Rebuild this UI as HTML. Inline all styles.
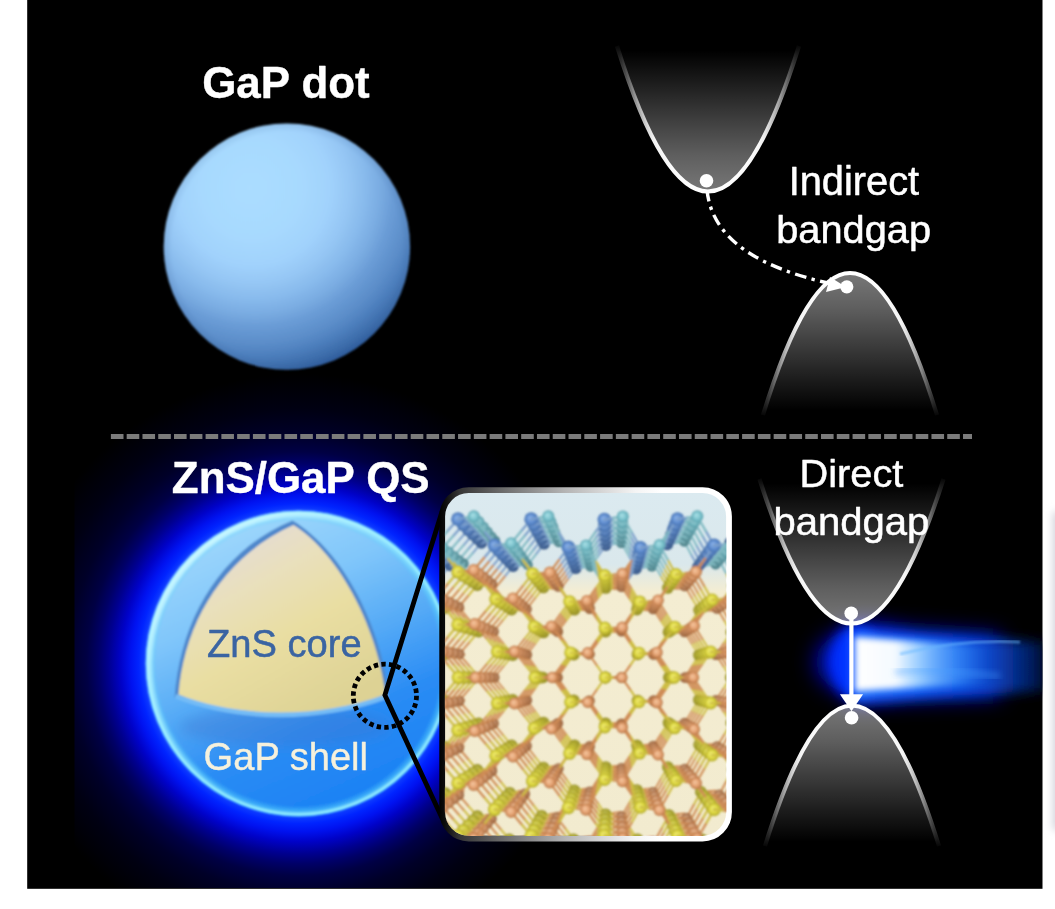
<!DOCTYPE html>
<html lang="en">
<head>
<meta charset="utf-8">
<title>GaP dot vs ZnS/GaP QS</title>
<style>
html,body{margin:0;padding:0;background:#fff;}
body{width:1055px;height:909px;overflow:hidden;font-family:"Liberation Sans",sans-serif;}
svg{display:block;}
</style>
</head>
<body>
<svg width="1055" height="909" viewBox="0 0 1055 909">
<defs>

<radialGradient id="gDot" gradientUnits="userSpaceOnUse" cx="257" cy="188" r="192" fx="250" fy="188"><stop offset="0.000" stop-color="#abddff"/><stop offset="0.263" stop-color="#a7d9fe"/><stop offset="0.400" stop-color="#a1d2fc"/><stop offset="0.500" stop-color="#95c6f4"/><stop offset="0.579" stop-color="#88baec"/><stop offset="0.658" stop-color="#79abe1"/><stop offset="0.721" stop-color="#6a9cd6"/><stop offset="0.816" stop-color="#5a8cc8"/><stop offset="0.868" stop-color="#4e80be"/><stop offset="0.947" stop-color="#3a6aa8"/><stop offset="1.000" stop-color="#28569a"/></radialGradient>
<radialGradient id="gDotRim" gradientUnits="userSpaceOnUse" cx="286.9" cy="246.6" r="123.2">
  <stop offset="0.93" stop-color="#345a90" stop-opacity="0"/>
  <stop offset="1" stop-color="#345a90" stop-opacity="0.15"/>
</radialGradient>
<linearGradient id="gFillUp" x1="0" y1="1" x2="0" y2="0">
  <stop offset="0" stop-color="#fff" stop-opacity="0.47"/>
  <stop offset="0.25" stop-color="#fff" stop-opacity="0.37"/>
  <stop offset="0.5" stop-color="#fff" stop-opacity="0.24"/>
  <stop offset="0.75" stop-color="#fff" stop-opacity="0.11"/>
  <stop offset="0.97" stop-color="#fff" stop-opacity="0"/>
</linearGradient>
<linearGradient id="gFillDn" x1="0" y1="0" x2="0" y2="1">
  <stop offset="0" stop-color="#fff" stop-opacity="0.47"/>
  <stop offset="0.25" stop-color="#fff" stop-opacity="0.37"/>
  <stop offset="0.5" stop-color="#fff" stop-opacity="0.24"/>
  <stop offset="0.75" stop-color="#fff" stop-opacity="0.11"/>
  <stop offset="0.97" stop-color="#fff" stop-opacity="0"/>
</linearGradient>
<linearGradient id="gStrUp" gradientUnits="objectBoundingBox" x1="0" y1="1" x2="0" y2="0">
  <stop offset="0" stop-color="#fff"/>
  <stop offset="0.35" stop-color="#fff" stop-opacity="0.95"/>
  <stop offset="0.6" stop-color="#fff" stop-opacity="0.6"/>
  <stop offset="0.8" stop-color="#fff" stop-opacity="0.3"/>
  <stop offset="1" stop-color="#fff" stop-opacity="0.03"/>
</linearGradient>
<linearGradient id="gStrDn" gradientUnits="objectBoundingBox" x1="0" y1="0" x2="0" y2="1">
  <stop offset="0" stop-color="#fff"/>
  <stop offset="0.35" stop-color="#fff" stop-opacity="0.95"/>
  <stop offset="0.6" stop-color="#fff" stop-opacity="0.6"/>
  <stop offset="0.8" stop-color="#fff" stop-opacity="0.3"/>
  <stop offset="1" stop-color="#fff" stop-opacity="0.03"/>
</linearGradient>
<radialGradient id="gGlow" gradientUnits="userSpaceOnUse" cx="298.6" cy="663.6" r="290">
  <stop offset="0.0000" stop-color="#1040ff"/><stop offset="0.5276" stop-color="#1040ff"/><stop offset="0.5517" stop-color="#0024ff"/><stop offset="0.5793" stop-color="#0012f0"/><stop offset="0.6138" stop-color="#0002c8"/><stop offset="0.6552" stop-color="#000090"/><stop offset="0.6897" stop-color="#000068"/><stop offset="0.7310" stop-color="#000044"/><stop offset="0.7931" stop-color="#000028"/><stop offset="0.8793" stop-color="#000012"/><stop offset="1.0000" stop-color="#000000"/>
</radialGradient>
<linearGradient id="gQS" gradientUnits="userSpaceOnUse" x1="225" y1="518" x2="355" y2="812">
  <stop offset="0" stop-color="#a2d9fc"/>
  <stop offset="0.28" stop-color="#80c6fa"/>
  <stop offset="0.52" stop-color="#52a8f6"/>
  <stop offset="0.72" stop-color="#2a8cf4"/>
  <stop offset="1" stop-color="#1a80f4"/>
</linearGradient>
<radialGradient id="gRim" gradientUnits="userSpaceOnUse" cx="298.6" cy="663.6" r="152.8">
  <stop offset="0.93" stop-color="#50d0ff" stop-opacity="0"/>
  <stop offset="0.968" stop-color="#5cd8ff" stop-opacity="0.55"/>
  <stop offset="0.986" stop-color="#a4f6ff" stop-opacity="1"/>
  <stop offset="1" stop-color="#40c8ff" stop-opacity="1"/>
</radialGradient>
<linearGradient id="gRimHi" gradientUnits="userSpaceOnUse" x1="190" y1="540" x2="400" y2="780">
  <stop offset="0" stop-color="#d8fbff" stop-opacity="0.9"/>
  <stop offset="0.45" stop-color="#b0f0ff" stop-opacity="0.35"/>
  <stop offset="0.7" stop-color="#b0f0ff" stop-opacity="0"/>
</linearGradient>
<linearGradient id="gCore" gradientUnits="userSpaceOnUse" x1="225" y1="545" x2="320" y2="715">
  <stop offset="0" stop-color="#e4dcd4"/>
  <stop offset="0.25" stop-color="#e9e0bc"/>
  <stop offset="0.55" stop-color="#e9dea2"/>
  <stop offset="1" stop-color="#ddd294"/>
</linearGradient>
<linearGradient id="gFrame" gradientUnits="userSpaceOnUse" x1="439" y1="0" x2="732" y2="0">
  <stop offset="0" stop-color="#000"/>
  <stop offset="0.02" stop-color="#0c0c0c"/>
  <stop offset="0.07" stop-color="#363636"/>
  <stop offset="0.235" stop-color="#727272"/>
  <stop offset="0.43" stop-color="#b4b4b4"/>
  <stop offset="0.67" stop-color="#f4f4f4"/>
  <stop offset="0.76" stop-color="#fff"/>
  <stop offset="1" stop-color="#fff"/>
</linearGradient>
<linearGradient id="gInBg" gradientUnits="userSpaceOnUse" x1="0" y1="492" x2="0" y2="836">
  <stop offset="0" stop-color="#dbeaf0"/>
  <stop offset="0.21" stop-color="#dae8ec"/>
  <stop offset="0.29" stop-color="#f4edd2"/>
  <stop offset="1" stop-color="#f2ebcf"/>
</linearGradient>
<clipPath id="cIn"><rect x="444.8" y="492.7" width="281.6" height="343.2" rx="24" ry="24"/></clipPath>
<clipPath id="cBlack"><rect x="27.2" y="0" width="1015.3" height="888.8"/></clipPath>
<clipPath id="cGlow"><rect x="74.5" y="0" width="500" height="888"/></clipPath>
<clipPath id="cQS"><circle cx="298.6" cy="663.6" r="152.8"/></clipPath>
<radialGradient id="ay0" cx="0.5" cy="0.5" r="0.5" fx="0.4" fy="0.38"><stop offset="0" stop-color="#f6f27a"/><stop offset="0.6" stop-color="#e4de44"/><stop offset="1" stop-color="#b6ae2c"/></radialGradient><radialGradient id="ay1" cx="0.5" cy="0.5" r="0.5" fx="0.4" fy="0.38"><stop offset="0" stop-color="#efeb76"/><stop offset="0.6" stop-color="#ded842"/><stop offset="1" stop-color="#b1a92a"/></radialGradient><radialGradient id="ay2" cx="0.5" cy="0.5" r="0.5" fx="0.4" fy="0.38"><stop offset="0" stop-color="#e9e573"/><stop offset="0.6" stop-color="#d8d240"/><stop offset="1" stop-color="#aca529"/></radialGradient><radialGradient id="ay3" cx="0.5" cy="0.5" r="0.5" fx="0.4" fy="0.38"><stop offset="0" stop-color="#e3df70"/><stop offset="0.6" stop-color="#d2cd3e"/><stop offset="1" stop-color="#a8a028"/></radialGradient><radialGradient id="ay4" cx="0.5" cy="0.5" r="0.5" fx="0.4" fy="0.38"><stop offset="0" stop-color="#ddd96d"/><stop offset="0.6" stop-color="#cdc73d"/><stop offset="1" stop-color="#a39c27"/></radialGradient><radialGradient id="ay5" cx="0.5" cy="0.5" r="0.5" fx="0.4" fy="0.38"><stop offset="0" stop-color="#d7d36a"/><stop offset="0.6" stop-color="#c7c23b"/><stop offset="1" stop-color="#9f9826"/></radialGradient><radialGradient id="ay6" cx="0.5" cy="0.5" r="0.5" fx="0.4" fy="0.38"><stop offset="0" stop-color="#d1cd67"/><stop offset="0.6" stop-color="#c1bc39"/><stop offset="1" stop-color="#9a9325"/></radialGradient><radialGradient id="ay7" cx="0.5" cy="0.5" r="0.5" fx="0.4" fy="0.38"><stop offset="0" stop-color="#cac764"/><stop offset="0.6" stop-color="#bcb738"/><stop offset="1" stop-color="#968f24"/></radialGradient><radialGradient id="ay8" cx="0.5" cy="0.5" r="0.5" fx="0.4" fy="0.38"><stop offset="0" stop-color="#c4c161"/><stop offset="0.6" stop-color="#b6b136"/><stop offset="1" stop-color="#918b23"/></radialGradient><radialGradient id="ay9" cx="0.5" cy="0.5" r="0.5" fx="0.4" fy="0.38"><stop offset="0" stop-color="#bebb5e"/><stop offset="0.6" stop-color="#b0ac34"/><stop offset="1" stop-color="#8d8622"/></radialGradient><radialGradient id="ay10" cx="0.5" cy="0.5" r="0.5" fx="0.4" fy="0.38"><stop offset="0" stop-color="#b8b55b"/><stop offset="0.6" stop-color="#aba633"/><stop offset="1" stop-color="#888221"/></radialGradient><radialGradient id="ay11" cx="0.5" cy="0.5" r="0.5" fx="0.4" fy="0.38"><stop offset="0" stop-color="#b2af58"/><stop offset="0.6" stop-color="#a5a031"/><stop offset="1" stop-color="#837e1f"/></radialGradient><radialGradient id="ay12" cx="0.5" cy="0.5" r="0.5" fx="0.4" fy="0.38"><stop offset="0" stop-color="#aca955"/><stop offset="0.6" stop-color="#9f9b2f"/><stop offset="1" stop-color="#7f791e"/></radialGradient><radialGradient id="ao0" cx="0.5" cy="0.5" r="0.5" fx="0.4" fy="0.38"><stop offset="0" stop-color="#f6c8a2"/><stop offset="0.6" stop-color="#e4a272"/><stop offset="1" stop-color="#b87444"/></radialGradient><radialGradient id="ao1" cx="0.5" cy="0.5" r="0.5" fx="0.4" fy="0.38"><stop offset="0" stop-color="#efc39d"/><stop offset="0.6" stop-color="#de9d6f"/><stop offset="1" stop-color="#b37142"/></radialGradient><radialGradient id="ao2" cx="0.5" cy="0.5" r="0.5" fx="0.4" fy="0.38"><stop offset="0" stop-color="#e9be99"/><stop offset="0.6" stop-color="#d8996c"/><stop offset="1" stop-color="#ae6e40"/></radialGradient><radialGradient id="ao3" cx="0.5" cy="0.5" r="0.5" fx="0.4" fy="0.38"><stop offset="0" stop-color="#e3b995"/><stop offset="0.6" stop-color="#d29569"/><stop offset="1" stop-color="#aa6b3e"/></radialGradient><radialGradient id="ao4" cx="0.5" cy="0.5" r="0.5" fx="0.4" fy="0.38"><stop offset="0" stop-color="#ddb491"/><stop offset="0.6" stop-color="#cd9166"/><stop offset="1" stop-color="#a5683d"/></radialGradient><radialGradient id="ao5" cx="0.5" cy="0.5" r="0.5" fx="0.4" fy="0.38"><stop offset="0" stop-color="#d7af8d"/><stop offset="0.6" stop-color="#c78d63"/><stop offset="1" stop-color="#a1653b"/></radialGradient><radialGradient id="ao6" cx="0.5" cy="0.5" r="0.5" fx="0.4" fy="0.38"><stop offset="0" stop-color="#d1aa89"/><stop offset="0.6" stop-color="#c18960"/><stop offset="1" stop-color="#9c6239"/></radialGradient><radialGradient id="ao7" cx="0.5" cy="0.5" r="0.5" fx="0.4" fy="0.38"><stop offset="0" stop-color="#caa585"/><stop offset="0.6" stop-color="#bc855e"/><stop offset="1" stop-color="#975f38"/></radialGradient><radialGradient id="ao8" cx="0.5" cy="0.5" r="0.5" fx="0.4" fy="0.38"><stop offset="0" stop-color="#c4a081"/><stop offset="0.6" stop-color="#b6815b"/><stop offset="1" stop-color="#935c36"/></radialGradient><radialGradient id="ao9" cx="0.5" cy="0.5" r="0.5" fx="0.4" fy="0.38"><stop offset="0" stop-color="#be9b7d"/><stop offset="0.6" stop-color="#b07d58"/><stop offset="1" stop-color="#8e5934"/></radialGradient><radialGradient id="ao10" cx="0.5" cy="0.5" r="0.5" fx="0.4" fy="0.38"><stop offset="0" stop-color="#b89679"/><stop offset="0.6" stop-color="#ab7955"/><stop offset="1" stop-color="#8a5733"/></radialGradient><radialGradient id="ao11" cx="0.5" cy="0.5" r="0.5" fx="0.4" fy="0.38"><stop offset="0" stop-color="#b29175"/><stop offset="0.6" stop-color="#a57552"/><stop offset="1" stop-color="#855431"/></radialGradient><radialGradient id="ao12" cx="0.5" cy="0.5" r="0.5" fx="0.4" fy="0.38"><stop offset="0" stop-color="#ac8c71"/><stop offset="0.6" stop-color="#9f714f"/><stop offset="1" stop-color="#80512f"/></radialGradient><radialGradient id="ab0" cx="0.5" cy="0.5" r="0.5" fx="0.4" fy="0.38"><stop offset="0" stop-color="#92baf0"/><stop offset="0.6" stop-color="#6492d6"/><stop offset="1" stop-color="#4a76b6"/></radialGradient><radialGradient id="ab1" cx="0.5" cy="0.5" r="0.5" fx="0.4" fy="0.38"><stop offset="0" stop-color="#8eb5ea"/><stop offset="0.6" stop-color="#618ed0"/><stop offset="1" stop-color="#4873b1"/></radialGradient><radialGradient id="ab2" cx="0.5" cy="0.5" r="0.5" fx="0.4" fy="0.38"><stop offset="0" stop-color="#8ab0e4"/><stop offset="0.6" stop-color="#5f8acb"/><stop offset="1" stop-color="#4670ac"/></radialGradient><radialGradient id="ab3" cx="0.5" cy="0.5" r="0.5" fx="0.4" fy="0.38"><stop offset="0" stop-color="#87acde"/><stop offset="0.6" stop-color="#5c87c5"/><stop offset="1" stop-color="#446da8"/></radialGradient><radialGradient id="ab4" cx="0.5" cy="0.5" r="0.5" fx="0.4" fy="0.38"><stop offset="0" stop-color="#83a7d8"/><stop offset="0.6" stop-color="#5a83c0"/><stop offset="1" stop-color="#426aa3"/></radialGradient><radialGradient id="ab5" cx="0.5" cy="0.5" r="0.5" fx="0.4" fy="0.38"><stop offset="0" stop-color="#7fa2d2"/><stop offset="0.6" stop-color="#577fbb"/><stop offset="1" stop-color="#40679f"/></radialGradient><radialGradient id="ab6" cx="0.5" cy="0.5" r="0.5" fx="0.4" fy="0.38"><stop offset="0" stop-color="#7c9ecc"/><stop offset="0.6" stop-color="#557cb5"/><stop offset="1" stop-color="#3e649a"/></radialGradient><radialGradient id="ab7" cx="0.5" cy="0.5" r="0.5" fx="0.4" fy="0.38"><stop offset="0" stop-color="#7899c6"/><stop offset="0.6" stop-color="#5278b0"/><stop offset="1" stop-color="#3d6196"/></radialGradient><radialGradient id="ab8" cx="0.5" cy="0.5" r="0.5" fx="0.4" fy="0.38"><stop offset="0" stop-color="#7494c0"/><stop offset="0.6" stop-color="#5074ab"/><stop offset="1" stop-color="#3b5e91"/></radialGradient><radialGradient id="ab9" cx="0.5" cy="0.5" r="0.5" fx="0.4" fy="0.38"><stop offset="0" stop-color="#7190ba"/><stop offset="0.6" stop-color="#4d71a5"/><stop offset="1" stop-color="#395b8d"/></radialGradient><radialGradient id="ab10" cx="0.5" cy="0.5" r="0.5" fx="0.4" fy="0.38"><stop offset="0" stop-color="#6d8bb4"/><stop offset="0.6" stop-color="#4b6da0"/><stop offset="1" stop-color="#375888"/></radialGradient><radialGradient id="ab11" cx="0.5" cy="0.5" r="0.5" fx="0.4" fy="0.38"><stop offset="0" stop-color="#6986ae"/><stop offset="0.6" stop-color="#48699b"/><stop offset="1" stop-color="#355583"/></radialGradient><radialGradient id="ab12" cx="0.5" cy="0.5" r="0.5" fx="0.4" fy="0.38"><stop offset="0" stop-color="#6682a8"/><stop offset="0.6" stop-color="#466695"/><stop offset="1" stop-color="#33527f"/></radialGradient><radialGradient id="ac0" cx="0.5" cy="0.5" r="0.5" fx="0.4" fy="0.38"><stop offset="0" stop-color="#ace2e8"/><stop offset="0.6" stop-color="#7ec4ce"/><stop offset="1" stop-color="#5aa2ae"/></radialGradient><radialGradient id="ac1" cx="0.5" cy="0.5" r="0.5" fx="0.4" fy="0.38"><stop offset="0" stop-color="#a7dce2"/><stop offset="0.6" stop-color="#7abfc8"/><stop offset="1" stop-color="#579da9"/></radialGradient><radialGradient id="ac2" cx="0.5" cy="0.5" r="0.5" fx="0.4" fy="0.38"><stop offset="0" stop-color="#a3d6dc"/><stop offset="0.6" stop-color="#77bac3"/><stop offset="1" stop-color="#5599a5"/></radialGradient><radialGradient id="ac3" cx="0.5" cy="0.5" r="0.5" fx="0.4" fy="0.38"><stop offset="0" stop-color="#9fd1d6"/><stop offset="0.6" stop-color="#74b5be"/><stop offset="1" stop-color="#5395a0"/></radialGradient><radialGradient id="ac4" cx="0.5" cy="0.5" r="0.5" fx="0.4" fy="0.38"><stop offset="0" stop-color="#9acbd0"/><stop offset="0.6" stop-color="#71b0b9"/><stop offset="1" stop-color="#51919c"/></radialGradient><radialGradient id="ac5" cx="0.5" cy="0.5" r="0.5" fx="0.4" fy="0.38"><stop offset="0" stop-color="#96c5cb"/><stop offset="0.6" stop-color="#6eabb4"/><stop offset="1" stop-color="#4e8d98"/></radialGradient><radialGradient id="ac6" cx="0.5" cy="0.5" r="0.5" fx="0.4" fy="0.38"><stop offset="0" stop-color="#92c0c5"/><stop offset="0.6" stop-color="#6ba6af"/><stop offset="1" stop-color="#4c8993"/></radialGradient><radialGradient id="ac7" cx="0.5" cy="0.5" r="0.5" fx="0.4" fy="0.38"><stop offset="0" stop-color="#8dbabf"/><stop offset="0.6" stop-color="#67a1a9"/><stop offset="1" stop-color="#4a858f"/></radialGradient><radialGradient id="ac8" cx="0.5" cy="0.5" r="0.5" fx="0.4" fy="0.38"><stop offset="0" stop-color="#89b4b9"/><stop offset="0.6" stop-color="#649ca4"/><stop offset="1" stop-color="#48818b"/></radialGradient><radialGradient id="ac9" cx="0.5" cy="0.5" r="0.5" fx="0.4" fy="0.38"><stop offset="0" stop-color="#85afb3"/><stop offset="0.6" stop-color="#61979f"/><stop offset="1" stop-color="#457d86"/></radialGradient><radialGradient id="ac10" cx="0.5" cy="0.5" r="0.5" fx="0.4" fy="0.38"><stop offset="0" stop-color="#81a9ae"/><stop offset="0.6" stop-color="#5e939a"/><stop offset="1" stop-color="#437982"/></radialGradient><radialGradient id="ac11" cx="0.5" cy="0.5" r="0.5" fx="0.4" fy="0.38"><stop offset="0" stop-color="#7ca3a8"/><stop offset="0.6" stop-color="#5b8e95"/><stop offset="1" stop-color="#41757e"/></radialGradient><radialGradient id="ac12" cx="0.5" cy="0.5" r="0.5" fx="0.4" fy="0.38"><stop offset="0" stop-color="#789ea2"/><stop offset="0.6" stop-color="#588990"/><stop offset="1" stop-color="#3e7179"/></radialGradient>
<filter id="bL" x="-5%" y="-5%" width="110%" height="110%"><feGaussianBlur stdDeviation="1.1"/></filter>
<filter id="b05" x="-5%" y="-5%" width="110%" height="110%"><feGaussianBlur stdDeviation="0.5"/></filter>
<filter id="b1" x="-5%" y="-5%" width="110%" height="110%"><feGaussianBlur stdDeviation="0.8"/></filter>
<filter id="b2" x="-10%" y="-10%" width="120%" height="120%"><feGaussianBlur stdDeviation="1.3"/></filter>
<filter id="b3" x="-20%" y="-40%" width="140%" height="180%"><feGaussianBlur stdDeviation="3"/></filter>
<filter id="b4" x="-300%" y="-20%" width="700%" height="140%"><feGaussianBlur stdDeviation="4"/></filter>
<filter id="b6" x="-30%" y="-50%" width="160%" height="200%"><feGaussianBlur stdDeviation="6"/></filter>
<filter id="b10" x="-40%" y="-80%" width="180%" height="260%"><feGaussianBlur stdDeviation="11"/></filter>
<linearGradient id="gBeam" gradientUnits="userSpaceOnUse" x1="855" y1="0" x2="1045" y2="0">
  <stop offset="0" stop-color="#2a7cff"/>
  <stop offset="0.3" stop-color="#1a6cff"/>
  <stop offset="0.55" stop-color="#1058e6"/>
  <stop offset="0.72" stop-color="#0a44c4"/>
  <stop offset="0.88" stop-color="#052678"/>
  <stop offset="1" stop-color="#010c30"/>
</linearGradient>
<linearGradient id="gBeamW" gradientUnits="userSpaceOnUse" x1="855" y1="0" x2="990" y2="0">
  <stop offset="0" stop-color="#fff" stop-opacity="1"/>
  <stop offset="0.30" stop-color="#f4faff" stop-opacity="1"/>
  <stop offset="0.46" stop-color="#b0dcff" stop-opacity="0.9"/>
  <stop offset="0.7" stop-color="#60b0ff" stop-opacity="0.6"/>
  <stop offset="1" stop-color="#3a90ff" stop-opacity="0"/>
</linearGradient>

</defs>
<rect x="0" y="0" width="1055" height="909" fill="#fff"/>
<rect x="1053" y="512" width="12" height="318" fill="#d2d2da" filter="url(#b4)"/>
<rect x="27.2" y="0" width="1015.3" height="888.8" fill="#000"/>
<g clip-path="url(#cBlack)">
<g clip-path="url(#cGlow)"><circle cx="298.6" cy="663.6" r="290" fill="url(#gGlow)"/></g>
<path d="M110.9,436.5H972" stroke="#7b7b7b" stroke-width="5" stroke-dasharray="12.6 3.18" fill="none"/>
<g filter="url(#b1)"><circle cx="286.9" cy="246.6" r="123.2" fill="url(#gDot)"/><circle cx="286.9" cy="246.6" r="123.2" fill="url(#gDotRim)"/></g>
<g>
<ellipse cx="866" cy="662" rx="50" ry="34" fill="#0010c8" filter="url(#b10)"/>
<path d="M850,626 L1000,636 L1000,696 L850,701 Z" fill="#0018d0" filter="url(#b10)"/>
<ellipse cx="856" cy="662" rx="26" ry="36" fill="#0030ff" filter="url(#b6)"/>
<path d="M853,631 L1046,642 L1046,691 L940,696 L853,701 Z" fill="url(#gBeam)" filter="url(#b6)"/>
<path d="M855,637 L990,647 L990,683 L855,691 Z" fill="url(#gBeamW)" filter="url(#b3)"/>
<path d="M900,654 C940,644 980,640 1020,642" stroke="#6ab8ff" stroke-opacity="0.55" stroke-width="3" fill="none" filter="url(#b2)"/>
<path d="M895,672 C930,668 960,672 1000,676" stroke="#4aa0ff" stroke-opacity="0.45" stroke-width="5" fill="none" filter="url(#b3)"/>
</g>
<path d="M617.0,46.0 Q708.0,337.0 799.0,46.0Z" fill="url(#gFillUp)"/>
<path d="M617.0,46.0 Q708.0,337.0 799.0,46.0" fill="none" stroke="url(#gStrUp)" stroke-width="4.2" filter="url(#b05)"/>
<path d="M763.0,415.0 Q850.0,131.0 937.0,415.0Z" fill="url(#gFillDn)"/>
<path d="M763.0,415.0 Q850.0,131.0 937.0,415.0" fill="none" stroke="url(#gStrDn)" stroke-width="4.2" filter="url(#b05)"/>
<path d="M759.5,479.0 Q851.5,768.0 943.5,479.0Z" fill="url(#gFillUp)"/>
<path d="M759.5,479.0 Q851.5,768.0 943.5,479.0" fill="none" stroke="url(#gStrUp)" stroke-width="4.2" filter="url(#b05)"/>
<path d="M765.0,846.0 Q852.0,565.0 939.0,846.0Z" fill="url(#gFillDn)"/>
<path d="M765.0,846.0 Q852.0,565.0 939.0,846.0" fill="none" stroke="url(#gStrDn)" stroke-width="4.2" filter="url(#b05)"/>
<path d="M707,190 C712,240 760,268 832,284" fill="none" stroke="#fff" stroke-width="3.4" stroke-dasharray="11.5 5.5 3.4 5.5"/>
<path d="M846,287 L826,292 L830,277 Z" fill="#fff"/>
<circle cx="706.5" cy="180.7" r="6.8" fill="#fff"/>
<circle cx="846.8" cy="286.8" r="6.6" fill="#fff"/>
<path d="M851.4,613V696" stroke="#fff" stroke-width="4.2" fill="none"/>
<path d="M839.9,694.2H863.1L851.5,711.2Z" fill="#fff"/>
<circle cx="851.2" cy="613.2" r="6.8" fill="#fff"/>
<circle cx="851.6" cy="717.7" r="6.8" fill="#fff"/>
<g filter="url(#b1)">
<circle cx="298.6" cy="663.6" r="152.8" fill="url(#gQS)"/>
<circle cx="298.6" cy="663.6" r="152.8" fill="url(#gRim)"/>
<circle cx="298.6" cy="663.6" r="149.3" fill="none" stroke="url(#gRimHi)" stroke-width="6" filter="url(#b2)"/>
<ellipse cx="285" cy="727" rx="105" ry="20" fill="#3a74cc" fill-opacity="0.35" filter="url(#b6)"/>
<path d="M292.5,520.5 C345,552 382,630 388.5,696 C320,722 240,722 174.5,697.5 C180,620 220,550 292.5,520.5Z" fill="#4f88cc"/>
<path d="M176,694 C240,716 320,716 388,694 L388,698.5 C320,723.5 240,723.5 175,698.5Z" fill="#74bcf6"/>
<path d="M293.5,525 C342,556 378,632 385.3,694.5 C320,718.5 240,718.5 178.5,694.5 C184,622 224,556 293.5,525Z" fill="url(#gCore)"/>
</g>
<circle cx="384.9" cy="695.8" r="31.6" fill="none" stroke="#000" stroke-width="4.8" stroke-dasharray="4.4 3.236"/>
<path d="M442.5,510 L384.9,695 L442.5,819" fill="none" stroke="#000" stroke-width="4.8" stroke-linejoin="miter"/>
<rect x="442.2" y="490.1" width="286.8" height="348.4" rx="26.5" ry="26.5" fill="url(#gInBg)" stroke="url(#gFrame)" stroke-width="5.8"/>
<g clip-path="url(#cIn)"><g filter="url(#bL)">
<g stroke-linecap="round" fill="none">
<path d="M450.3,565.4L441.1,553.1" stroke="#7c9fca" stroke-width="1.9"/>
<path d="M441.1,553.1L432.0,540.9" stroke="#80bac2" stroke-width="1.9"/>
<path d="M450.3,565.4L441.1,575.9" stroke="#7c9fca" stroke-width="1.9"/>
<path d="M441.1,575.9L432.0,586.4" stroke="#cf8c56" stroke-width="1.9"/>
<path d="M481.4,542.9L472.5,553.3" stroke="#7c9fca" stroke-width="1.9"/>
<path d="M472.5,553.3L463.6,563.7" stroke="#80bac2" stroke-width="1.9"/>
<path d="M513.1,566.1L504.1,553.5" stroke="#7c9fca" stroke-width="1.9"/>
<path d="M504.1,553.5L495.1,540.9" stroke="#80bac2" stroke-width="1.9"/>
<path d="M513.1,566.1L504.6,576.6" stroke="#7c9fca" stroke-width="1.9"/>
<path d="M504.6,576.6L496.0,587.1" stroke="#cf8c56" stroke-width="1.9"/>
<path d="M544.0,543.8L535.9,554.4" stroke="#7c9fca" stroke-width="1.9"/>
<path d="M535.9,554.4L527.7,565.0" stroke="#80bac2" stroke-width="1.9"/>
<path d="M575.7,568.4L567.2,555.3" stroke="#7c9fca" stroke-width="1.7"/>
<path d="M567.2,555.3L558.8,542.2" stroke="#80bac2" stroke-width="1.7"/>
<path d="M575.7,568.4L567.9,579.0" stroke="#7c9fca" stroke-width="1.7"/>
<path d="M567.9,579.0L560.2,589.6" stroke="#cf8c56" stroke-width="1.7"/>
<path d="M605.9,545.3L598.2,556.1" stroke="#7c9fca" stroke-width="1.8"/>
<path d="M598.2,556.1L590.5,566.9" stroke="#80bac2" stroke-width="1.8"/>
<path d="M636.1,568.7L628.7,555.9" stroke="#7c9fca" stroke-width="1.7"/>
<path d="M628.7,555.9L621.3,543.1" stroke="#80bac2" stroke-width="1.7"/>
<path d="M636.1,568.7L628.6,579.1" stroke="#7c9fca" stroke-width="1.7"/>
<path d="M628.6,579.1L621.1,589.4" stroke="#cf8c56" stroke-width="1.7"/>
<path d="M667.3,544.4L659.6,555.5" stroke="#7c9fca" stroke-width="1.9"/>
<path d="M659.6,555.5L651.9,566.6" stroke="#80bac2" stroke-width="1.9"/>
<path d="M697.9,566.8L691.0,554.2" stroke="#7c9fca" stroke-width="1.9"/>
<path d="M691.0,554.2L684.2,541.6" stroke="#80bac2" stroke-width="1.9"/>
<path d="M697.9,566.8L690.2,577.9" stroke="#7c9fca" stroke-width="1.9"/>
<path d="M690.2,577.9L682.5,589.0" stroke="#cf8c56" stroke-width="1.9"/>
<path d="M730.1,542.9L722.8,553.6" stroke="#7c9fca" stroke-width="1.9"/>
<path d="M722.8,553.6L715.6,564.3" stroke="#80bac2" stroke-width="1.9"/>
<circle cx="450.3" cy="565.4" r="5.8" fill="url(#ab11)"/>
<circle cx="481.4" cy="542.9" r="5.8" fill="url(#ab11)"/>
<circle cx="513.1" cy="566.1" r="5.8" fill="url(#ab11)"/>
<circle cx="544.0" cy="543.8" r="5.8" fill="url(#ab11)"/>
<circle cx="575.7" cy="568.4" r="5.7" fill="url(#ab11)"/>
<circle cx="605.9" cy="545.3" r="5.7" fill="url(#ab11)"/>
<circle cx="636.1" cy="568.7" r="5.7" fill="url(#ab11)"/>
<circle cx="667.3" cy="544.4" r="5.8" fill="url(#ab11)"/>
<circle cx="697.9" cy="566.8" r="5.8" fill="url(#ab11)"/>
<circle cx="730.1" cy="542.9" r="5.8" fill="url(#ab11)"/>
<path d="M450.3,565.4L456.9,564.5" stroke="#7c9fca" stroke-width="1.9"/>
<path d="M456.9,564.5L463.6,563.7" stroke="#80bac2" stroke-width="1.9"/>
<path d="M481.4,542.9L488.2,541.9" stroke="#7c9fca" stroke-width="1.9"/>
<path d="M488.2,541.9L495.1,540.9" stroke="#80bac2" stroke-width="1.9"/>
<path d="M513.1,566.1L520.4,565.6" stroke="#7c9fca" stroke-width="1.9"/>
<path d="M520.4,565.6L527.7,565.0" stroke="#80bac2" stroke-width="1.9"/>
<path d="M544.0,543.8L551.4,543.0" stroke="#7c9fca" stroke-width="1.9"/>
<path d="M551.4,543.0L558.8,542.2" stroke="#80bac2" stroke-width="1.9"/>
<path d="M575.7,568.4L583.1,567.7" stroke="#7c9fca" stroke-width="1.7"/>
<path d="M583.1,567.7L590.5,566.9" stroke="#80bac2" stroke-width="1.7"/>
<path d="M605.9,545.3L613.6,544.2" stroke="#7c9fca" stroke-width="1.8"/>
<path d="M613.6,544.2L621.3,543.1" stroke="#80bac2" stroke-width="1.8"/>
<path d="M636.1,568.7L644.0,567.7" stroke="#7c9fca" stroke-width="1.7"/>
<path d="M644.0,567.7L651.9,566.6" stroke="#80bac2" stroke-width="1.7"/>
<path d="M667.3,544.4L675.7,543.0" stroke="#7c9fca" stroke-width="1.9"/>
<path d="M675.7,543.0L684.2,541.6" stroke="#80bac2" stroke-width="1.9"/>
<path d="M697.9,566.8L706.7,565.5" stroke="#7c9fca" stroke-width="1.9"/>
<path d="M706.7,565.5L715.6,564.3" stroke="#80bac2" stroke-width="1.9"/>
<path d="M730.1,542.9L738.9,541.9" stroke="#7c9fca" stroke-width="1.9"/>
<path d="M738.9,541.9L747.7,540.9" stroke="#80bac2" stroke-width="1.9"/>
<circle cx="463.6" cy="563.7" r="5.1" fill="url(#ac10)"/>
<circle cx="495.1" cy="540.9" r="5.1" fill="url(#ac10)"/>
<circle cx="527.7" cy="565.0" r="5.0" fill="url(#ac10)"/>
<circle cx="558.8" cy="542.2" r="5.0" fill="url(#ac10)"/>
<circle cx="590.5" cy="566.9" r="4.9" fill="url(#ac10)"/>
<circle cx="621.3" cy="543.1" r="5.0" fill="url(#ac10)"/>
<circle cx="651.9" cy="566.6" r="5.0" fill="url(#ac10)"/>
<circle cx="684.2" cy="541.6" r="5.1" fill="url(#ac10)"/>
<circle cx="715.6" cy="564.3" r="5.1" fill="url(#ac10)"/>
<path d="M445.2,561.9L454.4,562.8" stroke="#7c9fca" stroke-width="2.0"/>
<path d="M454.4,562.8L463.6,563.7" stroke="#80bac2" stroke-width="2.0"/>
<path d="M445.2,608.1L454.4,608.7" stroke="#cdbd44" stroke-width="2.0"/>
<path d="M454.4,608.7L463.6,609.2" stroke="#cf8c56" stroke-width="2.0"/>
<path d="M445.2,654.4L454.8,654.6" stroke="#cdbd44" stroke-width="2.0"/>
<path d="M454.8,654.6L464.3,654.9" stroke="#cf8c56" stroke-width="2.0"/>
<path d="M445.2,700.6L454.8,700.4" stroke="#cdbd44" stroke-width="2.0"/>
<path d="M454.8,700.4L464.3,700.1" stroke="#cf8c56" stroke-width="2.0"/>
<path d="M445.2,746.9L454.4,746.3" stroke="#cdbd44" stroke-width="2.0"/>
<path d="M454.4,746.3L463.6,745.8" stroke="#cf8c56" stroke-width="2.0"/>
<path d="M445.2,793.1L454.4,792.2" stroke="#cdbd44" stroke-width="2.0"/>
<path d="M454.4,792.2L463.6,791.3" stroke="#cf8c56" stroke-width="2.0"/>
<path d="M445.2,839.3L454.4,838.1" stroke="#cdbd44" stroke-width="2.0"/>
<path d="M454.4,838.1L463.6,836.9" stroke="#cf8c56" stroke-width="2.0"/>
<path d="M477.3,538.8L486.2,539.8" stroke="#7c9fca" stroke-width="2.0"/>
<path d="M486.2,539.8L495.1,540.9" stroke="#80bac2" stroke-width="2.0"/>
<path d="M477.3,585.0L486.6,586.1" stroke="#cdbd44" stroke-width="2.0"/>
<path d="M486.6,586.1L496.0,587.1" stroke="#cf8c56" stroke-width="2.0"/>
<path d="M478.7,631.7L488.1,632.3" stroke="#cdbd44" stroke-width="2.0"/>
<path d="M488.1,632.3L497.6,632.9" stroke="#cf8c56" stroke-width="2.0"/>
<path d="M479.3,677.5L488.7,677.5" stroke="#cdbd44" stroke-width="1.9"/>
<path d="M488.7,677.5L498.2,677.5" stroke="#cf8c56" stroke-width="1.9"/>
<path d="M478.7,723.3L488.1,722.7" stroke="#cdbd44" stroke-width="2.0"/>
<path d="M488.1,722.7L497.6,722.1" stroke="#cf8c56" stroke-width="2.0"/>
<path d="M477.3,770.0L486.6,768.9" stroke="#cdbd44" stroke-width="2.0"/>
<path d="M486.6,768.9L496.0,767.9" stroke="#cf8c56" stroke-width="2.0"/>
<path d="M477.3,816.2L486.2,815.2" stroke="#cdbd44" stroke-width="2.0"/>
<path d="M486.2,815.2L495.1,814.1" stroke="#cf8c56" stroke-width="2.0"/>
<path d="M509.7,562.3L518.7,563.7" stroke="#7c9fca" stroke-width="2.0"/>
<path d="M518.7,563.7L527.7,565.0" stroke="#80bac2" stroke-width="2.0"/>
<path d="M511.6,609.7L520.5,610.5" stroke="#cdbd44" stroke-width="1.8"/>
<path d="M520.5,610.5L529.4,611.3" stroke="#cf8c56" stroke-width="1.8"/>
<path d="M512.8,655.2L521.2,655.3" stroke="#cdbd44" stroke-width="1.7"/>
<path d="M521.2,655.3L529.6,655.5" stroke="#cf8c56" stroke-width="1.7"/>
<path d="M512.8,699.8L521.2,699.7" stroke="#cdbd44" stroke-width="1.7"/>
<path d="M521.2,699.7L529.6,699.5" stroke="#cf8c56" stroke-width="1.7"/>
<path d="M511.6,745.3L520.5,744.5" stroke="#cdbd44" stroke-width="1.8"/>
<path d="M520.5,744.5L529.4,743.7" stroke="#cf8c56" stroke-width="1.8"/>
<path d="M509.7,792.7L518.7,791.3" stroke="#cdbd44" stroke-width="2.0"/>
<path d="M518.7,791.3L527.7,790.0" stroke="#cf8c56" stroke-width="2.0"/>
<path d="M509.3,839.3L518.0,838.1" stroke="#cdbd44" stroke-width="2.0"/>
<path d="M518.0,838.1L526.7,836.9" stroke="#cf8c56" stroke-width="2.0"/>
<path d="M541.6,539.3L550.2,540.7" stroke="#7c9fca" stroke-width="2.0"/>
<path d="M550.2,540.7L558.8,542.2" stroke="#80bac2" stroke-width="2.0"/>
<path d="M543.4,587.6L551.8,588.6" stroke="#cdbd44" stroke-width="1.8"/>
<path d="M551.8,588.6L560.2,589.6" stroke="#cf8c56" stroke-width="1.8"/>
<path d="M543.5,632.6L551.4,632.7" stroke="#cdbd44" stroke-width="1.6"/>
<path d="M551.4,632.7L559.3,632.8" stroke="#cf8c56" stroke-width="1.6"/>
<path d="M543.0,677.5L550.9,677.5" stroke="#cdbd44" stroke-width="1.6"/>
<path d="M550.9,677.5L558.7,677.5" stroke="#cf8c56" stroke-width="1.6"/>
<path d="M543.5,722.4L551.4,722.3" stroke="#cdbd44" stroke-width="1.6"/>
<path d="M551.4,722.3L559.3,722.2" stroke="#cf8c56" stroke-width="1.6"/>
<path d="M543.4,767.4L551.8,766.4" stroke="#cdbd44" stroke-width="1.8"/>
<path d="M551.8,766.4L560.2,765.4" stroke="#cf8c56" stroke-width="1.8"/>
<path d="M541.6,815.7L550.2,814.3" stroke="#cdbd44" stroke-width="2.0"/>
<path d="M550.2,814.3L558.8,812.8" stroke="#cf8c56" stroke-width="2.0"/>
<path d="M574.4,564.8L582.5,565.8" stroke="#7c9fca" stroke-width="1.8"/>
<path d="M582.5,565.8L590.5,566.9" stroke="#80bac2" stroke-width="1.8"/>
<path d="M574.5,609.9L582.4,610.2" stroke="#cdbd44" stroke-width="1.6"/>
<path d="M582.4,610.2L590.3,610.5" stroke="#cf8c56" stroke-width="1.6"/>
<path d="M573.8,654.6L581.7,654.6" stroke="#cdbd44" stroke-width="1.5"/>
<path d="M581.7,654.6L589.7,654.6" stroke="#cf8c56" stroke-width="1.5"/>
<path d="M573.8,700.4L581.7,700.4" stroke="#cdbd44" stroke-width="1.5"/>
<path d="M581.7,700.4L589.7,700.4" stroke="#cf8c56" stroke-width="1.5"/>
<path d="M574.5,745.1L582.4,744.8" stroke="#cdbd44" stroke-width="1.6"/>
<path d="M582.4,744.8L590.3,744.5" stroke="#cf8c56" stroke-width="1.6"/>
<path d="M574.4,790.2L582.5,789.2" stroke="#cdbd44" stroke-width="1.8"/>
<path d="M582.5,789.2L590.5,788.1" stroke="#cf8c56" stroke-width="1.8"/>
<path d="M573.4,839.3L581.6,838.0" stroke="#cdbd44" stroke-width="2.0"/>
<path d="M581.6,838.0L589.9,836.7" stroke="#cf8c56" stroke-width="2.0"/>
<path d="M605.6,540.8L613.4,542.0" stroke="#7c9fca" stroke-width="1.9"/>
<path d="M613.4,542.0L621.3,543.1" stroke="#80bac2" stroke-width="1.9"/>
<path d="M605.8,588.1L613.4,588.8" stroke="#cdbd44" stroke-width="1.7"/>
<path d="M613.4,588.8L621.1,589.4" stroke="#cf8c56" stroke-width="1.7"/>
<path d="M605.6,631.7L613.5,631.9" stroke="#cdbd44" stroke-width="1.5"/>
<path d="M613.5,631.9L621.4,632.1" stroke="#cf8c56" stroke-width="1.5"/>
<path d="M605.4,677.5L613.5,677.5" stroke="#cdbd44" stroke-width="1.3"/>
<path d="M613.5,677.5L621.5,677.5" stroke="#cf8c56" stroke-width="1.3"/>
<path d="M605.6,723.3L613.5,723.1" stroke="#cdbd44" stroke-width="1.5"/>
<path d="M613.5,723.1L621.4,722.9" stroke="#cf8c56" stroke-width="1.5"/>
<path d="M605.8,766.9L613.4,766.2" stroke="#cdbd44" stroke-width="1.7"/>
<path d="M613.4,766.2L621.1,765.6" stroke="#cf8c56" stroke-width="1.7"/>
<path d="M605.6,814.2L613.4,813.0" stroke="#cdbd44" stroke-width="1.9"/>
<path d="M613.4,813.0L621.3,811.9" stroke="#cf8c56" stroke-width="1.9"/>
<path d="M636.9,565.1L644.4,565.9" stroke="#7c9fca" stroke-width="1.8"/>
<path d="M644.4,565.9L651.9,566.6" stroke="#80bac2" stroke-width="1.8"/>
<path d="M637.0,609.7L644.5,610.3" stroke="#cdbd44" stroke-width="1.6"/>
<path d="M644.5,610.3L652.0,610.8" stroke="#cf8c56" stroke-width="1.6"/>
<path d="M637.5,654.4L645.2,654.6" stroke="#cdbd44" stroke-width="1.4"/>
<path d="M645.2,654.6L652.9,654.8" stroke="#cf8c56" stroke-width="1.4"/>
<path d="M637.5,700.6L645.2,700.4" stroke="#cdbd44" stroke-width="1.4"/>
<path d="M645.2,700.4L652.9,700.2" stroke="#cf8c56" stroke-width="1.4"/>
<path d="M637.0,745.3L644.5,744.7" stroke="#cdbd44" stroke-width="1.6"/>
<path d="M644.5,744.7L652.0,744.2" stroke="#cf8c56" stroke-width="1.6"/>
<path d="M636.9,789.9L644.4,789.1" stroke="#cdbd44" stroke-width="1.8"/>
<path d="M644.4,789.1L651.9,788.4" stroke="#cf8c56" stroke-width="1.8"/>
<path d="M637.5,839.3L645.3,838.1" stroke="#cdbd44" stroke-width="2.0"/>
<path d="M645.3,838.1L653.0,836.9" stroke="#cf8c56" stroke-width="2.0"/>
<path d="M669.1,539.9L676.7,540.7" stroke="#7c9fca" stroke-width="2.0"/>
<path d="M676.7,540.7L684.2,541.6" stroke="#80bac2" stroke-width="2.0"/>
<path d="M667.7,588.1L675.1,588.6" stroke="#cdbd44" stroke-width="1.7"/>
<path d="M675.1,588.6L682.5,589.0" stroke="#cf8c56" stroke-width="1.7"/>
<path d="M668.4,632.3L675.4,632.8" stroke="#cdbd44" stroke-width="1.6"/>
<path d="M675.4,632.8L682.5,633.3" stroke="#cf8c56" stroke-width="1.6"/>
<path d="M668.8,677.5L676.0,677.5" stroke="#cdbd44" stroke-width="1.5"/>
<path d="M676.0,677.5L683.2,677.5" stroke="#cf8c56" stroke-width="1.5"/>
<path d="M668.4,722.7L675.4,722.2" stroke="#cdbd44" stroke-width="1.6"/>
<path d="M675.4,722.2L682.5,721.7" stroke="#cf8c56" stroke-width="1.6"/>
<path d="M667.7,766.9L675.1,766.4" stroke="#cdbd44" stroke-width="1.7"/>
<path d="M675.1,766.4L682.5,766.0" stroke="#cf8c56" stroke-width="1.7"/>
<path d="M669.1,815.1L676.7,814.3" stroke="#cdbd44" stroke-width="2.0"/>
<path d="M676.7,814.3L684.2,813.4" stroke="#cf8c56" stroke-width="2.0"/>
<path d="M700.8,563.1L708.2,563.7" stroke="#7c9fca" stroke-width="2.0"/>
<path d="M708.2,563.7L715.6,564.3" stroke="#80bac2" stroke-width="2.0"/>
<path d="M699.0,610.2L706.3,610.5" stroke="#cdbd44" stroke-width="1.8"/>
<path d="M706.3,610.5L713.7,610.8" stroke="#cf8c56" stroke-width="1.8"/>
<path d="M698.7,655.1L705.6,655.3" stroke="#cdbd44" stroke-width="1.6"/>
<path d="M705.6,655.3L712.6,655.5" stroke="#cf8c56" stroke-width="1.6"/>
<path d="M698.7,699.9L705.6,699.7" stroke="#cdbd44" stroke-width="1.6"/>
<path d="M705.6,699.7L712.6,699.5" stroke="#cf8c56" stroke-width="1.6"/>
<path d="M699.0,744.8L706.3,744.5" stroke="#cdbd44" stroke-width="1.8"/>
<path d="M706.3,744.5L713.7,744.2" stroke="#cf8c56" stroke-width="1.8"/>
<path d="M700.8,791.9L708.2,791.3" stroke="#cdbd44" stroke-width="2.0"/>
<path d="M708.2,791.3L715.6,790.7" stroke="#cf8c56" stroke-width="2.0"/>
<path d="M701.7,839.3L708.9,838.1" stroke="#cdbd44" stroke-width="2.0"/>
<path d="M708.9,838.1L716.1,836.9" stroke="#cf8c56" stroke-width="2.0"/>
<path d="M733.7,538.8L740.7,539.8" stroke="#7c9fca" stroke-width="2.0"/>
<path d="M740.7,539.8L747.7,540.9" stroke="#80bac2" stroke-width="2.0"/>
<path d="M733.0,585.6L740.3,586.0" stroke="#cdbd44" stroke-width="2.0"/>
<path d="M740.3,586.0L747.7,586.4" stroke="#cf8c56" stroke-width="2.0"/>
<path d="M731.3,632.2L738.7,632.3" stroke="#cdbd44" stroke-width="1.9"/>
<path d="M738.7,632.3L746.1,632.5" stroke="#cf8c56" stroke-width="1.9"/>
<path d="M730.7,677.5L738.1,677.5" stroke="#cdbd44" stroke-width="1.8"/>
<path d="M738.1,677.5L745.5,677.5" stroke="#cf8c56" stroke-width="1.8"/>
<path d="M731.3,722.8L738.7,722.7" stroke="#cdbd44" stroke-width="1.9"/>
<path d="M738.7,722.7L746.1,722.5" stroke="#cf8c56" stroke-width="1.9"/>
<path d="M733.0,769.4L740.3,769.0" stroke="#cdbd44" stroke-width="2.0"/>
<path d="M740.3,769.0L747.7,768.6" stroke="#cf8c56" stroke-width="2.0"/>
<path d="M733.7,816.2L740.7,815.2" stroke="#cdbd44" stroke-width="2.0"/>
<path d="M740.7,815.2L747.7,814.1" stroke="#cf8c56" stroke-width="2.0"/>
<path d="M445.2,561.9L435.7,549.2" stroke="#7c9fca" stroke-width="2.0"/>
<path d="M435.7,549.2L426.3,536.6" stroke="#80bac2" stroke-width="2.0"/>
<path d="M445.2,561.9L435.7,572.7" stroke="#7c9fca" stroke-width="2.0"/>
<path d="M435.7,572.7L426.3,583.6" stroke="#cf8c56" stroke-width="2.0"/>
<path d="M445.2,608.1L435.7,595.8" stroke="#cdbd44" stroke-width="2.0"/>
<path d="M435.7,595.8L426.3,583.6" stroke="#cf8c56" stroke-width="2.0"/>
<path d="M445.2,608.1L435.7,619.3" stroke="#cdbd44" stroke-width="2.0"/>
<path d="M435.7,619.3L426.3,630.5" stroke="#cf8c56" stroke-width="2.0"/>
<path d="M445.2,654.4L435.7,642.5" stroke="#cdbd44" stroke-width="2.0"/>
<path d="M435.7,642.5L426.3,630.5" stroke="#cf8c56" stroke-width="2.0"/>
<path d="M445.2,654.4L435.7,665.9" stroke="#cdbd44" stroke-width="2.0"/>
<path d="M435.7,665.9L426.3,677.5" stroke="#cf8c56" stroke-width="2.0"/>
<path d="M445.2,700.6L435.7,689.1" stroke="#cdbd44" stroke-width="2.0"/>
<path d="M435.7,689.1L426.3,677.5" stroke="#cf8c56" stroke-width="2.0"/>
<path d="M445.2,700.6L435.7,712.5" stroke="#cdbd44" stroke-width="2.0"/>
<path d="M435.7,712.5L426.3,724.5" stroke="#cf8c56" stroke-width="2.0"/>
<path d="M445.2,746.9L435.7,735.7" stroke="#cdbd44" stroke-width="2.0"/>
<path d="M435.7,735.7L426.3,724.5" stroke="#cf8c56" stroke-width="2.0"/>
<path d="M445.2,746.9L435.7,759.2" stroke="#cdbd44" stroke-width="2.0"/>
<path d="M435.7,759.2L426.3,771.4" stroke="#cf8c56" stroke-width="2.0"/>
<path d="M445.2,793.1L435.7,782.3" stroke="#cdbd44" stroke-width="2.0"/>
<path d="M435.7,782.3L426.3,771.4" stroke="#cf8c56" stroke-width="2.0"/>
<path d="M445.2,793.1L435.7,805.8" stroke="#cdbd44" stroke-width="2.0"/>
<path d="M435.7,805.8L426.3,818.4" stroke="#cf8c56" stroke-width="2.0"/>
<path d="M445.2,839.3L435.7,828.9" stroke="#cdbd44" stroke-width="2.0"/>
<path d="M435.7,828.9L426.3,818.4" stroke="#cf8c56" stroke-width="2.0"/>
<path d="M445.2,839.3L435.7,852.4" stroke="#cdbd44" stroke-width="2.0"/>
<path d="M435.7,852.4L426.3,865.4" stroke="#cf8c56" stroke-width="2.0"/>
<path d="M477.3,538.8L468.0,549.4" stroke="#7c9fca" stroke-width="2.0"/>
<path d="M468.0,549.4L458.8,560.1" stroke="#80bac2" stroke-width="2.0"/>
<path d="M477.3,585.0L468.0,572.5" stroke="#cdbd44" stroke-width="2.0"/>
<path d="M468.0,572.5L458.8,560.1" stroke="#80bac2" stroke-width="2.0"/>
<path d="M477.3,585.0L468.0,596.0" stroke="#cdbd44" stroke-width="2.0"/>
<path d="M468.0,596.0L458.8,607.0" stroke="#cf8c56" stroke-width="2.0"/>
<path d="M478.7,631.7L468.7,619.4" stroke="#cdbd44" stroke-width="2.0"/>
<path d="M468.7,619.4L458.8,607.0" stroke="#cf8c56" stroke-width="2.0"/>
<path d="M478.7,631.7L468.9,642.9" stroke="#cdbd44" stroke-width="2.0"/>
<path d="M468.9,642.9L459.2,654.1" stroke="#cf8c56" stroke-width="2.0"/>
<path d="M479.3,677.5L469.2,665.8" stroke="#cdbd44" stroke-width="1.9"/>
<path d="M469.2,665.8L459.2,654.1" stroke="#cf8c56" stroke-width="1.9"/>
<path d="M479.3,677.5L469.2,689.2" stroke="#cdbd44" stroke-width="1.9"/>
<path d="M469.2,689.2L459.2,700.9" stroke="#cf8c56" stroke-width="1.9"/>
<path d="M478.7,723.3L468.9,712.1" stroke="#cdbd44" stroke-width="2.0"/>
<path d="M468.9,712.1L459.2,700.9" stroke="#cf8c56" stroke-width="2.0"/>
<path d="M478.7,723.3L468.7,735.6" stroke="#cdbd44" stroke-width="2.0"/>
<path d="M468.7,735.6L458.8,748.0" stroke="#cf8c56" stroke-width="2.0"/>
<path d="M477.3,770.0L468.0,759.0" stroke="#cdbd44" stroke-width="2.0"/>
<path d="M468.0,759.0L458.8,748.0" stroke="#cf8c56" stroke-width="2.0"/>
<path d="M477.3,770.0L468.0,782.5" stroke="#cdbd44" stroke-width="2.0"/>
<path d="M468.0,782.5L458.8,794.9" stroke="#cf8c56" stroke-width="2.0"/>
<path d="M477.3,816.2L468.0,805.6" stroke="#cdbd44" stroke-width="2.0"/>
<path d="M468.0,805.6L458.8,794.9" stroke="#cf8c56" stroke-width="2.0"/>
<path d="M477.3,816.2L468.0,829.1" stroke="#cdbd44" stroke-width="2.0"/>
<path d="M468.0,829.1L458.8,841.9" stroke="#cf8c56" stroke-width="2.0"/>
<path d="M477.3,862.5L468.0,852.2" stroke="#cdbd44" stroke-width="2.0"/>
<path d="M468.0,852.2L458.8,841.9" stroke="#cf8c56" stroke-width="2.0"/>
<path d="M509.7,562.3L500.6,549.5" stroke="#7c9fca" stroke-width="2.0"/>
<path d="M500.6,549.5L491.4,536.6" stroke="#80bac2" stroke-width="2.0"/>
<path d="M509.7,562.3L500.8,573.2" stroke="#7c9fca" stroke-width="2.0"/>
<path d="M500.8,573.2L491.9,584.0" stroke="#cf8c56" stroke-width="2.0"/>
<path d="M511.6,609.7L501.8,596.8" stroke="#cdbd44" stroke-width="1.8"/>
<path d="M501.8,596.8L491.9,584.0" stroke="#cf8c56" stroke-width="1.8"/>
<path d="M511.6,609.7L502.6,620.5" stroke="#cdbd44" stroke-width="1.8"/>
<path d="M502.6,620.5L493.6,631.4" stroke="#cf8c56" stroke-width="1.8"/>
<path d="M512.8,655.2L503.2,643.3" stroke="#cdbd44" stroke-width="1.7"/>
<path d="M503.2,643.3L493.6,631.4" stroke="#cf8c56" stroke-width="1.7"/>
<path d="M512.8,655.2L503.5,666.3" stroke="#cdbd44" stroke-width="1.7"/>
<path d="M503.5,666.3L494.3,677.5" stroke="#cf8c56" stroke-width="1.7"/>
<path d="M512.8,699.8L503.5,688.7" stroke="#cdbd44" stroke-width="1.7"/>
<path d="M503.5,688.7L494.3,677.5" stroke="#cf8c56" stroke-width="1.7"/>
<path d="M512.8,699.8L503.2,711.7" stroke="#cdbd44" stroke-width="1.7"/>
<path d="M503.2,711.7L493.6,723.6" stroke="#cf8c56" stroke-width="1.7"/>
<path d="M511.6,745.3L502.6,734.5" stroke="#cdbd44" stroke-width="1.8"/>
<path d="M502.6,734.5L493.6,723.6" stroke="#cf8c56" stroke-width="1.8"/>
<path d="M511.6,745.3L501.8,758.2" stroke="#cdbd44" stroke-width="1.8"/>
<path d="M501.8,758.2L491.9,771.0" stroke="#cf8c56" stroke-width="1.8"/>
<path d="M509.7,792.7L500.8,781.8" stroke="#cdbd44" stroke-width="2.0"/>
<path d="M500.8,781.8L491.9,771.0" stroke="#cf8c56" stroke-width="2.0"/>
<path d="M509.7,792.7L500.6,805.5" stroke="#cdbd44" stroke-width="2.0"/>
<path d="M500.6,805.5L491.4,818.4" stroke="#cf8c56" stroke-width="2.0"/>
<path d="M509.3,839.3L500.4,828.9" stroke="#cdbd44" stroke-width="2.0"/>
<path d="M500.4,828.9L491.4,818.4" stroke="#cf8c56" stroke-width="2.0"/>
<path d="M509.3,839.3L500.4,852.4" stroke="#cdbd44" stroke-width="2.0"/>
<path d="M500.4,852.4L491.4,865.4" stroke="#cf8c56" stroke-width="2.0"/>
<path d="M541.6,539.3L533.2,550.2" stroke="#7c9fca" stroke-width="2.0"/>
<path d="M533.2,550.2L524.7,561.1" stroke="#80bac2" stroke-width="2.0"/>
<path d="M543.4,587.6L534.1,574.3" stroke="#cdbd44" stroke-width="1.8"/>
<path d="M534.1,574.3L524.7,561.1" stroke="#80bac2" stroke-width="1.8"/>
<path d="M543.4,587.6L535.0,598.3" stroke="#cdbd44" stroke-width="1.8"/>
<path d="M535.0,598.3L526.6,609.1" stroke="#cf8c56" stroke-width="1.8"/>
<path d="M543.5,632.6L535.0,620.9" stroke="#cdbd44" stroke-width="1.6"/>
<path d="M535.0,620.9L526.6,609.1" stroke="#cf8c56" stroke-width="1.6"/>
<path d="M543.5,632.6L535.2,643.7" stroke="#cdbd44" stroke-width="1.6"/>
<path d="M535.2,643.7L526.9,654.8" stroke="#cf8c56" stroke-width="1.6"/>
<path d="M543.0,677.5L535.0,666.1" stroke="#cdbd44" stroke-width="1.6"/>
<path d="M535.0,666.1L526.9,654.8" stroke="#cf8c56" stroke-width="1.6"/>
<path d="M543.0,677.5L535.0,688.9" stroke="#cdbd44" stroke-width="1.6"/>
<path d="M535.0,688.9L526.9,700.2" stroke="#cf8c56" stroke-width="1.6"/>
<path d="M543.5,722.4L535.2,711.3" stroke="#cdbd44" stroke-width="1.6"/>
<path d="M535.2,711.3L526.9,700.2" stroke="#cf8c56" stroke-width="1.6"/>
<path d="M543.5,722.4L535.0,734.1" stroke="#cdbd44" stroke-width="1.6"/>
<path d="M535.0,734.1L526.6,745.9" stroke="#cf8c56" stroke-width="1.6"/>
<path d="M543.4,767.4L535.0,756.7" stroke="#cdbd44" stroke-width="1.8"/>
<path d="M535.0,756.7L526.6,745.9" stroke="#cf8c56" stroke-width="1.8"/>
<path d="M543.4,767.4L534.1,780.7" stroke="#cdbd44" stroke-width="1.8"/>
<path d="M534.1,780.7L524.7,793.9" stroke="#cf8c56" stroke-width="1.8"/>
<path d="M541.6,815.7L533.2,804.8" stroke="#cdbd44" stroke-width="2.0"/>
<path d="M533.2,804.8L524.7,793.9" stroke="#cf8c56" stroke-width="2.0"/>
<path d="M541.6,815.7L532.8,828.8" stroke="#cdbd44" stroke-width="2.0"/>
<path d="M532.8,828.8L524.0,841.9" stroke="#cf8c56" stroke-width="2.0"/>
<path d="M541.4,862.5L532.7,852.2" stroke="#cdbd44" stroke-width="2.0"/>
<path d="M532.7,852.2L524.0,841.9" stroke="#cf8c56" stroke-width="2.0"/>
<path d="M574.4,564.8L565.7,551.1" stroke="#7c9fca" stroke-width="1.8"/>
<path d="M565.7,551.1L556.9,537.5" stroke="#80bac2" stroke-width="1.8"/>
<path d="M574.4,564.8L566.4,575.7" stroke="#7c9fca" stroke-width="1.8"/>
<path d="M566.4,575.7L558.4,586.6" stroke="#cf8c56" stroke-width="1.8"/>
<path d="M574.5,609.9L566.4,598.3" stroke="#cdbd44" stroke-width="1.6"/>
<path d="M566.4,598.3L558.4,586.6" stroke="#cf8c56" stroke-width="1.6"/>
<path d="M574.5,609.9L566.2,620.8" stroke="#cdbd44" stroke-width="1.6"/>
<path d="M566.2,620.8L557.9,631.7" stroke="#cf8c56" stroke-width="1.6"/>
<path d="M573.8,654.6L565.9,643.1" stroke="#cdbd44" stroke-width="1.5"/>
<path d="M565.9,643.1L557.9,631.7" stroke="#cf8c56" stroke-width="1.5"/>
<path d="M573.8,654.6L565.7,666.0" stroke="#cdbd44" stroke-width="1.5"/>
<path d="M565.7,666.0L557.6,677.5" stroke="#cf8c56" stroke-width="1.5"/>
<path d="M573.8,700.4L565.7,689.0" stroke="#cdbd44" stroke-width="1.5"/>
<path d="M565.7,689.0L557.6,677.5" stroke="#cf8c56" stroke-width="1.5"/>
<path d="M573.8,700.4L565.9,711.9" stroke="#cdbd44" stroke-width="1.5"/>
<path d="M565.9,711.9L557.9,723.3" stroke="#cf8c56" stroke-width="1.5"/>
<path d="M574.5,745.1L566.2,734.2" stroke="#cdbd44" stroke-width="1.6"/>
<path d="M566.2,734.2L557.9,723.3" stroke="#cf8c56" stroke-width="1.6"/>
<path d="M574.5,745.1L566.4,756.7" stroke="#cdbd44" stroke-width="1.6"/>
<path d="M566.4,756.7L558.4,768.4" stroke="#cf8c56" stroke-width="1.6"/>
<path d="M574.4,790.2L566.4,779.3" stroke="#cdbd44" stroke-width="1.8"/>
<path d="M566.4,779.3L558.4,768.4" stroke="#cf8c56" stroke-width="1.8"/>
<path d="M574.4,790.2L565.7,803.9" stroke="#cdbd44" stroke-width="1.8"/>
<path d="M565.7,803.9L556.9,817.5" stroke="#cf8c56" stroke-width="1.8"/>
<path d="M573.4,839.3L565.2,828.4" stroke="#cdbd44" stroke-width="2.0"/>
<path d="M565.2,828.4L556.9,817.5" stroke="#cf8c56" stroke-width="2.0"/>
<path d="M573.4,839.3L565.0,852.4" stroke="#cdbd44" stroke-width="2.0"/>
<path d="M565.0,852.4L556.5,865.4" stroke="#cf8c56" stroke-width="2.0"/>
<path d="M605.6,540.8L597.7,552.0" stroke="#7c9fca" stroke-width="1.9"/>
<path d="M597.7,552.0L589.7,563.2" stroke="#80bac2" stroke-width="1.9"/>
<path d="M605.8,588.1L597.7,575.6" stroke="#cdbd44" stroke-width="1.7"/>
<path d="M597.7,575.6L589.7,563.2" stroke="#80bac2" stroke-width="1.7"/>
<path d="M605.8,588.1L597.7,598.5" stroke="#cdbd44" stroke-width="1.7"/>
<path d="M597.7,598.5L589.7,608.8" stroke="#cf8c56" stroke-width="1.7"/>
<path d="M605.6,631.7L597.6,620.2" stroke="#cdbd44" stroke-width="1.5"/>
<path d="M597.6,620.2L589.7,608.8" stroke="#cf8c56" stroke-width="1.5"/>
<path d="M605.6,631.7L597.5,643.0" stroke="#cdbd44" stroke-width="1.5"/>
<path d="M597.5,643.0L589.4,654.3" stroke="#cf8c56" stroke-width="1.5"/>
<path d="M605.4,677.5L597.4,665.9" stroke="#cdbd44" stroke-width="1.3"/>
<path d="M597.4,665.9L589.4,654.3" stroke="#cf8c56" stroke-width="1.3"/>
<path d="M605.4,677.5L597.4,689.1" stroke="#cdbd44" stroke-width="1.3"/>
<path d="M597.4,689.1L589.4,700.7" stroke="#cf8c56" stroke-width="1.3"/>
<path d="M605.6,723.3L597.5,712.0" stroke="#cdbd44" stroke-width="1.5"/>
<path d="M597.5,712.0L589.4,700.7" stroke="#cf8c56" stroke-width="1.5"/>
<path d="M605.6,723.3L597.6,734.8" stroke="#cdbd44" stroke-width="1.5"/>
<path d="M597.6,734.8L589.7,746.2" stroke="#cf8c56" stroke-width="1.5"/>
<path d="M605.8,766.9L597.7,756.5" stroke="#cdbd44" stroke-width="1.7"/>
<path d="M597.7,756.5L589.7,746.2" stroke="#cf8c56" stroke-width="1.7"/>
<path d="M605.8,766.9L597.7,779.4" stroke="#cdbd44" stroke-width="1.7"/>
<path d="M597.7,779.4L589.7,791.8" stroke="#cf8c56" stroke-width="1.7"/>
<path d="M605.6,814.2L597.7,803.0" stroke="#cdbd44" stroke-width="1.9"/>
<path d="M597.7,803.0L589.7,791.8" stroke="#cf8c56" stroke-width="1.9"/>
<path d="M605.6,814.2L597.3,828.0" stroke="#cdbd44" stroke-width="1.9"/>
<path d="M597.3,828.0L589.1,841.9" stroke="#cf8c56" stroke-width="1.9"/>
<path d="M605.5,862.5L597.3,852.2" stroke="#cdbd44" stroke-width="2.0"/>
<path d="M597.3,852.2L589.1,841.9" stroke="#cf8c56" stroke-width="2.0"/>
<path d="M636.9,565.1L629.2,551.8" stroke="#7c9fca" stroke-width="1.8"/>
<path d="M629.2,551.8L621.5,538.5" stroke="#80bac2" stroke-width="1.8"/>
<path d="M636.9,565.1L629.1,575.9" stroke="#7c9fca" stroke-width="1.8"/>
<path d="M629.1,575.9L621.4,586.7" stroke="#cf8c56" stroke-width="1.8"/>
<path d="M637.0,609.7L629.2,598.2" stroke="#cdbd44" stroke-width="1.6"/>
<path d="M629.2,598.2L621.4,586.7" stroke="#cf8c56" stroke-width="1.6"/>
<path d="M637.0,609.7L629.3,620.5" stroke="#cdbd44" stroke-width="1.6"/>
<path d="M629.3,620.5L621.5,631.2" stroke="#cf8c56" stroke-width="1.6"/>
<path d="M637.5,654.4L629.5,642.8" stroke="#cdbd44" stroke-width="1.4"/>
<path d="M629.5,642.8L621.5,631.2" stroke="#cf8c56" stroke-width="1.4"/>
<path d="M637.5,654.4L629.5,666.0" stroke="#cdbd44" stroke-width="1.4"/>
<path d="M629.5,666.0L621.6,677.5" stroke="#cf8c56" stroke-width="1.4"/>
<path d="M637.5,700.6L629.5,689.0" stroke="#cdbd44" stroke-width="1.4"/>
<path d="M629.5,689.0L621.6,677.5" stroke="#cf8c56" stroke-width="1.4"/>
<path d="M637.5,700.6L629.5,712.2" stroke="#cdbd44" stroke-width="1.4"/>
<path d="M629.5,712.2L621.5,723.8" stroke="#cf8c56" stroke-width="1.4"/>
<path d="M637.0,745.3L629.3,734.5" stroke="#cdbd44" stroke-width="1.6"/>
<path d="M629.3,734.5L621.5,723.8" stroke="#cf8c56" stroke-width="1.6"/>
<path d="M637.0,745.3L629.2,756.8" stroke="#cdbd44" stroke-width="1.6"/>
<path d="M629.2,756.8L621.4,768.3" stroke="#cf8c56" stroke-width="1.6"/>
<path d="M636.9,789.9L629.1,779.1" stroke="#cdbd44" stroke-width="1.8"/>
<path d="M629.1,779.1L621.4,768.3" stroke="#cf8c56" stroke-width="1.8"/>
<path d="M636.9,789.9L629.2,803.2" stroke="#cdbd44" stroke-width="1.8"/>
<path d="M629.2,803.2L621.5,816.5" stroke="#cf8c56" stroke-width="1.8"/>
<path d="M637.5,839.3L629.5,827.9" stroke="#cdbd44" stroke-width="2.0"/>
<path d="M629.5,827.9L621.5,816.5" stroke="#cf8c56" stroke-width="2.0"/>
<path d="M637.5,839.3L629.6,852.4" stroke="#cdbd44" stroke-width="2.0"/>
<path d="M629.6,852.4L621.6,865.4" stroke="#cf8c56" stroke-width="2.0"/>
<path d="M669.1,539.9L661.2,551.4" stroke="#7c9fca" stroke-width="2.0"/>
<path d="M661.2,551.4L653.2,562.9" stroke="#80bac2" stroke-width="2.0"/>
<path d="M667.7,588.1L660.5,575.5" stroke="#cdbd44" stroke-width="1.7"/>
<path d="M660.5,575.5L653.2,562.9" stroke="#80bac2" stroke-width="1.7"/>
<path d="M667.7,588.1L660.4,598.6" stroke="#cdbd44" stroke-width="1.7"/>
<path d="M660.4,598.6L653.1,609.0" stroke="#cf8c56" stroke-width="1.7"/>
<path d="M668.4,632.3L660.7,620.7" stroke="#cdbd44" stroke-width="1.6"/>
<path d="M660.7,620.7L653.1,609.0" stroke="#cf8c56" stroke-width="1.6"/>
<path d="M668.4,632.3L661.0,643.3" stroke="#cdbd44" stroke-width="1.6"/>
<path d="M661.0,643.3L653.6,654.4" stroke="#cf8c56" stroke-width="1.6"/>
<path d="M668.8,677.5L661.2,665.9" stroke="#cdbd44" stroke-width="1.5"/>
<path d="M661.2,665.9L653.6,654.4" stroke="#cf8c56" stroke-width="1.5"/>
<path d="M668.8,677.5L661.2,689.1" stroke="#cdbd44" stroke-width="1.5"/>
<path d="M661.2,689.1L653.6,700.6" stroke="#cf8c56" stroke-width="1.5"/>
<path d="M668.4,722.7L661.0,711.7" stroke="#cdbd44" stroke-width="1.6"/>
<path d="M661.0,711.7L653.6,700.6" stroke="#cf8c56" stroke-width="1.6"/>
<path d="M668.4,722.7L660.7,734.3" stroke="#cdbd44" stroke-width="1.6"/>
<path d="M660.7,734.3L653.1,746.0" stroke="#cf8c56" stroke-width="1.6"/>
<path d="M667.7,766.9L660.4,756.4" stroke="#cdbd44" stroke-width="1.7"/>
<path d="M660.4,756.4L653.1,746.0" stroke="#cf8c56" stroke-width="1.7"/>
<path d="M667.7,766.9L660.5,779.5" stroke="#cdbd44" stroke-width="1.7"/>
<path d="M660.5,779.5L653.2,792.1" stroke="#cf8c56" stroke-width="1.7"/>
<path d="M669.1,815.1L661.2,803.6" stroke="#cdbd44" stroke-width="2.0"/>
<path d="M661.2,803.6L653.2,792.1" stroke="#cf8c56" stroke-width="2.0"/>
<path d="M669.1,815.1L661.7,828.5" stroke="#cdbd44" stroke-width="2.0"/>
<path d="M661.7,828.5L654.2,841.9" stroke="#cf8c56" stroke-width="2.0"/>
<path d="M669.6,862.5L661.9,852.2" stroke="#cdbd44" stroke-width="2.0"/>
<path d="M661.9,852.2L654.2,841.9" stroke="#cf8c56" stroke-width="2.0"/>
<path d="M700.8,563.1L693.7,550.0" stroke="#7c9fca" stroke-width="2.0"/>
<path d="M693.7,550.0L686.6,536.9" stroke="#80bac2" stroke-width="2.0"/>
<path d="M700.8,563.1L692.8,574.6" stroke="#7c9fca" stroke-width="2.0"/>
<path d="M692.8,574.6L684.8,586.0" stroke="#cf8c56" stroke-width="2.0"/>
<path d="M699.0,610.2L691.9,598.1" stroke="#cdbd44" stroke-width="1.8"/>
<path d="M691.9,598.1L684.8,586.0" stroke="#cf8c56" stroke-width="1.8"/>
<path d="M699.0,610.2L691.7,621.1" stroke="#cdbd44" stroke-width="1.8"/>
<path d="M691.7,621.1L684.5,632.0" stroke="#cf8c56" stroke-width="1.8"/>
<path d="M698.7,655.1L691.6,643.6" stroke="#cdbd44" stroke-width="1.6"/>
<path d="M691.6,643.6L684.5,632.0" stroke="#cf8c56" stroke-width="1.6"/>
<path d="M698.7,655.1L691.8,666.3" stroke="#cdbd44" stroke-width="1.6"/>
<path d="M691.8,666.3L684.9,677.5" stroke="#cf8c56" stroke-width="1.6"/>
<path d="M698.7,699.9L691.8,688.7" stroke="#cdbd44" stroke-width="1.6"/>
<path d="M691.8,688.7L684.9,677.5" stroke="#cf8c56" stroke-width="1.6"/>
<path d="M698.7,699.9L691.6,711.4" stroke="#cdbd44" stroke-width="1.6"/>
<path d="M691.6,711.4L684.5,723.0" stroke="#cf8c56" stroke-width="1.6"/>
<path d="M699.0,744.8L691.7,733.9" stroke="#cdbd44" stroke-width="1.8"/>
<path d="M691.7,733.9L684.5,723.0" stroke="#cf8c56" stroke-width="1.8"/>
<path d="M699.0,744.8L691.9,756.9" stroke="#cdbd44" stroke-width="1.8"/>
<path d="M691.9,756.9L684.8,769.0" stroke="#cf8c56" stroke-width="1.8"/>
<path d="M700.8,791.9L692.8,780.4" stroke="#cdbd44" stroke-width="2.0"/>
<path d="M692.8,780.4L684.8,769.0" stroke="#cf8c56" stroke-width="2.0"/>
<path d="M700.8,791.9L693.7,805.0" stroke="#cdbd44" stroke-width="2.0"/>
<path d="M693.7,805.0L686.6,818.1" stroke="#cf8c56" stroke-width="2.0"/>
<path d="M701.7,839.3L694.1,828.7" stroke="#cdbd44" stroke-width="2.0"/>
<path d="M694.1,828.7L686.6,818.1" stroke="#cf8c56" stroke-width="2.0"/>
<path d="M701.7,839.3L694.2,852.4" stroke="#cdbd44" stroke-width="2.0"/>
<path d="M694.2,852.4L686.8,865.4" stroke="#cf8c56" stroke-width="2.0"/>
<path d="M733.7,538.8L726.4,549.6" stroke="#7c9fca" stroke-width="2.0"/>
<path d="M726.4,549.6L719.1,560.3" stroke="#80bac2" stroke-width="2.0"/>
<path d="M733.0,585.6L726.0,573.0" stroke="#cdbd44" stroke-width="2.0"/>
<path d="M726.0,573.0L719.1,560.3" stroke="#80bac2" stroke-width="2.0"/>
<path d="M733.0,585.6L725.1,597.0" stroke="#cdbd44" stroke-width="2.0"/>
<path d="M725.1,597.0L717.1,608.5" stroke="#cf8c56" stroke-width="2.0"/>
<path d="M731.3,632.2L724.2,620.3" stroke="#cdbd44" stroke-width="1.9"/>
<path d="M724.2,620.3L717.1,608.5" stroke="#cf8c56" stroke-width="1.9"/>
<path d="M731.3,632.2L723.6,643.5" stroke="#cdbd44" stroke-width="1.9"/>
<path d="M723.6,643.5L715.9,654.8" stroke="#cf8c56" stroke-width="1.9"/>
<path d="M730.7,677.5L723.3,666.1" stroke="#cdbd44" stroke-width="1.8"/>
<path d="M723.3,666.1L715.9,654.8" stroke="#cf8c56" stroke-width="1.8"/>
<path d="M730.7,677.5L723.3,688.9" stroke="#cdbd44" stroke-width="1.8"/>
<path d="M723.3,688.9L715.9,700.2" stroke="#cf8c56" stroke-width="1.8"/>
<path d="M731.3,722.8L723.6,711.5" stroke="#cdbd44" stroke-width="1.9"/>
<path d="M723.6,711.5L715.9,700.2" stroke="#cf8c56" stroke-width="1.9"/>
<path d="M731.3,722.8L724.2,734.7" stroke="#cdbd44" stroke-width="1.9"/>
<path d="M724.2,734.7L717.1,746.5" stroke="#cf8c56" stroke-width="1.9"/>
<path d="M733.0,769.4L725.1,758.0" stroke="#cdbd44" stroke-width="2.0"/>
<path d="M725.1,758.0L717.1,746.5" stroke="#cf8c56" stroke-width="2.0"/>
<path d="M733.0,769.4L726.0,782.0" stroke="#cdbd44" stroke-width="2.0"/>
<path d="M726.0,782.0L719.1,794.7" stroke="#cf8c56" stroke-width="2.0"/>
<path d="M733.7,816.2L726.4,805.4" stroke="#cdbd44" stroke-width="2.0"/>
<path d="M726.4,805.4L719.1,794.7" stroke="#cf8c56" stroke-width="2.0"/>
<path d="M733.7,816.2L726.5,829.1" stroke="#cdbd44" stroke-width="2.0"/>
<path d="M726.5,829.1L719.3,841.9" stroke="#cf8c56" stroke-width="2.0"/>
<path d="M733.7,862.5L726.5,852.2" stroke="#cdbd44" stroke-width="2.0"/>
<path d="M726.5,852.2L719.3,841.9" stroke="#cf8c56" stroke-width="2.0"/>
<circle cx="445.2" cy="561.9" r="6.0" fill="url(#ab9)"/>
<circle cx="445.2" cy="608.1" r="5.9" fill="url(#ay9)"/>
<circle cx="445.2" cy="654.4" r="5.9" fill="url(#ay9)"/>
<circle cx="445.2" cy="700.6" r="5.9" fill="url(#ay9)"/>
<circle cx="445.2" cy="746.9" r="5.9" fill="url(#ay9)"/>
<circle cx="445.2" cy="793.1" r="5.9" fill="url(#ay9)"/>
<circle cx="445.2" cy="839.3" r="5.9" fill="url(#ay9)"/>
<circle cx="477.3" cy="538.8" r="6.0" fill="url(#ab9)"/>
<circle cx="477.3" cy="585.0" r="5.9" fill="url(#ay9)"/>
<circle cx="478.7" cy="631.7" r="5.8" fill="url(#ay9)"/>
<circle cx="479.3" cy="677.5" r="5.8" fill="url(#ay9)"/>
<circle cx="478.7" cy="723.3" r="5.8" fill="url(#ay9)"/>
<circle cx="477.3" cy="770.0" r="5.9" fill="url(#ay9)"/>
<circle cx="477.3" cy="816.2" r="5.9" fill="url(#ay9)"/>
<circle cx="509.7" cy="562.3" r="6.0" fill="url(#ab9)"/>
<circle cx="511.6" cy="609.7" r="5.7" fill="url(#ay9)"/>
<circle cx="512.8" cy="655.2" r="5.7" fill="url(#ay9)"/>
<circle cx="512.8" cy="699.8" r="5.7" fill="url(#ay9)"/>
<circle cx="511.6" cy="745.3" r="5.7" fill="url(#ay9)"/>
<circle cx="509.7" cy="792.7" r="5.8" fill="url(#ay9)"/>
<circle cx="509.3" cy="839.3" r="5.9" fill="url(#ay9)"/>
<circle cx="541.6" cy="539.3" r="6.0" fill="url(#ab9)"/>
<circle cx="543.4" cy="587.6" r="5.7" fill="url(#ay9)"/>
<circle cx="543.5" cy="632.6" r="5.7" fill="url(#ay9)"/>
<circle cx="543.0" cy="677.5" r="5.7" fill="url(#ay9)"/>
<circle cx="543.5" cy="722.4" r="5.7" fill="url(#ay9)"/>
<circle cx="543.4" cy="767.4" r="5.7" fill="url(#ay9)"/>
<circle cx="541.6" cy="815.7" r="5.8" fill="url(#ay9)"/>
<circle cx="574.4" cy="564.8" r="5.9" fill="url(#ab9)"/>
<circle cx="574.5" cy="609.9" r="5.7" fill="url(#ay9)"/>
<circle cx="573.8" cy="654.6" r="5.8" fill="url(#ay9)"/>
<circle cx="573.8" cy="700.4" r="5.8" fill="url(#ay9)"/>
<circle cx="574.5" cy="745.1" r="5.7" fill="url(#ay9)"/>
<circle cx="574.4" cy="790.2" r="5.7" fill="url(#ay9)"/>
<circle cx="573.4" cy="839.3" r="5.9" fill="url(#ay9)"/>
<circle cx="605.6" cy="540.8" r="5.9" fill="url(#ab9)"/>
<circle cx="605.8" cy="588.1" r="5.7" fill="url(#ay9)"/>
<circle cx="605.6" cy="631.7" r="5.8" fill="url(#ay9)"/>
<circle cx="605.4" cy="677.5" r="5.9" fill="url(#ay9)"/>
<circle cx="605.6" cy="723.3" r="5.8" fill="url(#ay9)"/>
<circle cx="605.8" cy="766.9" r="5.7" fill="url(#ay9)"/>
<circle cx="605.6" cy="814.2" r="5.8" fill="url(#ay9)"/>
<circle cx="636.9" cy="565.1" r="5.9" fill="url(#ab9)"/>
<circle cx="637.0" cy="609.7" r="5.7" fill="url(#ay9)"/>
<circle cx="637.5" cy="654.4" r="5.8" fill="url(#ay9)"/>
<circle cx="637.5" cy="700.6" r="5.8" fill="url(#ay9)"/>
<circle cx="637.0" cy="745.3" r="5.7" fill="url(#ay9)"/>
<circle cx="636.9" cy="789.9" r="5.7" fill="url(#ay9)"/>
<circle cx="637.5" cy="839.3" r="5.9" fill="url(#ay9)"/>
<circle cx="669.1" cy="539.9" r="6.0" fill="url(#ab9)"/>
<circle cx="667.7" cy="588.1" r="5.7" fill="url(#ay9)"/>
<circle cx="668.4" cy="632.3" r="5.7" fill="url(#ay9)"/>
<circle cx="668.8" cy="677.5" r="5.8" fill="url(#ay9)"/>
<circle cx="668.4" cy="722.7" r="5.7" fill="url(#ay9)"/>
<circle cx="667.7" cy="766.9" r="5.7" fill="url(#ay9)"/>
<circle cx="669.1" cy="815.1" r="5.8" fill="url(#ay9)"/>
<circle cx="700.8" cy="563.1" r="6.0" fill="url(#ab9)"/>
<circle cx="699.0" cy="610.2" r="5.7" fill="url(#ay9)"/>
<circle cx="698.7" cy="655.1" r="5.7" fill="url(#ay9)"/>
<circle cx="698.7" cy="699.9" r="5.7" fill="url(#ay9)"/>
<circle cx="699.0" cy="744.8" r="5.7" fill="url(#ay9)"/>
<circle cx="700.8" cy="791.9" r="5.8" fill="url(#ay9)"/>
<circle cx="701.7" cy="839.3" r="5.9" fill="url(#ay9)"/>
<circle cx="733.7" cy="538.8" r="6.0" fill="url(#ab9)"/>
<circle cx="733.0" cy="585.6" r="5.8" fill="url(#ay9)"/>
<circle cx="731.3" cy="632.2" r="5.7" fill="url(#ay9)"/>
<circle cx="730.7" cy="677.5" r="5.7" fill="url(#ay9)"/>
<circle cx="731.3" cy="722.8" r="5.7" fill="url(#ay9)"/>
<circle cx="733.0" cy="769.4" r="5.8" fill="url(#ay9)"/>
<circle cx="733.7" cy="816.2" r="5.9" fill="url(#ay9)"/>
<path d="M445.2,561.9L452.0,561.0" stroke="#7c9fca" stroke-width="2.0"/>
<path d="M452.0,561.0L458.8,560.1" stroke="#80bac2" stroke-width="2.0"/>
<path d="M445.2,608.1L452.0,607.6" stroke="#cdbd44" stroke-width="2.0"/>
<path d="M452.0,607.6L458.8,607.0" stroke="#cf8c56" stroke-width="2.0"/>
<path d="M445.2,654.4L452.2,654.2" stroke="#cdbd44" stroke-width="2.0"/>
<path d="M452.2,654.2L459.2,654.1" stroke="#cf8c56" stroke-width="2.0"/>
<path d="M445.2,700.6L452.2,700.8" stroke="#cdbd44" stroke-width="2.0"/>
<path d="M452.2,700.8L459.2,700.9" stroke="#cf8c56" stroke-width="2.0"/>
<path d="M445.2,746.9L452.0,747.4" stroke="#cdbd44" stroke-width="2.0"/>
<path d="M452.0,747.4L458.8,748.0" stroke="#cf8c56" stroke-width="2.0"/>
<path d="M445.2,793.1L452.0,794.0" stroke="#cdbd44" stroke-width="2.0"/>
<path d="M452.0,794.0L458.8,794.9" stroke="#cf8c56" stroke-width="2.0"/>
<path d="M445.2,839.3L452.0,840.6" stroke="#cdbd44" stroke-width="2.0"/>
<path d="M452.0,840.6L458.8,841.9" stroke="#cf8c56" stroke-width="2.0"/>
<path d="M477.3,538.8L484.3,537.7" stroke="#7c9fca" stroke-width="2.0"/>
<path d="M484.3,537.7L491.4,536.6" stroke="#80bac2" stroke-width="2.0"/>
<path d="M477.3,585.0L484.6,584.5" stroke="#cdbd44" stroke-width="2.0"/>
<path d="M484.6,584.5L491.9,584.0" stroke="#cf8c56" stroke-width="2.0"/>
<path d="M478.7,631.7L486.2,631.6" stroke="#cdbd44" stroke-width="2.0"/>
<path d="M486.2,631.6L493.6,631.4" stroke="#cf8c56" stroke-width="2.0"/>
<path d="M479.3,677.5L486.8,677.5" stroke="#cdbd44" stroke-width="1.9"/>
<path d="M486.8,677.5L494.3,677.5" stroke="#cf8c56" stroke-width="1.9"/>
<path d="M478.7,723.3L486.2,723.4" stroke="#cdbd44" stroke-width="2.0"/>
<path d="M486.2,723.4L493.6,723.6" stroke="#cf8c56" stroke-width="2.0"/>
<path d="M477.3,770.0L484.6,770.5" stroke="#cdbd44" stroke-width="2.0"/>
<path d="M484.6,770.5L491.9,771.0" stroke="#cf8c56" stroke-width="2.0"/>
<path d="M477.3,816.2L484.3,817.3" stroke="#cdbd44" stroke-width="2.0"/>
<path d="M484.3,817.3L491.4,818.4" stroke="#cf8c56" stroke-width="2.0"/>
<path d="M509.7,562.3L517.2,561.7" stroke="#7c9fca" stroke-width="2.0"/>
<path d="M517.2,561.7L524.7,561.1" stroke="#80bac2" stroke-width="2.0"/>
<path d="M511.6,609.7L519.1,609.4" stroke="#cdbd44" stroke-width="1.8"/>
<path d="M519.1,609.4L526.6,609.1" stroke="#cf8c56" stroke-width="1.8"/>
<path d="M512.8,655.2L519.9,655.0" stroke="#cdbd44" stroke-width="1.7"/>
<path d="M519.9,655.0L526.9,654.8" stroke="#cf8c56" stroke-width="1.7"/>
<path d="M512.8,699.8L519.9,700.0" stroke="#cdbd44" stroke-width="1.7"/>
<path d="M519.9,700.0L526.9,700.2" stroke="#cf8c56" stroke-width="1.7"/>
<path d="M511.6,745.3L519.1,745.6" stroke="#cdbd44" stroke-width="1.8"/>
<path d="M519.1,745.6L526.6,745.9" stroke="#cf8c56" stroke-width="1.8"/>
<path d="M509.7,792.7L517.2,793.3" stroke="#cdbd44" stroke-width="2.0"/>
<path d="M517.2,793.3L524.7,793.9" stroke="#cf8c56" stroke-width="2.0"/>
<path d="M509.3,839.3L516.6,840.6" stroke="#cdbd44" stroke-width="2.0"/>
<path d="M516.6,840.6L524.0,841.9" stroke="#cf8c56" stroke-width="2.0"/>
<path d="M541.6,539.3L549.3,538.4" stroke="#7c9fca" stroke-width="2.0"/>
<path d="M549.3,538.4L556.9,537.5" stroke="#80bac2" stroke-width="2.0"/>
<path d="M543.4,587.6L550.9,587.1" stroke="#cdbd44" stroke-width="1.8"/>
<path d="M550.9,587.1L558.4,586.6" stroke="#cf8c56" stroke-width="1.8"/>
<path d="M543.5,632.6L550.7,632.2" stroke="#cdbd44" stroke-width="1.6"/>
<path d="M550.7,632.2L557.9,631.7" stroke="#cf8c56" stroke-width="1.6"/>
<path d="M543.0,677.5L550.3,677.5" stroke="#cdbd44" stroke-width="1.6"/>
<path d="M550.3,677.5L557.6,677.5" stroke="#cf8c56" stroke-width="1.6"/>
<path d="M543.5,722.4L550.7,722.8" stroke="#cdbd44" stroke-width="1.6"/>
<path d="M550.7,722.8L557.9,723.3" stroke="#cf8c56" stroke-width="1.6"/>
<path d="M543.4,767.4L550.9,767.9" stroke="#cdbd44" stroke-width="1.8"/>
<path d="M550.9,767.9L558.4,768.4" stroke="#cf8c56" stroke-width="1.8"/>
<path d="M541.6,815.7L549.3,816.6" stroke="#cdbd44" stroke-width="2.0"/>
<path d="M549.3,816.6L556.9,817.5" stroke="#cf8c56" stroke-width="2.0"/>
<path d="M574.4,564.8L582.1,564.0" stroke="#7c9fca" stroke-width="1.8"/>
<path d="M582.1,564.0L589.7,563.2" stroke="#80bac2" stroke-width="1.8"/>
<path d="M574.5,609.9L582.1,609.4" stroke="#cdbd44" stroke-width="1.6"/>
<path d="M582.1,609.4L589.7,608.8" stroke="#cf8c56" stroke-width="1.6"/>
<path d="M573.8,654.6L581.6,654.4" stroke="#cdbd44" stroke-width="1.5"/>
<path d="M581.6,654.4L589.4,654.3" stroke="#cf8c56" stroke-width="1.5"/>
<path d="M573.8,700.4L581.6,700.6" stroke="#cdbd44" stroke-width="1.5"/>
<path d="M581.6,700.6L589.4,700.7" stroke="#cf8c56" stroke-width="1.5"/>
<path d="M574.5,745.1L582.1,745.6" stroke="#cdbd44" stroke-width="1.6"/>
<path d="M582.1,745.6L589.7,746.2" stroke="#cf8c56" stroke-width="1.6"/>
<path d="M574.4,790.2L582.1,791.0" stroke="#cdbd44" stroke-width="1.8"/>
<path d="M582.1,791.0L589.7,791.8" stroke="#cf8c56" stroke-width="1.8"/>
<path d="M573.4,839.3L581.3,840.6" stroke="#cdbd44" stroke-width="2.0"/>
<path d="M581.3,840.6L589.1,841.9" stroke="#cf8c56" stroke-width="2.0"/>
<path d="M605.6,540.8L613.6,539.7" stroke="#7c9fca" stroke-width="1.9"/>
<path d="M613.6,539.7L621.5,538.5" stroke="#80bac2" stroke-width="1.9"/>
<path d="M605.8,588.1L613.6,587.4" stroke="#cdbd44" stroke-width="1.7"/>
<path d="M613.6,587.4L621.4,586.7" stroke="#cf8c56" stroke-width="1.7"/>
<path d="M605.6,631.7L613.5,631.5" stroke="#cdbd44" stroke-width="1.5"/>
<path d="M613.5,631.5L621.5,631.2" stroke="#cf8c56" stroke-width="1.5"/>
<path d="M605.4,677.5L613.5,677.5" stroke="#cdbd44" stroke-width="1.3"/>
<path d="M613.5,677.5L621.6,677.5" stroke="#cf8c56" stroke-width="1.3"/>
<path d="M605.6,723.3L613.5,723.5" stroke="#cdbd44" stroke-width="1.5"/>
<path d="M613.5,723.5L621.5,723.8" stroke="#cf8c56" stroke-width="1.5"/>
<path d="M605.8,766.9L613.6,767.6" stroke="#cdbd44" stroke-width="1.7"/>
<path d="M613.6,767.6L621.4,768.3" stroke="#cf8c56" stroke-width="1.7"/>
<path d="M605.6,814.2L613.6,815.3" stroke="#cdbd44" stroke-width="1.9"/>
<path d="M613.6,815.3L621.5,816.5" stroke="#cf8c56" stroke-width="1.9"/>
<path d="M636.9,565.1L645.1,564.0" stroke="#7c9fca" stroke-width="1.8"/>
<path d="M645.1,564.0L653.2,562.9" stroke="#80bac2" stroke-width="1.8"/>
<path d="M637.0,609.7L645.0,609.3" stroke="#cdbd44" stroke-width="1.6"/>
<path d="M645.0,609.3L653.1,609.0" stroke="#cf8c56" stroke-width="1.6"/>
<path d="M637.5,654.4L645.5,654.4" stroke="#cdbd44" stroke-width="1.4"/>
<path d="M645.5,654.4L653.6,654.4" stroke="#cf8c56" stroke-width="1.4"/>
<path d="M637.5,700.6L645.5,700.6" stroke="#cdbd44" stroke-width="1.4"/>
<path d="M645.5,700.6L653.6,700.6" stroke="#cf8c56" stroke-width="1.4"/>
<path d="M637.0,745.3L645.0,745.7" stroke="#cdbd44" stroke-width="1.6"/>
<path d="M645.0,745.7L653.1,746.0" stroke="#cf8c56" stroke-width="1.6"/>
<path d="M636.9,789.9L645.1,791.0" stroke="#cdbd44" stroke-width="1.8"/>
<path d="M645.1,791.0L653.2,792.1" stroke="#cf8c56" stroke-width="1.8"/>
<path d="M637.5,839.3L645.9,840.6" stroke="#cdbd44" stroke-width="2.0"/>
<path d="M645.9,840.6L654.2,841.9" stroke="#cf8c56" stroke-width="2.0"/>
<path d="M669.1,539.9L677.9,538.4" stroke="#7c9fca" stroke-width="2.0"/>
<path d="M677.9,538.4L686.6,536.9" stroke="#80bac2" stroke-width="2.0"/>
<path d="M667.7,588.1L676.3,587.1" stroke="#cdbd44" stroke-width="1.7"/>
<path d="M676.3,587.1L684.8,586.0" stroke="#cf8c56" stroke-width="1.7"/>
<path d="M668.4,632.3L676.4,632.1" stroke="#cdbd44" stroke-width="1.6"/>
<path d="M676.4,632.1L684.5,632.0" stroke="#cf8c56" stroke-width="1.6"/>
<path d="M668.8,677.5L676.9,677.5" stroke="#cdbd44" stroke-width="1.5"/>
<path d="M676.9,677.5L684.9,677.5" stroke="#cf8c56" stroke-width="1.5"/>
<path d="M668.4,722.7L676.4,722.9" stroke="#cdbd44" stroke-width="1.6"/>
<path d="M676.4,722.9L684.5,723.0" stroke="#cf8c56" stroke-width="1.6"/>
<path d="M667.7,766.9L676.3,767.9" stroke="#cdbd44" stroke-width="1.7"/>
<path d="M676.3,767.9L684.8,769.0" stroke="#cf8c56" stroke-width="1.7"/>
<path d="M669.1,815.1L677.9,816.6" stroke="#cdbd44" stroke-width="2.0"/>
<path d="M677.9,816.6L686.6,818.1" stroke="#cf8c56" stroke-width="2.0"/>
<path d="M700.8,563.1L709.9,561.7" stroke="#7c9fca" stroke-width="2.0"/>
<path d="M709.9,561.7L719.1,560.3" stroke="#80bac2" stroke-width="2.0"/>
<path d="M699.0,610.2L708.0,609.4" stroke="#cdbd44" stroke-width="1.8"/>
<path d="M708.0,609.4L717.1,608.5" stroke="#cf8c56" stroke-width="1.8"/>
<path d="M698.7,655.1L707.3,655.0" stroke="#cdbd44" stroke-width="1.6"/>
<path d="M707.3,655.0L715.9,654.8" stroke="#cf8c56" stroke-width="1.6"/>
<path d="M698.7,699.9L707.3,700.0" stroke="#cdbd44" stroke-width="1.6"/>
<path d="M707.3,700.0L715.9,700.2" stroke="#cf8c56" stroke-width="1.6"/>
<path d="M699.0,744.8L708.0,745.6" stroke="#cdbd44" stroke-width="1.8"/>
<path d="M708.0,745.6L717.1,746.5" stroke="#cf8c56" stroke-width="1.8"/>
<path d="M700.8,791.9L709.9,793.3" stroke="#cdbd44" stroke-width="2.0"/>
<path d="M709.9,793.3L719.1,794.7" stroke="#cf8c56" stroke-width="2.0"/>
<path d="M701.7,839.3L710.5,840.6" stroke="#cdbd44" stroke-width="2.0"/>
<path d="M710.5,840.6L719.3,841.9" stroke="#cf8c56" stroke-width="2.0"/>
<path d="M733.7,538.8L742.8,537.7" stroke="#7c9fca" stroke-width="2.0"/>
<path d="M742.8,537.7L751.9,536.6" stroke="#80bac2" stroke-width="2.0"/>
<path d="M733.0,585.6L742.4,584.6" stroke="#cdbd44" stroke-width="2.0"/>
<path d="M742.4,584.6L751.9,583.6" stroke="#cf8c56" stroke-width="2.0"/>
<path d="M731.3,632.2L741.0,631.6" stroke="#cdbd44" stroke-width="1.9"/>
<path d="M741.0,631.6L750.7,630.9" stroke="#cf8c56" stroke-width="1.9"/>
<path d="M730.7,677.5L740.4,677.5" stroke="#cdbd44" stroke-width="1.8"/>
<path d="M740.4,677.5L750.0,677.5" stroke="#cf8c56" stroke-width="1.8"/>
<path d="M731.3,722.8L741.0,723.4" stroke="#cdbd44" stroke-width="1.9"/>
<path d="M741.0,723.4L750.7,724.1" stroke="#cf8c56" stroke-width="1.9"/>
<path d="M733.0,769.4L742.4,770.4" stroke="#cdbd44" stroke-width="2.0"/>
<path d="M742.4,770.4L751.9,771.4" stroke="#cf8c56" stroke-width="2.0"/>
<path d="M733.7,816.2L742.8,817.3" stroke="#cdbd44" stroke-width="2.0"/>
<path d="M742.8,817.3L751.9,818.4" stroke="#cf8c56" stroke-width="2.0"/>
<circle cx="458.8" cy="560.1" r="5.2" fill="url(#ac8)"/>
<circle cx="458.8" cy="607.0" r="5.3" fill="url(#ao8)"/>
<circle cx="459.2" cy="654.1" r="5.3" fill="url(#ao8)"/>
<circle cx="459.2" cy="700.9" r="5.3" fill="url(#ao8)"/>
<circle cx="458.8" cy="748.0" r="5.3" fill="url(#ao8)"/>
<circle cx="458.8" cy="794.9" r="5.3" fill="url(#ao8)"/>
<circle cx="458.8" cy="841.9" r="5.3" fill="url(#ao8)"/>
<circle cx="491.4" cy="536.6" r="5.2" fill="url(#ac8)"/>
<circle cx="491.9" cy="584.0" r="5.3" fill="url(#ao8)"/>
<circle cx="493.6" cy="631.4" r="5.2" fill="url(#ao8)"/>
<circle cx="494.3" cy="677.5" r="5.2" fill="url(#ao8)"/>
<circle cx="493.6" cy="723.6" r="5.2" fill="url(#ao8)"/>
<circle cx="491.9" cy="771.0" r="5.3" fill="url(#ao8)"/>
<circle cx="491.4" cy="818.4" r="5.3" fill="url(#ao8)"/>
<circle cx="524.7" cy="561.1" r="5.2" fill="url(#ac8)"/>
<circle cx="526.6" cy="609.1" r="5.2" fill="url(#ao8)"/>
<circle cx="526.9" cy="654.8" r="5.2" fill="url(#ao8)"/>
<circle cx="526.9" cy="700.2" r="5.2" fill="url(#ao8)"/>
<circle cx="526.6" cy="745.9" r="5.2" fill="url(#ao8)"/>
<circle cx="524.7" cy="793.9" r="5.3" fill="url(#ao8)"/>
<circle cx="524.0" cy="841.9" r="5.3" fill="url(#ao8)"/>
<circle cx="556.9" cy="537.5" r="5.2" fill="url(#ac8)"/>
<circle cx="558.4" cy="586.6" r="5.2" fill="url(#ao8)"/>
<circle cx="557.9" cy="631.7" r="5.2" fill="url(#ao8)"/>
<circle cx="557.6" cy="677.5" r="5.2" fill="url(#ao8)"/>
<circle cx="557.9" cy="723.3" r="5.2" fill="url(#ao8)"/>
<circle cx="558.4" cy="768.4" r="5.2" fill="url(#ao8)"/>
<circle cx="556.9" cy="817.5" r="5.3" fill="url(#ao8)"/>
<circle cx="589.7" cy="563.2" r="5.1" fill="url(#ac8)"/>
<circle cx="589.7" cy="608.8" r="5.2" fill="url(#ao8)"/>
<circle cx="589.4" cy="654.3" r="5.3" fill="url(#ao8)"/>
<circle cx="589.4" cy="700.7" r="5.3" fill="url(#ao8)"/>
<circle cx="589.7" cy="746.2" r="5.2" fill="url(#ao8)"/>
<circle cx="589.7" cy="791.8" r="5.2" fill="url(#ao8)"/>
<circle cx="589.1" cy="841.9" r="5.3" fill="url(#ao8)"/>
<circle cx="621.5" cy="538.5" r="5.2" fill="url(#ac8)"/>
<circle cx="621.4" cy="586.7" r="5.2" fill="url(#ao8)"/>
<circle cx="621.5" cy="631.2" r="5.3" fill="url(#ao8)"/>
<circle cx="621.6" cy="677.5" r="5.3" fill="url(#ao8)"/>
<circle cx="621.5" cy="723.8" r="5.3" fill="url(#ao8)"/>
<circle cx="621.4" cy="768.3" r="5.2" fill="url(#ao8)"/>
<circle cx="621.5" cy="816.5" r="5.3" fill="url(#ao8)"/>
<circle cx="653.2" cy="562.9" r="5.1" fill="url(#ac8)"/>
<circle cx="653.1" cy="609.0" r="5.2" fill="url(#ao8)"/>
<circle cx="653.6" cy="654.4" r="5.3" fill="url(#ao8)"/>
<circle cx="653.6" cy="700.6" r="5.3" fill="url(#ao8)"/>
<circle cx="653.1" cy="746.0" r="5.2" fill="url(#ao8)"/>
<circle cx="653.2" cy="792.1" r="5.2" fill="url(#ao8)"/>
<circle cx="654.2" cy="841.9" r="5.3" fill="url(#ao8)"/>
<circle cx="686.6" cy="536.9" r="5.2" fill="url(#ac8)"/>
<circle cx="684.8" cy="586.0" r="5.2" fill="url(#ao8)"/>
<circle cx="684.5" cy="632.0" r="5.2" fill="url(#ao8)"/>
<circle cx="684.9" cy="677.5" r="5.2" fill="url(#ao8)"/>
<circle cx="684.5" cy="723.0" r="5.2" fill="url(#ao8)"/>
<circle cx="684.8" cy="769.0" r="5.2" fill="url(#ao8)"/>
<circle cx="686.6" cy="818.1" r="5.3" fill="url(#ao8)"/>
<circle cx="719.1" cy="560.3" r="5.2" fill="url(#ac8)"/>
<circle cx="717.1" cy="608.5" r="5.2" fill="url(#ao8)"/>
<circle cx="715.9" cy="654.8" r="5.2" fill="url(#ao8)"/>
<circle cx="715.9" cy="700.2" r="5.2" fill="url(#ao8)"/>
<circle cx="717.1" cy="746.5" r="5.2" fill="url(#ao8)"/>
<circle cx="719.1" cy="794.7" r="5.3" fill="url(#ao8)"/>
<circle cx="719.3" cy="841.9" r="5.3" fill="url(#ao8)"/>
<path d="M439.8,558.2L449.3,559.1" stroke="#7c9fca" stroke-width="2.0"/>
<path d="M449.3,559.1L458.8,560.1" stroke="#80bac2" stroke-width="2.0"/>
<path d="M439.8,605.9L449.3,606.5" stroke="#cdbd44" stroke-width="2.0"/>
<path d="M449.3,606.5L458.8,607.0" stroke="#cf8c56" stroke-width="2.0"/>
<path d="M439.8,653.6L449.5,653.9" stroke="#cdbd44" stroke-width="2.0"/>
<path d="M449.5,653.9L459.2,654.1" stroke="#cf8c56" stroke-width="2.0"/>
<path d="M439.8,701.4L449.5,701.1" stroke="#cdbd44" stroke-width="2.0"/>
<path d="M449.5,701.1L459.2,700.9" stroke="#cf8c56" stroke-width="2.0"/>
<path d="M439.8,749.1L449.3,748.5" stroke="#cdbd44" stroke-width="2.0"/>
<path d="M449.3,748.5L458.8,748.0" stroke="#cf8c56" stroke-width="2.0"/>
<path d="M439.8,796.8L449.3,795.9" stroke="#cdbd44" stroke-width="2.0"/>
<path d="M449.3,795.9L458.8,794.9" stroke="#cf8c56" stroke-width="2.0"/>
<path d="M439.8,844.5L449.3,843.2" stroke="#cdbd44" stroke-width="2.0"/>
<path d="M449.3,843.2L458.8,841.9" stroke="#cf8c56" stroke-width="2.0"/>
<path d="M472.9,534.3L482.1,535.5" stroke="#7c9fca" stroke-width="2.0"/>
<path d="M482.1,535.5L491.4,536.6" stroke="#80bac2" stroke-width="2.0"/>
<path d="M472.9,582.1L482.4,583.0" stroke="#cdbd44" stroke-width="2.0"/>
<path d="M482.4,583.0L491.9,584.0" stroke="#cf8c56" stroke-width="2.0"/>
<path d="M473.9,630.1L483.8,630.8" stroke="#cdbd44" stroke-width="2.0"/>
<path d="M483.8,630.8L493.6,631.4" stroke="#cf8c56" stroke-width="2.0"/>
<path d="M474.6,677.5L484.4,677.5" stroke="#cdbd44" stroke-width="2.0"/>
<path d="M484.4,677.5L494.3,677.5" stroke="#cf8c56" stroke-width="2.0"/>
<path d="M473.9,724.9L483.8,724.2" stroke="#cdbd44" stroke-width="2.0"/>
<path d="M483.8,724.2L493.6,723.6" stroke="#cf8c56" stroke-width="2.0"/>
<path d="M472.9,772.9L482.4,772.0" stroke="#cdbd44" stroke-width="2.0"/>
<path d="M482.4,772.0L491.9,771.0" stroke="#cf8c56" stroke-width="2.0"/>
<path d="M472.9,820.7L482.1,819.5" stroke="#cdbd44" stroke-width="2.0"/>
<path d="M482.1,819.5L491.4,818.4" stroke="#cf8c56" stroke-width="2.0"/>
<path d="M506.1,558.3L515.4,559.7" stroke="#7c9fca" stroke-width="2.0"/>
<path d="M515.4,559.7L524.7,561.1" stroke="#80bac2" stroke-width="2.0"/>
<path d="M508.1,607.3L517.3,608.2" stroke="#cdbd44" stroke-width="1.9"/>
<path d="M517.3,608.2L526.6,609.1" stroke="#cf8c56" stroke-width="1.9"/>
<path d="M509.3,654.4L518.1,654.6" stroke="#cdbd44" stroke-width="1.8"/>
<path d="M518.1,654.6L526.9,654.8" stroke="#cf8c56" stroke-width="1.8"/>
<path d="M509.3,700.6L518.1,700.4" stroke="#cdbd44" stroke-width="1.8"/>
<path d="M518.1,700.4L526.9,700.2" stroke="#cf8c56" stroke-width="1.8"/>
<path d="M508.1,747.7L517.3,746.8" stroke="#cdbd44" stroke-width="1.9"/>
<path d="M517.3,746.8L526.6,745.9" stroke="#cf8c56" stroke-width="1.9"/>
<path d="M506.1,796.7L515.4,795.3" stroke="#cdbd44" stroke-width="2.0"/>
<path d="M515.4,795.3L524.7,793.9" stroke="#cf8c56" stroke-width="2.0"/>
<path d="M506.0,844.5L515.0,843.2" stroke="#cdbd44" stroke-width="2.0"/>
<path d="M515.0,843.2L524.0,841.9" stroke="#cf8c56" stroke-width="2.0"/>
<path d="M539.1,534.4L548.0,536.0" stroke="#7c9fca" stroke-width="2.0"/>
<path d="M548.0,536.0L556.9,537.5" stroke="#80bac2" stroke-width="2.0"/>
<path d="M540.9,584.5L549.7,585.5" stroke="#cdbd44" stroke-width="1.9"/>
<path d="M549.7,585.5L558.4,586.6" stroke="#cf8c56" stroke-width="1.9"/>
<path d="M541.4,631.3L549.7,631.5" stroke="#cdbd44" stroke-width="1.7"/>
<path d="M549.7,631.5L557.9,631.7" stroke="#cf8c56" stroke-width="1.7"/>
<path d="M541.2,677.5L549.4,677.5" stroke="#cdbd44" stroke-width="1.6"/>
<path d="M549.4,677.5L557.6,677.5" stroke="#cf8c56" stroke-width="1.6"/>
<path d="M541.4,723.7L549.7,723.5" stroke="#cdbd44" stroke-width="1.7"/>
<path d="M549.7,723.5L557.9,723.3" stroke="#cf8c56" stroke-width="1.7"/>
<path d="M540.9,770.5L549.7,769.5" stroke="#cdbd44" stroke-width="1.9"/>
<path d="M549.7,769.5L558.4,768.4" stroke="#cf8c56" stroke-width="1.9"/>
<path d="M539.1,820.6L548.0,819.0" stroke="#cdbd44" stroke-width="2.0"/>
<path d="M548.0,819.0L556.9,817.5" stroke="#cf8c56" stroke-width="2.0"/>
<path d="M573.1,560.9L581.4,562.0" stroke="#7c9fca" stroke-width="1.9"/>
<path d="M581.4,562.0L589.7,563.2" stroke="#80bac2" stroke-width="1.9"/>
<path d="M573.4,608.1L581.5,608.4" stroke="#cdbd44" stroke-width="1.7"/>
<path d="M581.5,608.4L589.7,608.8" stroke="#cf8c56" stroke-width="1.7"/>
<path d="M573.0,654.2L581.2,654.2" stroke="#cdbd44" stroke-width="1.5"/>
<path d="M581.2,654.2L589.4,654.3" stroke="#cf8c56" stroke-width="1.5"/>
<path d="M573.0,700.8L581.2,700.8" stroke="#cdbd44" stroke-width="1.5"/>
<path d="M581.2,700.8L589.4,700.7" stroke="#cf8c56" stroke-width="1.5"/>
<path d="M573.4,746.9L581.5,746.6" stroke="#cdbd44" stroke-width="1.7"/>
<path d="M581.5,746.6L589.7,746.2" stroke="#cf8c56" stroke-width="1.7"/>
<path d="M573.1,794.1L581.4,793.0" stroke="#cdbd44" stroke-width="1.9"/>
<path d="M581.4,793.0L589.7,791.8" stroke="#cf8c56" stroke-width="1.9"/>
<path d="M572.1,844.5L580.6,843.2" stroke="#cdbd44" stroke-width="2.0"/>
<path d="M580.6,843.2L589.1,841.9" stroke="#cf8c56" stroke-width="2.0"/>
<path d="M605.3,536.1L613.4,537.3" stroke="#7c9fca" stroke-width="2.0"/>
<path d="M613.4,537.3L621.5,538.5" stroke="#80bac2" stroke-width="2.0"/>
<path d="M605.5,585.3L613.4,586.0" stroke="#cdbd44" stroke-width="1.7"/>
<path d="M613.4,586.0L621.4,586.7" stroke="#cf8c56" stroke-width="1.7"/>
<path d="M605.4,630.8L613.5,631.0" stroke="#cdbd44" stroke-width="1.5"/>
<path d="M613.5,631.0L621.5,631.2" stroke="#cf8c56" stroke-width="1.5"/>
<path d="M605.4,677.5L613.5,677.5" stroke="#cdbd44" stroke-width="1.3"/>
<path d="M613.5,677.5L621.6,677.5" stroke="#cf8c56" stroke-width="1.3"/>
<path d="M605.4,724.2L613.5,724.0" stroke="#cdbd44" stroke-width="1.5"/>
<path d="M613.5,724.0L621.5,723.8" stroke="#cf8c56" stroke-width="1.5"/>
<path d="M605.5,769.7L613.4,769.0" stroke="#cdbd44" stroke-width="1.7"/>
<path d="M613.4,769.0L621.4,768.3" stroke="#cf8c56" stroke-width="1.7"/>
<path d="M605.3,818.9L613.4,817.7" stroke="#cdbd44" stroke-width="2.0"/>
<path d="M613.4,817.7L621.5,816.5" stroke="#cf8c56" stroke-width="2.0"/>
<path d="M637.7,561.2L645.5,562.0" stroke="#7c9fca" stroke-width="1.9"/>
<path d="M645.5,562.0L653.2,562.9" stroke="#80bac2" stroke-width="1.9"/>
<path d="M637.6,607.9L645.3,608.5" stroke="#cdbd44" stroke-width="1.6"/>
<path d="M645.3,608.5L653.1,609.0" stroke="#cf8c56" stroke-width="1.6"/>
<path d="M637.8,654.1L645.7,654.2" stroke="#cdbd44" stroke-width="1.4"/>
<path d="M645.7,654.2L653.6,654.4" stroke="#cf8c56" stroke-width="1.4"/>
<path d="M637.8,700.9L645.7,700.8" stroke="#cdbd44" stroke-width="1.4"/>
<path d="M645.7,700.8L653.6,700.6" stroke="#cf8c56" stroke-width="1.4"/>
<path d="M637.6,747.1L645.3,746.5" stroke="#cdbd44" stroke-width="1.6"/>
<path d="M645.3,746.5L653.1,746.0" stroke="#cf8c56" stroke-width="1.6"/>
<path d="M637.7,793.8L645.5,793.0" stroke="#cdbd44" stroke-width="1.9"/>
<path d="M645.5,793.0L653.2,792.1" stroke="#cf8c56" stroke-width="1.9"/>
<path d="M638.3,844.5L646.3,843.2" stroke="#cdbd44" stroke-width="2.0"/>
<path d="M646.3,843.2L654.2,841.9" stroke="#cf8c56" stroke-width="2.0"/>
<path d="M671.1,535.1L678.8,536.0" stroke="#7c9fca" stroke-width="2.0"/>
<path d="M678.8,536.0L686.6,536.9" stroke="#80bac2" stroke-width="2.0"/>
<path d="M669.6,585.0L677.2,585.5" stroke="#cdbd44" stroke-width="1.8"/>
<path d="M677.2,585.5L684.8,586.0" stroke="#cf8c56" stroke-width="1.8"/>
<path d="M669.8,631.1L677.1,631.5" stroke="#cdbd44" stroke-width="1.6"/>
<path d="M677.1,631.5L684.5,632.0" stroke="#cf8c56" stroke-width="1.6"/>
<path d="M670.0,677.5L677.5,677.5" stroke="#cdbd44" stroke-width="1.5"/>
<path d="M677.5,677.5L684.9,677.5" stroke="#cf8c56" stroke-width="1.5"/>
<path d="M669.8,723.9L677.1,723.5" stroke="#cdbd44" stroke-width="1.6"/>
<path d="M677.1,723.5L684.5,723.0" stroke="#cf8c56" stroke-width="1.6"/>
<path d="M669.6,770.0L677.2,769.5" stroke="#cdbd44" stroke-width="1.8"/>
<path d="M677.2,769.5L684.8,769.0" stroke="#cf8c56" stroke-width="1.8"/>
<path d="M671.1,819.9L678.8,819.0" stroke="#cdbd44" stroke-width="2.0"/>
<path d="M678.8,819.0L686.6,818.1" stroke="#cf8c56" stroke-width="2.0"/>
<path d="M703.8,559.1L711.4,559.7" stroke="#7c9fca" stroke-width="2.0"/>
<path d="M711.4,559.7L719.1,560.3" stroke="#80bac2" stroke-width="2.0"/>
<path d="M701.9,607.9L709.5,608.2" stroke="#cdbd44" stroke-width="1.8"/>
<path d="M709.5,608.2L717.1,608.5" stroke="#cf8c56" stroke-width="1.8"/>
<path d="M701.4,654.4L708.7,654.6" stroke="#cdbd44" stroke-width="1.7"/>
<path d="M708.7,654.6L715.9,654.8" stroke="#cf8c56" stroke-width="1.7"/>
<path d="M701.4,700.6L708.7,700.4" stroke="#cdbd44" stroke-width="1.7"/>
<path d="M708.7,700.4L715.9,700.2" stroke="#cf8c56" stroke-width="1.7"/>
<path d="M701.9,747.1L709.5,746.8" stroke="#cdbd44" stroke-width="1.8"/>
<path d="M709.5,746.8L717.1,746.5" stroke="#cf8c56" stroke-width="1.8"/>
<path d="M703.8,795.9L711.4,795.3" stroke="#cdbd44" stroke-width="2.0"/>
<path d="M711.4,795.3L719.1,794.7" stroke="#cf8c56" stroke-width="2.0"/>
<path d="M704.5,844.5L711.9,843.2" stroke="#cdbd44" stroke-width="2.0"/>
<path d="M711.9,843.2L719.3,841.9" stroke="#cf8c56" stroke-width="2.0"/>
<path d="M439.8,558.2L430.0,545.1" stroke="#7c9fca" stroke-width="2.0"/>
<path d="M430.0,545.1L420.2,532.0" stroke="#80bac2" stroke-width="2.0"/>
<path d="M439.8,558.2L430.0,569.4" stroke="#7c9fca" stroke-width="2.0"/>
<path d="M430.0,569.4L420.2,580.5" stroke="#cf8c56" stroke-width="2.0"/>
<path d="M439.8,605.9L430.0,593.2" stroke="#cdbd44" stroke-width="2.0"/>
<path d="M430.0,593.2L420.2,580.5" stroke="#cf8c56" stroke-width="2.0"/>
<path d="M439.8,605.9L430.0,617.5" stroke="#cdbd44" stroke-width="2.0"/>
<path d="M430.0,617.5L420.2,629.0" stroke="#cf8c56" stroke-width="2.0"/>
<path d="M439.8,653.6L430.0,641.3" stroke="#cdbd44" stroke-width="2.0"/>
<path d="M430.0,641.3L420.2,629.0" stroke="#cf8c56" stroke-width="2.0"/>
<path d="M439.8,653.6L430.0,665.6" stroke="#cdbd44" stroke-width="2.0"/>
<path d="M430.0,665.6L420.2,677.5" stroke="#cf8c56" stroke-width="2.0"/>
<path d="M439.8,701.4L430.0,689.4" stroke="#cdbd44" stroke-width="2.0"/>
<path d="M430.0,689.4L420.2,677.5" stroke="#cf8c56" stroke-width="2.0"/>
<path d="M439.8,701.4L430.0,713.7" stroke="#cdbd44" stroke-width="2.0"/>
<path d="M430.0,713.7L420.2,726.0" stroke="#cf8c56" stroke-width="2.0"/>
<path d="M439.8,749.1L430.0,737.5" stroke="#cdbd44" stroke-width="2.0"/>
<path d="M430.0,737.5L420.2,726.0" stroke="#cf8c56" stroke-width="2.0"/>
<path d="M439.8,749.1L430.0,761.8" stroke="#cdbd44" stroke-width="2.0"/>
<path d="M430.0,761.8L420.2,774.5" stroke="#cf8c56" stroke-width="2.0"/>
<path d="M439.8,796.8L430.0,785.6" stroke="#cdbd44" stroke-width="2.0"/>
<path d="M430.0,785.6L420.2,774.5" stroke="#cf8c56" stroke-width="2.0"/>
<path d="M439.8,796.8L430.0,809.9" stroke="#cdbd44" stroke-width="2.0"/>
<path d="M430.0,809.9L420.2,823.0" stroke="#cf8c56" stroke-width="2.0"/>
<path d="M439.8,844.5L430.0,833.8" stroke="#cdbd44" stroke-width="2.0"/>
<path d="M430.0,833.8L420.2,823.0" stroke="#cf8c56" stroke-width="2.0"/>
<path d="M472.9,534.3L463.4,545.3" stroke="#7c9fca" stroke-width="2.0"/>
<path d="M463.4,545.3L453.8,556.3" stroke="#80bac2" stroke-width="2.0"/>
<path d="M472.9,582.1L463.4,569.2" stroke="#cdbd44" stroke-width="2.0"/>
<path d="M463.4,569.2L453.8,556.3" stroke="#80bac2" stroke-width="2.0"/>
<path d="M472.9,582.1L463.4,593.4" stroke="#cdbd44" stroke-width="2.0"/>
<path d="M463.4,593.4L453.8,604.8" stroke="#cf8c56" stroke-width="2.0"/>
<path d="M473.9,630.1L463.9,617.4" stroke="#cdbd44" stroke-width="2.0"/>
<path d="M463.9,617.4L453.8,604.8" stroke="#cf8c56" stroke-width="2.0"/>
<path d="M473.9,630.1L463.9,641.7" stroke="#cdbd44" stroke-width="2.0"/>
<path d="M463.9,641.7L453.8,653.3" stroke="#cf8c56" stroke-width="2.0"/>
<path d="M474.6,677.5L464.2,665.4" stroke="#cdbd44" stroke-width="2.0"/>
<path d="M464.2,665.4L453.8,653.3" stroke="#cf8c56" stroke-width="2.0"/>
<path d="M474.6,677.5L464.2,689.6" stroke="#cdbd44" stroke-width="2.0"/>
<path d="M464.2,689.6L453.8,701.7" stroke="#cf8c56" stroke-width="2.0"/>
<path d="M473.9,724.9L463.9,713.3" stroke="#cdbd44" stroke-width="2.0"/>
<path d="M463.9,713.3L453.8,701.7" stroke="#cf8c56" stroke-width="2.0"/>
<path d="M473.9,724.9L463.9,737.6" stroke="#cdbd44" stroke-width="2.0"/>
<path d="M463.9,737.6L453.8,750.2" stroke="#cf8c56" stroke-width="2.0"/>
<path d="M472.9,772.9L463.4,761.6" stroke="#cdbd44" stroke-width="2.0"/>
<path d="M463.4,761.6L453.8,750.2" stroke="#cf8c56" stroke-width="2.0"/>
<path d="M472.9,772.9L463.4,785.8" stroke="#cdbd44" stroke-width="2.0"/>
<path d="M463.4,785.8L453.8,798.7" stroke="#cf8c56" stroke-width="2.0"/>
<path d="M472.9,820.7L463.4,809.7" stroke="#cdbd44" stroke-width="2.0"/>
<path d="M463.4,809.7L453.8,798.7" stroke="#cf8c56" stroke-width="2.0"/>
<path d="M472.9,820.7L463.4,833.9" stroke="#cdbd44" stroke-width="2.0"/>
<path d="M463.4,833.9L453.8,847.2" stroke="#cf8c56" stroke-width="2.0"/>
<path d="M506.1,558.3L496.7,545.1" stroke="#7c9fca" stroke-width="2.0"/>
<path d="M496.7,545.1L487.4,532.0" stroke="#80bac2" stroke-width="2.0"/>
<path d="M506.1,558.3L496.8,569.5" stroke="#7c9fca" stroke-width="2.0"/>
<path d="M496.8,569.5L487.6,580.6" stroke="#cf8c56" stroke-width="2.0"/>
<path d="M508.1,607.3L497.9,594.0" stroke="#cdbd44" stroke-width="1.9"/>
<path d="M497.9,594.0L487.6,580.6" stroke="#cf8c56" stroke-width="1.9"/>
<path d="M508.1,607.3L498.8,618.6" stroke="#cdbd44" stroke-width="1.9"/>
<path d="M498.8,618.6L489.4,629.8" stroke="#cf8c56" stroke-width="1.9"/>
<path d="M509.3,654.4L499.4,642.1" stroke="#cdbd44" stroke-width="1.8"/>
<path d="M499.4,642.1L489.4,629.8" stroke="#cf8c56" stroke-width="1.8"/>
<path d="M509.3,654.4L499.7,665.9" stroke="#cdbd44" stroke-width="1.8"/>
<path d="M499.7,665.9L490.1,677.5" stroke="#cf8c56" stroke-width="1.8"/>
<path d="M509.3,700.6L499.7,689.1" stroke="#cdbd44" stroke-width="1.8"/>
<path d="M499.7,689.1L490.1,677.5" stroke="#cf8c56" stroke-width="1.8"/>
<path d="M509.3,700.6L499.4,712.9" stroke="#cdbd44" stroke-width="1.8"/>
<path d="M499.4,712.9L489.4,725.2" stroke="#cf8c56" stroke-width="1.8"/>
<path d="M508.1,747.7L498.8,736.4" stroke="#cdbd44" stroke-width="1.9"/>
<path d="M498.8,736.4L489.4,725.2" stroke="#cf8c56" stroke-width="1.9"/>
<path d="M508.1,747.7L497.9,761.0" stroke="#cdbd44" stroke-width="1.9"/>
<path d="M497.9,761.0L487.6,774.4" stroke="#cf8c56" stroke-width="1.9"/>
<path d="M506.1,796.7L496.8,785.5" stroke="#cdbd44" stroke-width="2.0"/>
<path d="M496.8,785.5L487.6,774.4" stroke="#cf8c56" stroke-width="2.0"/>
<path d="M506.1,796.7L496.7,809.9" stroke="#cdbd44" stroke-width="2.0"/>
<path d="M496.7,809.9L487.4,823.0" stroke="#cf8c56" stroke-width="2.0"/>
<path d="M506.0,844.5L496.7,833.8" stroke="#cdbd44" stroke-width="2.0"/>
<path d="M496.7,833.8L487.4,823.0" stroke="#cf8c56" stroke-width="2.0"/>
<path d="M539.1,534.4L530.4,545.7" stroke="#7c9fca" stroke-width="2.0"/>
<path d="M530.4,545.7L521.6,557.0" stroke="#80bac2" stroke-width="2.0"/>
<path d="M540.9,584.5L531.3,570.7" stroke="#cdbd44" stroke-width="1.9"/>
<path d="M531.3,570.7L521.6,557.0" stroke="#80bac2" stroke-width="1.9"/>
<path d="M540.9,584.5L532.2,595.6" stroke="#cdbd44" stroke-width="1.9"/>
<path d="M532.2,595.6L523.5,606.7" stroke="#cf8c56" stroke-width="1.9"/>
<path d="M541.4,631.3L532.5,619.0" stroke="#cdbd44" stroke-width="1.7"/>
<path d="M532.5,619.0L523.5,606.7" stroke="#cf8c56" stroke-width="1.7"/>
<path d="M541.4,631.3L532.8,642.7" stroke="#cdbd44" stroke-width="1.7"/>
<path d="M532.8,642.7L524.2,654.1" stroke="#cf8c56" stroke-width="1.7"/>
<path d="M541.2,677.5L532.7,665.8" stroke="#cdbd44" stroke-width="1.6"/>
<path d="M532.7,665.8L524.2,654.1" stroke="#cf8c56" stroke-width="1.6"/>
<path d="M541.2,677.5L532.7,689.2" stroke="#cdbd44" stroke-width="1.6"/>
<path d="M532.7,689.2L524.2,700.9" stroke="#cf8c56" stroke-width="1.6"/>
<path d="M541.4,723.7L532.8,712.3" stroke="#cdbd44" stroke-width="1.7"/>
<path d="M532.8,712.3L524.2,700.9" stroke="#cf8c56" stroke-width="1.7"/>
<path d="M541.4,723.7L532.5,736.0" stroke="#cdbd44" stroke-width="1.7"/>
<path d="M532.5,736.0L523.5,748.3" stroke="#cf8c56" stroke-width="1.7"/>
<path d="M540.9,770.5L532.2,759.4" stroke="#cdbd44" stroke-width="1.9"/>
<path d="M532.2,759.4L523.5,748.3" stroke="#cf8c56" stroke-width="1.9"/>
<path d="M540.9,770.5L531.3,784.3" stroke="#cdbd44" stroke-width="1.9"/>
<path d="M531.3,784.3L521.6,798.0" stroke="#cf8c56" stroke-width="1.9"/>
<path d="M539.1,820.6L530.4,809.3" stroke="#cdbd44" stroke-width="2.0"/>
<path d="M530.4,809.3L521.6,798.0" stroke="#cf8c56" stroke-width="2.0"/>
<path d="M539.1,820.6L530.1,833.9" stroke="#cdbd44" stroke-width="2.0"/>
<path d="M530.1,833.9L521.0,847.2" stroke="#cf8c56" stroke-width="2.0"/>
<path d="M573.1,560.9L564.0,546.7" stroke="#7c9fca" stroke-width="1.9"/>
<path d="M564.0,546.7L554.9,532.5" stroke="#80bac2" stroke-width="1.9"/>
<path d="M573.1,560.9L564.8,572.2" stroke="#7c9fca" stroke-width="1.9"/>
<path d="M564.8,572.2L556.4,583.4" stroke="#cf8c56" stroke-width="1.9"/>
<path d="M573.4,608.1L564.9,595.7" stroke="#cdbd44" stroke-width="1.7"/>
<path d="M564.9,595.7L556.4,583.4" stroke="#cf8c56" stroke-width="1.7"/>
<path d="M573.4,608.1L564.9,619.3" stroke="#cdbd44" stroke-width="1.7"/>
<path d="M564.9,619.3L556.5,630.5" stroke="#cf8c56" stroke-width="1.7"/>
<path d="M573.0,654.2L564.8,642.3" stroke="#cdbd44" stroke-width="1.5"/>
<path d="M564.8,642.3L556.5,630.5" stroke="#cf8c56" stroke-width="1.5"/>
<path d="M573.0,654.2L564.7,665.8" stroke="#cdbd44" stroke-width="1.5"/>
<path d="M564.7,665.8L556.4,677.5" stroke="#cf8c56" stroke-width="1.5"/>
<path d="M573.0,700.8L564.7,689.2" stroke="#cdbd44" stroke-width="1.5"/>
<path d="M564.7,689.2L556.4,677.5" stroke="#cf8c56" stroke-width="1.5"/>
<path d="M573.0,700.8L564.8,712.7" stroke="#cdbd44" stroke-width="1.5"/>
<path d="M564.8,712.7L556.5,724.5" stroke="#cf8c56" stroke-width="1.5"/>
<path d="M573.4,746.9L564.9,735.7" stroke="#cdbd44" stroke-width="1.7"/>
<path d="M564.9,735.7L556.5,724.5" stroke="#cf8c56" stroke-width="1.7"/>
<path d="M573.4,746.9L564.9,759.3" stroke="#cdbd44" stroke-width="1.7"/>
<path d="M564.9,759.3L556.4,771.6" stroke="#cf8c56" stroke-width="1.7"/>
<path d="M573.1,794.1L564.8,782.8" stroke="#cdbd44" stroke-width="1.9"/>
<path d="M564.8,782.8L556.4,771.6" stroke="#cf8c56" stroke-width="1.9"/>
<path d="M573.1,794.1L564.0,808.3" stroke="#cdbd44" stroke-width="1.9"/>
<path d="M564.0,808.3L554.9,822.5" stroke="#cf8c56" stroke-width="1.9"/>
<path d="M572.1,844.5L563.5,833.5" stroke="#cdbd44" stroke-width="2.0"/>
<path d="M563.5,833.5L554.9,822.5" stroke="#cf8c56" stroke-width="2.0"/>
<path d="M605.3,536.1L597.1,547.6" stroke="#7c9fca" stroke-width="2.0"/>
<path d="M597.1,547.6L588.9,559.2" stroke="#80bac2" stroke-width="2.0"/>
<path d="M605.5,585.3L597.2,572.2" stroke="#cdbd44" stroke-width="1.7"/>
<path d="M597.2,572.2L588.9,559.2" stroke="#80bac2" stroke-width="1.7"/>
<path d="M605.5,585.3L597.3,596.1" stroke="#cdbd44" stroke-width="1.7"/>
<path d="M597.3,596.1L589.1,607.0" stroke="#cf8c56" stroke-width="1.7"/>
<path d="M605.4,630.8L597.2,618.9" stroke="#cdbd44" stroke-width="1.5"/>
<path d="M597.2,618.9L589.1,607.0" stroke="#cf8c56" stroke-width="1.5"/>
<path d="M605.4,630.8L597.2,642.4" stroke="#cdbd44" stroke-width="1.5"/>
<path d="M597.2,642.4L589.0,653.9" stroke="#cf8c56" stroke-width="1.5"/>
<path d="M605.4,677.5L597.2,665.7" stroke="#cdbd44" stroke-width="1.3"/>
<path d="M597.2,665.7L589.0,653.9" stroke="#cf8c56" stroke-width="1.3"/>
<path d="M605.4,677.5L597.2,689.3" stroke="#cdbd44" stroke-width="1.3"/>
<path d="M597.2,689.3L589.0,701.1" stroke="#cf8c56" stroke-width="1.3"/>
<path d="M605.4,724.2L597.2,712.6" stroke="#cdbd44" stroke-width="1.5"/>
<path d="M597.2,712.6L589.0,701.1" stroke="#cf8c56" stroke-width="1.5"/>
<path d="M605.4,724.2L597.2,736.1" stroke="#cdbd44" stroke-width="1.5"/>
<path d="M597.2,736.1L589.1,748.0" stroke="#cf8c56" stroke-width="1.5"/>
<path d="M605.5,769.7L597.3,758.9" stroke="#cdbd44" stroke-width="1.7"/>
<path d="M597.3,758.9L589.1,748.0" stroke="#cf8c56" stroke-width="1.7"/>
<path d="M605.5,769.7L597.2,782.8" stroke="#cdbd44" stroke-width="1.7"/>
<path d="M597.2,782.8L588.9,795.8" stroke="#cf8c56" stroke-width="1.7"/>
<path d="M605.3,818.9L597.1,807.4" stroke="#cdbd44" stroke-width="2.0"/>
<path d="M597.1,807.4L588.9,795.8" stroke="#cf8c56" stroke-width="2.0"/>
<path d="M605.3,818.9L596.8,833.1" stroke="#cdbd44" stroke-width="2.0"/>
<path d="M596.8,833.1L588.3,847.2" stroke="#cf8c56" stroke-width="2.0"/>
<path d="M637.7,561.2L629.7,547.4" stroke="#7c9fca" stroke-width="1.9"/>
<path d="M629.7,547.4L621.8,533.6" stroke="#80bac2" stroke-width="1.9"/>
<path d="M637.7,561.2L629.7,572.5" stroke="#7c9fca" stroke-width="1.9"/>
<path d="M629.7,572.5L621.6,583.8" stroke="#cf8c56" stroke-width="1.9"/>
<path d="M637.6,607.9L629.6,595.9" stroke="#cdbd44" stroke-width="1.6"/>
<path d="M629.6,595.9L621.6,583.8" stroke="#cf8c56" stroke-width="1.6"/>
<path d="M637.6,607.9L629.6,619.1" stroke="#cdbd44" stroke-width="1.6"/>
<path d="M629.6,619.1L621.7,630.4" stroke="#cf8c56" stroke-width="1.6"/>
<path d="M637.8,654.1L629.8,642.2" stroke="#cdbd44" stroke-width="1.4"/>
<path d="M629.8,642.2L621.7,630.4" stroke="#cf8c56" stroke-width="1.4"/>
<path d="M637.8,654.1L629.8,665.8" stroke="#cdbd44" stroke-width="1.4"/>
<path d="M629.8,665.8L621.7,677.5" stroke="#cf8c56" stroke-width="1.4"/>
<path d="M637.8,700.9L629.8,689.2" stroke="#cdbd44" stroke-width="1.4"/>
<path d="M629.8,689.2L621.7,677.5" stroke="#cf8c56" stroke-width="1.4"/>
<path d="M637.8,700.9L629.8,712.8" stroke="#cdbd44" stroke-width="1.4"/>
<path d="M629.8,712.8L621.7,724.6" stroke="#cf8c56" stroke-width="1.4"/>
<path d="M637.6,747.1L629.6,735.9" stroke="#cdbd44" stroke-width="1.6"/>
<path d="M629.6,735.9L621.7,724.6" stroke="#cf8c56" stroke-width="1.6"/>
<path d="M637.6,747.1L629.6,759.1" stroke="#cdbd44" stroke-width="1.6"/>
<path d="M629.6,759.1L621.6,771.2" stroke="#cf8c56" stroke-width="1.6"/>
<path d="M637.7,793.8L629.7,782.5" stroke="#cdbd44" stroke-width="1.9"/>
<path d="M629.7,782.5L621.6,771.2" stroke="#cf8c56" stroke-width="1.9"/>
<path d="M637.7,793.8L629.7,807.6" stroke="#cdbd44" stroke-width="1.9"/>
<path d="M629.7,807.6L621.8,821.4" stroke="#cf8c56" stroke-width="1.9"/>
<path d="M638.3,844.5L630.1,833.0" stroke="#cdbd44" stroke-width="2.0"/>
<path d="M630.1,833.0L621.8,821.4" stroke="#cf8c56" stroke-width="2.0"/>
<path d="M671.1,535.1L662.9,547.0" stroke="#7c9fca" stroke-width="2.0"/>
<path d="M662.9,547.0L654.6,558.8" stroke="#80bac2" stroke-width="2.0"/>
<path d="M669.6,585.0L662.1,571.9" stroke="#cdbd44" stroke-width="1.8"/>
<path d="M662.1,571.9L654.6,558.8" stroke="#80bac2" stroke-width="1.8"/>
<path d="M669.6,585.0L661.9,596.1" stroke="#cdbd44" stroke-width="1.8"/>
<path d="M661.9,596.1L654.2,607.1" stroke="#cf8c56" stroke-width="1.8"/>
<path d="M669.8,631.1L662.0,619.1" stroke="#cdbd44" stroke-width="1.6"/>
<path d="M662.0,619.1L654.2,607.1" stroke="#cf8c56" stroke-width="1.6"/>
<path d="M669.8,631.1L662.1,642.5" stroke="#cdbd44" stroke-width="1.6"/>
<path d="M662.1,642.5L654.3,653.9" stroke="#cf8c56" stroke-width="1.6"/>
<path d="M670.0,677.5L662.2,665.7" stroke="#cdbd44" stroke-width="1.5"/>
<path d="M662.2,665.7L654.3,653.9" stroke="#cf8c56" stroke-width="1.5"/>
<path d="M670.0,677.5L662.2,689.3" stroke="#cdbd44" stroke-width="1.5"/>
<path d="M662.2,689.3L654.3,701.1" stroke="#cf8c56" stroke-width="1.5"/>
<path d="M669.8,723.9L662.1,712.5" stroke="#cdbd44" stroke-width="1.6"/>
<path d="M662.1,712.5L654.3,701.1" stroke="#cf8c56" stroke-width="1.6"/>
<path d="M669.8,723.9L662.0,735.9" stroke="#cdbd44" stroke-width="1.6"/>
<path d="M662.0,735.9L654.2,747.9" stroke="#cf8c56" stroke-width="1.6"/>
<path d="M669.6,770.0L661.9,758.9" stroke="#cdbd44" stroke-width="1.8"/>
<path d="M661.9,758.9L654.2,747.9" stroke="#cf8c56" stroke-width="1.8"/>
<path d="M669.6,770.0L662.1,783.1" stroke="#cdbd44" stroke-width="1.8"/>
<path d="M662.1,783.1L654.6,796.2" stroke="#cf8c56" stroke-width="1.8"/>
<path d="M671.1,819.9L662.9,808.0" stroke="#cdbd44" stroke-width="2.0"/>
<path d="M662.9,808.0L654.6,796.2" stroke="#cf8c56" stroke-width="2.0"/>
<path d="M671.1,819.9L663.3,833.6" stroke="#cdbd44" stroke-width="2.0"/>
<path d="M663.3,833.6L655.5,847.2" stroke="#cf8c56" stroke-width="2.0"/>
<path d="M703.8,559.1L696.5,545.5" stroke="#7c9fca" stroke-width="2.0"/>
<path d="M696.5,545.5L689.1,532.0" stroke="#80bac2" stroke-width="2.0"/>
<path d="M703.8,559.1L695.6,571.0" stroke="#7c9fca" stroke-width="2.0"/>
<path d="M695.6,571.0L687.3,582.8" stroke="#cf8c56" stroke-width="2.0"/>
<path d="M701.9,607.9L694.6,595.4" stroke="#cdbd44" stroke-width="1.8"/>
<path d="M694.6,595.4L687.3,582.8" stroke="#cf8c56" stroke-width="1.8"/>
<path d="M701.9,607.9L694.3,619.3" stroke="#cdbd44" stroke-width="1.8"/>
<path d="M694.3,619.3L686.7,630.6" stroke="#cf8c56" stroke-width="1.8"/>
<path d="M701.4,654.4L694.0,642.5" stroke="#cdbd44" stroke-width="1.7"/>
<path d="M694.0,642.5L686.7,630.6" stroke="#cf8c56" stroke-width="1.7"/>
<path d="M701.4,654.4L694.1,666.0" stroke="#cdbd44" stroke-width="1.7"/>
<path d="M694.1,666.0L686.8,677.5" stroke="#cf8c56" stroke-width="1.7"/>
<path d="M701.4,700.6L694.1,689.0" stroke="#cdbd44" stroke-width="1.7"/>
<path d="M694.1,689.0L686.8,677.5" stroke="#cf8c56" stroke-width="1.7"/>
<path d="M701.4,700.6L694.0,712.5" stroke="#cdbd44" stroke-width="1.7"/>
<path d="M694.0,712.5L686.7,724.4" stroke="#cf8c56" stroke-width="1.7"/>
<path d="M701.9,747.1L694.3,735.7" stroke="#cdbd44" stroke-width="1.8"/>
<path d="M694.3,735.7L686.7,724.4" stroke="#cf8c56" stroke-width="1.8"/>
<path d="M701.9,747.1L694.6,759.6" stroke="#cdbd44" stroke-width="1.8"/>
<path d="M694.6,759.6L687.3,772.2" stroke="#cf8c56" stroke-width="1.8"/>
<path d="M703.8,795.9L695.6,784.0" stroke="#cdbd44" stroke-width="2.0"/>
<path d="M695.6,784.0L687.3,772.2" stroke="#cf8c56" stroke-width="2.0"/>
<path d="M703.8,795.9L696.5,809.5" stroke="#cdbd44" stroke-width="2.0"/>
<path d="M696.5,809.5L689.1,823.0" stroke="#cf8c56" stroke-width="2.0"/>
<path d="M704.5,844.5L696.8,833.8" stroke="#cdbd44" stroke-width="2.0"/>
<path d="M696.8,833.8L689.1,823.0" stroke="#cf8c56" stroke-width="2.0"/>
<path d="M737.6,534.3L730.2,545.3" stroke="#7c9fca" stroke-width="2.0"/>
<path d="M730.2,545.3L722.8,556.3" stroke="#80bac2" stroke-width="2.0"/>
<path d="M737.2,582.3L730.0,569.3" stroke="#cdbd44" stroke-width="2.0"/>
<path d="M730.0,569.3L722.8,556.3" stroke="#80bac2" stroke-width="2.0"/>
<path d="M737.2,582.3L729.0,594.2" stroke="#cdbd44" stroke-width="2.0"/>
<path d="M729.0,594.2L720.7,606.1" stroke="#cf8c56" stroke-width="2.0"/>
<path d="M735.4,630.6L728.1,618.3" stroke="#cdbd44" stroke-width="2.0"/>
<path d="M728.1,618.3L720.7,606.1" stroke="#cf8c56" stroke-width="2.0"/>
<path d="M735.4,630.6L727.5,642.3" stroke="#cdbd44" stroke-width="2.0"/>
<path d="M727.5,642.3L719.5,654.0" stroke="#cf8c56" stroke-width="2.0"/>
<path d="M734.8,677.5L727.1,665.7" stroke="#cdbd44" stroke-width="1.9"/>
<path d="M727.1,665.7L719.5,654.0" stroke="#cf8c56" stroke-width="1.9"/>
<path d="M734.8,677.5L727.1,689.3" stroke="#cdbd44" stroke-width="1.9"/>
<path d="M727.1,689.3L719.5,701.0" stroke="#cf8c56" stroke-width="1.9"/>
<path d="M735.4,724.4L727.5,712.7" stroke="#cdbd44" stroke-width="2.0"/>
<path d="M727.5,712.7L719.5,701.0" stroke="#cf8c56" stroke-width="2.0"/>
<path d="M735.4,724.4L728.1,736.7" stroke="#cdbd44" stroke-width="2.0"/>
<path d="M728.1,736.7L720.7,748.9" stroke="#cf8c56" stroke-width="2.0"/>
<path d="M737.2,772.7L729.0,760.8" stroke="#cdbd44" stroke-width="2.0"/>
<path d="M729.0,760.8L720.7,748.9" stroke="#cf8c56" stroke-width="2.0"/>
<path d="M737.2,772.7L730.0,785.7" stroke="#cdbd44" stroke-width="2.0"/>
<path d="M730.0,785.7L722.8,798.7" stroke="#cf8c56" stroke-width="2.0"/>
<path d="M737.6,820.7L730.2,809.7" stroke="#cdbd44" stroke-width="2.0"/>
<path d="M730.2,809.7L722.8,798.7" stroke="#cf8c56" stroke-width="2.0"/>
<path d="M737.6,820.7L730.2,833.9" stroke="#cdbd44" stroke-width="2.0"/>
<path d="M730.2,833.9L722.8,847.2" stroke="#cf8c56" stroke-width="2.0"/>
<circle cx="439.8" cy="558.2" r="6.2" fill="url(#ab7)"/>
<circle cx="439.8" cy="605.9" r="6.0" fill="url(#ay7)"/>
<circle cx="439.8" cy="653.6" r="6.0" fill="url(#ay7)"/>
<circle cx="439.8" cy="701.4" r="6.0" fill="url(#ay7)"/>
<circle cx="439.8" cy="749.1" r="6.0" fill="url(#ay7)"/>
<circle cx="439.8" cy="796.8" r="6.0" fill="url(#ay7)"/>
<circle cx="472.9" cy="534.3" r="6.2" fill="url(#ab7)"/>
<circle cx="472.9" cy="582.1" r="6.0" fill="url(#ay7)"/>
<circle cx="473.9" cy="630.1" r="6.0" fill="url(#ay7)"/>
<circle cx="474.6" cy="677.5" r="6.0" fill="url(#ay7)"/>
<circle cx="473.9" cy="724.9" r="6.0" fill="url(#ay7)"/>
<circle cx="472.9" cy="772.9" r="6.0" fill="url(#ay7)"/>
<circle cx="472.9" cy="820.7" r="6.0" fill="url(#ay7)"/>
<circle cx="506.1" cy="558.3" r="6.2" fill="url(#ab7)"/>
<circle cx="508.1" cy="607.3" r="5.9" fill="url(#ay7)"/>
<circle cx="509.3" cy="654.4" r="5.9" fill="url(#ay7)"/>
<circle cx="509.3" cy="700.6" r="5.9" fill="url(#ay7)"/>
<circle cx="508.1" cy="747.7" r="5.9" fill="url(#ay7)"/>
<circle cx="506.1" cy="796.7" r="6.0" fill="url(#ay7)"/>
<circle cx="539.1" cy="534.4" r="6.2" fill="url(#ab7)"/>
<circle cx="540.9" cy="584.5" r="5.9" fill="url(#ay7)"/>
<circle cx="541.4" cy="631.3" r="5.8" fill="url(#ay7)"/>
<circle cx="541.2" cy="677.5" r="5.9" fill="url(#ay7)"/>
<circle cx="541.4" cy="723.7" r="5.8" fill="url(#ay7)"/>
<circle cx="540.9" cy="770.5" r="5.9" fill="url(#ay7)"/>
<circle cx="539.1" cy="820.6" r="6.0" fill="url(#ay7)"/>
<circle cx="573.1" cy="560.9" r="6.1" fill="url(#ab7)"/>
<circle cx="573.4" cy="608.1" r="5.9" fill="url(#ay7)"/>
<circle cx="573.0" cy="654.2" r="5.9" fill="url(#ay7)"/>
<circle cx="573.0" cy="700.8" r="5.9" fill="url(#ay7)"/>
<circle cx="573.4" cy="746.9" r="5.9" fill="url(#ay7)"/>
<circle cx="573.1" cy="794.1" r="5.9" fill="url(#ay7)"/>
<circle cx="605.3" cy="536.1" r="6.1" fill="url(#ab7)"/>
<circle cx="605.5" cy="585.3" r="5.8" fill="url(#ay7)"/>
<circle cx="605.4" cy="630.8" r="5.9" fill="url(#ay7)"/>
<circle cx="605.4" cy="677.5" r="5.9" fill="url(#ay7)"/>
<circle cx="605.4" cy="724.2" r="5.9" fill="url(#ay7)"/>
<circle cx="605.5" cy="769.7" r="5.8" fill="url(#ay7)"/>
<circle cx="605.3" cy="818.9" r="6.0" fill="url(#ay7)"/>
<circle cx="637.7" cy="561.2" r="6.1" fill="url(#ab7)"/>
<circle cx="637.6" cy="607.9" r="5.9" fill="url(#ay7)"/>
<circle cx="637.8" cy="654.1" r="5.9" fill="url(#ay7)"/>
<circle cx="637.8" cy="700.9" r="5.9" fill="url(#ay7)"/>
<circle cx="637.6" cy="747.1" r="5.9" fill="url(#ay7)"/>
<circle cx="637.7" cy="793.8" r="5.9" fill="url(#ay7)"/>
<circle cx="671.1" cy="535.1" r="6.2" fill="url(#ab7)"/>
<circle cx="669.6" cy="585.0" r="5.9" fill="url(#ay7)"/>
<circle cx="669.8" cy="631.1" r="5.9" fill="url(#ay7)"/>
<circle cx="670.0" cy="677.5" r="5.9" fill="url(#ay7)"/>
<circle cx="669.8" cy="723.9" r="5.9" fill="url(#ay7)"/>
<circle cx="669.6" cy="770.0" r="5.9" fill="url(#ay7)"/>
<circle cx="671.1" cy="819.9" r="6.0" fill="url(#ay7)"/>
<circle cx="703.8" cy="559.1" r="6.2" fill="url(#ab7)"/>
<circle cx="701.9" cy="607.9" r="5.9" fill="url(#ay7)"/>
<circle cx="701.4" cy="654.4" r="5.8" fill="url(#ay7)"/>
<circle cx="701.4" cy="700.6" r="5.8" fill="url(#ay7)"/>
<circle cx="701.9" cy="747.1" r="5.9" fill="url(#ay7)"/>
<circle cx="703.8" cy="795.9" r="6.0" fill="url(#ay7)"/>
<path d="M439.8,558.2L446.8,557.2" stroke="#7c9fca" stroke-width="2.0"/>
<path d="M446.8,557.2L453.8,556.3" stroke="#80bac2" stroke-width="2.0"/>
<path d="M439.8,605.9L446.8,605.3" stroke="#cdbd44" stroke-width="2.0"/>
<path d="M446.8,605.3L453.8,604.8" stroke="#cf8c56" stroke-width="2.0"/>
<path d="M439.8,653.6L446.8,653.4" stroke="#cdbd44" stroke-width="2.0"/>
<path d="M446.8,653.4L453.8,653.3" stroke="#cf8c56" stroke-width="2.0"/>
<path d="M439.8,701.4L446.8,701.6" stroke="#cdbd44" stroke-width="2.0"/>
<path d="M446.8,701.6L453.8,701.7" stroke="#cf8c56" stroke-width="2.0"/>
<path d="M439.8,749.1L446.8,749.7" stroke="#cdbd44" stroke-width="2.0"/>
<path d="M446.8,749.7L453.8,750.2" stroke="#cf8c56" stroke-width="2.0"/>
<path d="M439.8,796.8L446.8,797.8" stroke="#cdbd44" stroke-width="2.0"/>
<path d="M446.8,797.8L453.8,798.7" stroke="#cf8c56" stroke-width="2.0"/>
<path d="M472.9,534.3L480.2,533.2" stroke="#7c9fca" stroke-width="2.0"/>
<path d="M480.2,533.2L487.4,532.0" stroke="#80bac2" stroke-width="2.0"/>
<path d="M472.9,582.1L480.2,581.3" stroke="#cdbd44" stroke-width="2.0"/>
<path d="M480.2,581.3L487.6,580.6" stroke="#cf8c56" stroke-width="2.0"/>
<path d="M473.9,630.1L481.7,630.0" stroke="#cdbd44" stroke-width="2.0"/>
<path d="M481.7,630.0L489.4,629.8" stroke="#cf8c56" stroke-width="2.0"/>
<path d="M474.6,677.5L482.4,677.5" stroke="#cdbd44" stroke-width="2.0"/>
<path d="M482.4,677.5L490.1,677.5" stroke="#cf8c56" stroke-width="2.0"/>
<path d="M473.9,724.9L481.7,725.0" stroke="#cdbd44" stroke-width="2.0"/>
<path d="M481.7,725.0L489.4,725.2" stroke="#cf8c56" stroke-width="2.0"/>
<path d="M472.9,772.9L480.2,773.7" stroke="#cdbd44" stroke-width="2.0"/>
<path d="M480.2,773.7L487.6,774.4" stroke="#cf8c56" stroke-width="2.0"/>
<path d="M472.9,820.7L480.2,821.8" stroke="#cdbd44" stroke-width="2.0"/>
<path d="M480.2,821.8L487.4,823.0" stroke="#cf8c56" stroke-width="2.0"/>
<path d="M506.1,558.3L513.8,557.6" stroke="#7c9fca" stroke-width="2.0"/>
<path d="M513.8,557.6L521.6,557.0" stroke="#80bac2" stroke-width="2.0"/>
<path d="M508.1,607.3L515.8,607.0" stroke="#cdbd44" stroke-width="1.9"/>
<path d="M515.8,607.0L523.5,606.7" stroke="#cf8c56" stroke-width="1.9"/>
<path d="M509.3,654.4L516.8,654.2" stroke="#cdbd44" stroke-width="1.8"/>
<path d="M516.8,654.2L524.2,654.1" stroke="#cf8c56" stroke-width="1.8"/>
<path d="M509.3,700.6L516.8,700.8" stroke="#cdbd44" stroke-width="1.8"/>
<path d="M516.8,700.8L524.2,700.9" stroke="#cf8c56" stroke-width="1.8"/>
<path d="M508.1,747.7L515.8,748.0" stroke="#cdbd44" stroke-width="1.9"/>
<path d="M515.8,748.0L523.5,748.3" stroke="#cf8c56" stroke-width="1.9"/>
<path d="M506.1,796.7L513.8,797.4" stroke="#cdbd44" stroke-width="2.0"/>
<path d="M513.8,797.4L521.6,798.0" stroke="#cf8c56" stroke-width="2.0"/>
<path d="M539.1,534.4L547.0,533.5" stroke="#7c9fca" stroke-width="2.0"/>
<path d="M547.0,533.5L554.9,532.5" stroke="#80bac2" stroke-width="2.0"/>
<path d="M540.9,584.5L548.7,584.0" stroke="#cdbd44" stroke-width="1.9"/>
<path d="M548.7,584.0L556.4,583.4" stroke="#cf8c56" stroke-width="1.9"/>
<path d="M541.4,631.3L549.0,630.9" stroke="#cdbd44" stroke-width="1.7"/>
<path d="M549.0,630.9L556.5,630.5" stroke="#cf8c56" stroke-width="1.7"/>
<path d="M541.2,677.5L548.8,677.5" stroke="#cdbd44" stroke-width="1.6"/>
<path d="M548.8,677.5L556.4,677.5" stroke="#cf8c56" stroke-width="1.6"/>
<path d="M541.4,723.7L549.0,724.1" stroke="#cdbd44" stroke-width="1.7"/>
<path d="M549.0,724.1L556.5,724.5" stroke="#cf8c56" stroke-width="1.7"/>
<path d="M540.9,770.5L548.7,771.0" stroke="#cdbd44" stroke-width="1.9"/>
<path d="M548.7,771.0L556.4,771.6" stroke="#cf8c56" stroke-width="1.9"/>
<path d="M539.1,820.6L547.0,821.5" stroke="#cdbd44" stroke-width="2.0"/>
<path d="M547.0,821.5L554.9,822.5" stroke="#cf8c56" stroke-width="2.0"/>
<path d="M573.1,560.9L581.0,560.0" stroke="#7c9fca" stroke-width="1.9"/>
<path d="M581.0,560.0L588.9,559.2" stroke="#80bac2" stroke-width="1.9"/>
<path d="M573.4,608.1L581.2,607.5" stroke="#cdbd44" stroke-width="1.7"/>
<path d="M581.2,607.5L589.1,607.0" stroke="#cf8c56" stroke-width="1.7"/>
<path d="M573.0,654.2L581.0,654.0" stroke="#cdbd44" stroke-width="1.5"/>
<path d="M581.0,654.0L589.0,653.9" stroke="#cf8c56" stroke-width="1.5"/>
<path d="M573.0,700.8L581.0,701.0" stroke="#cdbd44" stroke-width="1.5"/>
<path d="M581.0,701.0L589.0,701.1" stroke="#cf8c56" stroke-width="1.5"/>
<path d="M573.4,746.9L581.2,747.5" stroke="#cdbd44" stroke-width="1.7"/>
<path d="M581.2,747.5L589.1,748.0" stroke="#cf8c56" stroke-width="1.7"/>
<path d="M573.1,794.1L581.0,795.0" stroke="#cdbd44" stroke-width="1.9"/>
<path d="M581.0,795.0L588.9,795.8" stroke="#cf8c56" stroke-width="1.9"/>
<path d="M605.3,536.1L613.6,534.8" stroke="#7c9fca" stroke-width="2.0"/>
<path d="M613.6,534.8L621.8,533.6" stroke="#80bac2" stroke-width="2.0"/>
<path d="M605.5,585.3L613.6,584.5" stroke="#cdbd44" stroke-width="1.7"/>
<path d="M613.6,584.5L621.6,583.8" stroke="#cf8c56" stroke-width="1.7"/>
<path d="M605.4,630.8L613.5,630.6" stroke="#cdbd44" stroke-width="1.5"/>
<path d="M613.5,630.6L621.7,630.4" stroke="#cf8c56" stroke-width="1.5"/>
<path d="M605.4,677.5L613.5,677.5" stroke="#cdbd44" stroke-width="1.3"/>
<path d="M613.5,677.5L621.7,677.5" stroke="#cf8c56" stroke-width="1.3"/>
<path d="M605.4,724.2L613.5,724.4" stroke="#cdbd44" stroke-width="1.5"/>
<path d="M613.5,724.4L621.7,724.6" stroke="#cf8c56" stroke-width="1.5"/>
<path d="M605.5,769.7L613.6,770.5" stroke="#cdbd44" stroke-width="1.7"/>
<path d="M613.6,770.5L621.6,771.2" stroke="#cf8c56" stroke-width="1.7"/>
<path d="M605.3,818.9L613.6,820.2" stroke="#cdbd44" stroke-width="2.0"/>
<path d="M613.6,820.2L621.8,821.4" stroke="#cf8c56" stroke-width="2.0"/>
<path d="M637.7,561.2L646.2,560.0" stroke="#7c9fca" stroke-width="1.9"/>
<path d="M646.2,560.0L654.6,558.8" stroke="#80bac2" stroke-width="1.9"/>
<path d="M637.6,607.9L645.9,607.5" stroke="#cdbd44" stroke-width="1.6"/>
<path d="M645.9,607.5L654.2,607.1" stroke="#cf8c56" stroke-width="1.6"/>
<path d="M637.8,654.1L646.1,654.0" stroke="#cdbd44" stroke-width="1.4"/>
<path d="M646.1,654.0L654.3,653.9" stroke="#cf8c56" stroke-width="1.4"/>
<path d="M637.8,700.9L646.1,701.0" stroke="#cdbd44" stroke-width="1.4"/>
<path d="M646.1,701.0L654.3,701.1" stroke="#cf8c56" stroke-width="1.4"/>
<path d="M637.6,747.1L645.9,747.5" stroke="#cdbd44" stroke-width="1.6"/>
<path d="M645.9,747.5L654.2,747.9" stroke="#cf8c56" stroke-width="1.6"/>
<path d="M637.7,793.8L646.2,795.0" stroke="#cdbd44" stroke-width="1.9"/>
<path d="M646.2,795.0L654.6,796.2" stroke="#cf8c56" stroke-width="1.9"/>
<path d="M671.1,535.1L680.1,533.5" stroke="#7c9fca" stroke-width="2.0"/>
<path d="M680.1,533.5L689.1,532.0" stroke="#80bac2" stroke-width="2.0"/>
<path d="M669.6,585.0L678.5,583.9" stroke="#cdbd44" stroke-width="1.8"/>
<path d="M678.5,583.9L687.3,582.8" stroke="#cf8c56" stroke-width="1.8"/>
<path d="M669.8,631.1L678.2,630.9" stroke="#cdbd44" stroke-width="1.6"/>
<path d="M678.2,630.9L686.7,630.6" stroke="#cf8c56" stroke-width="1.6"/>
<path d="M670.0,677.5L678.4,677.5" stroke="#cdbd44" stroke-width="1.5"/>
<path d="M678.4,677.5L686.8,677.5" stroke="#cf8c56" stroke-width="1.5"/>
<path d="M669.8,723.9L678.2,724.1" stroke="#cdbd44" stroke-width="1.6"/>
<path d="M678.2,724.1L686.7,724.4" stroke="#cf8c56" stroke-width="1.6"/>
<path d="M669.6,770.0L678.5,771.1" stroke="#cdbd44" stroke-width="1.8"/>
<path d="M678.5,771.1L687.3,772.2" stroke="#cf8c56" stroke-width="1.8"/>
<path d="M671.1,819.9L680.1,821.5" stroke="#cdbd44" stroke-width="2.0"/>
<path d="M680.1,821.5L689.1,823.0" stroke="#cf8c56" stroke-width="2.0"/>
<path d="M703.8,559.1L713.3,557.7" stroke="#7c9fca" stroke-width="2.0"/>
<path d="M713.3,557.7L722.8,556.3" stroke="#80bac2" stroke-width="2.0"/>
<path d="M701.9,607.9L711.3,607.0" stroke="#cdbd44" stroke-width="1.8"/>
<path d="M711.3,607.0L720.7,606.1" stroke="#cf8c56" stroke-width="1.8"/>
<path d="M701.4,654.4L710.4,654.2" stroke="#cdbd44" stroke-width="1.7"/>
<path d="M710.4,654.2L719.5,654.0" stroke="#cf8c56" stroke-width="1.7"/>
<path d="M701.4,700.6L710.4,700.8" stroke="#cdbd44" stroke-width="1.7"/>
<path d="M710.4,700.8L719.5,701.0" stroke="#cf8c56" stroke-width="1.7"/>
<path d="M701.9,747.1L711.3,748.0" stroke="#cdbd44" stroke-width="1.8"/>
<path d="M711.3,748.0L720.7,748.9" stroke="#cf8c56" stroke-width="1.8"/>
<path d="M703.8,795.9L713.3,797.3" stroke="#cdbd44" stroke-width="2.0"/>
<path d="M713.3,797.3L722.8,798.7" stroke="#cf8c56" stroke-width="2.0"/>
<circle cx="453.8" cy="556.3" r="5.4" fill="url(#ac6)"/>
<circle cx="453.8" cy="604.8" r="5.5" fill="url(#ao6)"/>
<circle cx="453.8" cy="653.3" r="5.5" fill="url(#ao6)"/>
<circle cx="453.8" cy="701.7" r="5.5" fill="url(#ao6)"/>
<circle cx="453.8" cy="750.2" r="5.5" fill="url(#ao6)"/>
<circle cx="453.8" cy="798.7" r="5.5" fill="url(#ao6)"/>
<circle cx="487.4" cy="532.0" r="5.4" fill="url(#ac6)"/>
<circle cx="487.6" cy="580.6" r="5.5" fill="url(#ao6)"/>
<circle cx="489.4" cy="629.8" r="5.4" fill="url(#ao6)"/>
<circle cx="490.1" cy="677.5" r="5.4" fill="url(#ao6)"/>
<circle cx="489.4" cy="725.2" r="5.4" fill="url(#ao6)"/>
<circle cx="487.6" cy="774.4" r="5.5" fill="url(#ao6)"/>
<circle cx="487.4" cy="823.0" r="5.5" fill="url(#ao6)"/>
<circle cx="521.6" cy="557.0" r="5.4" fill="url(#ac6)"/>
<circle cx="523.5" cy="606.7" r="5.4" fill="url(#ao6)"/>
<circle cx="524.2" cy="654.1" r="5.3" fill="url(#ao6)"/>
<circle cx="524.2" cy="700.9" r="5.3" fill="url(#ao6)"/>
<circle cx="523.5" cy="748.3" r="5.4" fill="url(#ao6)"/>
<circle cx="521.6" cy="798.0" r="5.5" fill="url(#ao6)"/>
<circle cx="554.9" cy="532.5" r="5.4" fill="url(#ac6)"/>
<circle cx="556.4" cy="583.4" r="5.3" fill="url(#ao6)"/>
<circle cx="556.5" cy="630.5" r="5.3" fill="url(#ao6)"/>
<circle cx="556.4" cy="677.5" r="5.3" fill="url(#ao6)"/>
<circle cx="556.5" cy="724.5" r="5.3" fill="url(#ao6)"/>
<circle cx="556.4" cy="771.6" r="5.3" fill="url(#ao6)"/>
<circle cx="554.9" cy="822.5" r="5.5" fill="url(#ao6)"/>
<circle cx="588.9" cy="559.2" r="5.3" fill="url(#ac6)"/>
<circle cx="589.1" cy="607.0" r="5.3" fill="url(#ao6)"/>
<circle cx="589.0" cy="653.9" r="5.4" fill="url(#ao6)"/>
<circle cx="589.0" cy="701.1" r="5.4" fill="url(#ao6)"/>
<circle cx="589.1" cy="748.0" r="5.3" fill="url(#ao6)"/>
<circle cx="588.9" cy="795.8" r="5.4" fill="url(#ao6)"/>
<circle cx="621.8" cy="533.6" r="5.4" fill="url(#ac6)"/>
<circle cx="621.6" cy="583.8" r="5.3" fill="url(#ao6)"/>
<circle cx="621.7" cy="630.4" r="5.4" fill="url(#ao6)"/>
<circle cx="621.7" cy="677.5" r="5.4" fill="url(#ao6)"/>
<circle cx="621.7" cy="724.6" r="5.4" fill="url(#ao6)"/>
<circle cx="621.6" cy="771.2" r="5.3" fill="url(#ao6)"/>
<circle cx="621.8" cy="821.4" r="5.4" fill="url(#ao6)"/>
<circle cx="654.6" cy="558.8" r="5.3" fill="url(#ac6)"/>
<circle cx="654.2" cy="607.1" r="5.3" fill="url(#ao6)"/>
<circle cx="654.3" cy="653.9" r="5.4" fill="url(#ao6)"/>
<circle cx="654.3" cy="701.1" r="5.4" fill="url(#ao6)"/>
<circle cx="654.2" cy="747.9" r="5.3" fill="url(#ao6)"/>
<circle cx="654.6" cy="796.2" r="5.4" fill="url(#ao6)"/>
<circle cx="689.1" cy="532.0" r="5.4" fill="url(#ac6)"/>
<circle cx="687.3" cy="582.8" r="5.4" fill="url(#ao6)"/>
<circle cx="686.7" cy="630.6" r="5.3" fill="url(#ao6)"/>
<circle cx="686.8" cy="677.5" r="5.3" fill="url(#ao6)"/>
<circle cx="686.7" cy="724.4" r="5.3" fill="url(#ao6)"/>
<circle cx="687.3" cy="772.2" r="5.4" fill="url(#ao6)"/>
<circle cx="689.1" cy="823.0" r="5.5" fill="url(#ao6)"/>
<circle cx="722.8" cy="556.3" r="5.4" fill="url(#ac6)"/>
<circle cx="720.7" cy="606.1" r="5.4" fill="url(#ao6)"/>
<circle cx="719.5" cy="654.0" r="5.3" fill="url(#ao6)"/>
<circle cx="719.5" cy="701.0" r="5.3" fill="url(#ao6)"/>
<circle cx="720.7" cy="748.9" r="5.4" fill="url(#ao6)"/>
<circle cx="722.8" cy="798.7" r="5.5" fill="url(#ao6)"/>
<path d="M434.1,554.3L443.9,555.3" stroke="#7c9fca" stroke-width="2.1"/>
<path d="M443.9,555.3L453.8,556.3" stroke="#80bac2" stroke-width="2.1"/>
<path d="M434.1,603.6L443.9,604.2" stroke="#cdbd44" stroke-width="2.1"/>
<path d="M443.9,604.2L453.8,604.8" stroke="#cf8c56" stroke-width="2.1"/>
<path d="M434.1,652.9L443.9,653.1" stroke="#cdbd44" stroke-width="2.1"/>
<path d="M443.9,653.1L453.8,653.3" stroke="#cf8c56" stroke-width="2.1"/>
<path d="M434.1,702.1L443.9,701.9" stroke="#cdbd44" stroke-width="2.1"/>
<path d="M443.9,701.9L453.8,701.7" stroke="#cf8c56" stroke-width="2.1"/>
<path d="M434.1,751.4L443.9,750.8" stroke="#cdbd44" stroke-width="2.1"/>
<path d="M443.9,750.8L453.8,750.2" stroke="#cf8c56" stroke-width="2.1"/>
<path d="M434.1,800.7L443.9,799.7" stroke="#cdbd44" stroke-width="2.1"/>
<path d="M443.9,799.7L453.8,798.7" stroke="#cf8c56" stroke-width="2.1"/>
<path d="M468.3,529.6L477.8,530.8" stroke="#7c9fca" stroke-width="2.1"/>
<path d="M477.8,530.8L487.4,532.0" stroke="#80bac2" stroke-width="2.1"/>
<path d="M468.3,578.9L477.9,579.8" stroke="#cdbd44" stroke-width="2.1"/>
<path d="M477.9,579.8L487.6,580.6" stroke="#cf8c56" stroke-width="2.1"/>
<path d="M468.9,628.4L479.2,629.1" stroke="#cdbd44" stroke-width="2.1"/>
<path d="M479.2,629.1L489.4,629.8" stroke="#cf8c56" stroke-width="2.1"/>
<path d="M469.6,677.5L479.9,677.5" stroke="#cdbd44" stroke-width="2.1"/>
<path d="M479.9,677.5L490.1,677.5" stroke="#cf8c56" stroke-width="2.1"/>
<path d="M468.9,726.6L479.2,725.9" stroke="#cdbd44" stroke-width="2.1"/>
<path d="M479.2,725.9L489.4,725.2" stroke="#cf8c56" stroke-width="2.1"/>
<path d="M468.3,776.1L477.9,775.2" stroke="#cdbd44" stroke-width="2.1"/>
<path d="M477.9,775.2L487.6,774.4" stroke="#cf8c56" stroke-width="2.1"/>
<path d="M468.3,825.4L477.8,824.2" stroke="#cdbd44" stroke-width="2.1"/>
<path d="M477.8,824.2L487.4,823.0" stroke="#cf8c56" stroke-width="2.1"/>
<path d="M502.4,554.3L512.0,555.6" stroke="#7c9fca" stroke-width="2.1"/>
<path d="M512.0,555.6L521.6,557.0" stroke="#80bac2" stroke-width="2.1"/>
<path d="M504.3,604.8L513.9,605.8" stroke="#cdbd44" stroke-width="2.0"/>
<path d="M513.9,605.8L523.5,606.7" stroke="#cf8c56" stroke-width="2.0"/>
<path d="M505.6,653.6L514.9,653.8" stroke="#cdbd44" stroke-width="1.9"/>
<path d="M514.9,653.8L524.2,654.1" stroke="#cf8c56" stroke-width="1.9"/>
<path d="M505.6,701.4L514.9,701.2" stroke="#cdbd44" stroke-width="1.9"/>
<path d="M514.9,701.2L524.2,700.9" stroke="#cf8c56" stroke-width="1.9"/>
<path d="M504.3,750.2L513.9,749.2" stroke="#cdbd44" stroke-width="2.0"/>
<path d="M513.9,749.2L523.5,748.3" stroke="#cf8c56" stroke-width="2.0"/>
<path d="M502.4,800.7L512.0,799.4" stroke="#cdbd44" stroke-width="2.1"/>
<path d="M512.0,799.4L521.6,798.0" stroke="#cf8c56" stroke-width="2.1"/>
<path d="M536.6,529.6L545.7,531.1" stroke="#7c9fca" stroke-width="2.1"/>
<path d="M545.7,531.1L554.9,532.5" stroke="#80bac2" stroke-width="2.1"/>
<path d="M538.4,581.2L547.4,582.3" stroke="#cdbd44" stroke-width="2.0"/>
<path d="M547.4,582.3L556.4,583.4" stroke="#cf8c56" stroke-width="2.0"/>
<path d="M539.2,629.9L547.8,630.2" stroke="#cdbd44" stroke-width="1.8"/>
<path d="M547.8,630.2L556.5,630.5" stroke="#cf8c56" stroke-width="1.8"/>
<path d="M539.2,677.5L547.8,677.5" stroke="#cdbd44" stroke-width="1.7"/>
<path d="M547.8,677.5L556.4,677.5" stroke="#cf8c56" stroke-width="1.7"/>
<path d="M539.2,725.1L547.8,724.8" stroke="#cdbd44" stroke-width="1.8"/>
<path d="M547.8,724.8L556.5,724.5" stroke="#cf8c56" stroke-width="1.8"/>
<path d="M538.4,773.8L547.4,772.7" stroke="#cdbd44" stroke-width="2.0"/>
<path d="M547.4,772.7L556.4,771.6" stroke="#cf8c56" stroke-width="2.0"/>
<path d="M536.6,825.4L545.7,823.9" stroke="#cdbd44" stroke-width="2.1"/>
<path d="M545.7,823.9L554.9,822.5" stroke="#cf8c56" stroke-width="2.1"/>
<path d="M571.6,556.7L580.3,557.9" stroke="#7c9fca" stroke-width="2.0"/>
<path d="M580.3,557.9L588.9,559.2" stroke="#80bac2" stroke-width="2.0"/>
<path d="M572.2,606.0L580.6,606.5" stroke="#cdbd44" stroke-width="1.7"/>
<path d="M580.6,606.5L589.1,607.0" stroke="#cf8c56" stroke-width="1.7"/>
<path d="M572.3,653.7L580.6,653.8" stroke="#cdbd44" stroke-width="1.5"/>
<path d="M580.6,653.8L589.0,653.9" stroke="#cf8c56" stroke-width="1.5"/>
<path d="M572.3,701.3L580.6,701.2" stroke="#cdbd44" stroke-width="1.5"/>
<path d="M580.6,701.2L589.0,701.1" stroke="#cf8c56" stroke-width="1.5"/>
<path d="M572.2,749.0L580.6,748.5" stroke="#cdbd44" stroke-width="1.7"/>
<path d="M580.6,748.5L589.1,748.0" stroke="#cf8c56" stroke-width="1.7"/>
<path d="M571.6,798.3L580.3,797.1" stroke="#cdbd44" stroke-width="2.0"/>
<path d="M580.3,797.1L588.9,795.8" stroke="#cf8c56" stroke-width="2.0"/>
<path d="M605.0,531.0L613.4,532.3" stroke="#7c9fca" stroke-width="2.1"/>
<path d="M613.4,532.3L621.8,533.6" stroke="#80bac2" stroke-width="2.1"/>
<path d="M605.2,582.2L613.4,583.0" stroke="#cdbd44" stroke-width="1.8"/>
<path d="M613.4,583.0L621.6,583.8" stroke="#cf8c56" stroke-width="1.8"/>
<path d="M605.3,629.9L613.5,630.1" stroke="#cdbd44" stroke-width="1.5"/>
<path d="M613.5,630.1L621.7,630.4" stroke="#cf8c56" stroke-width="1.5"/>
<path d="M605.3,677.5L613.5,677.5" stroke="#cdbd44" stroke-width="1.3"/>
<path d="M613.5,677.5L621.7,677.5" stroke="#cf8c56" stroke-width="1.3"/>
<path d="M605.3,725.1L613.5,724.9" stroke="#cdbd44" stroke-width="1.5"/>
<path d="M613.5,724.9L621.7,724.6" stroke="#cf8c56" stroke-width="1.5"/>
<path d="M605.2,772.8L613.4,772.0" stroke="#cdbd44" stroke-width="1.8"/>
<path d="M613.4,772.0L621.6,771.2" stroke="#cf8c56" stroke-width="1.8"/>
<path d="M605.0,824.0L613.4,822.7" stroke="#cdbd44" stroke-width="2.1"/>
<path d="M613.4,822.7L621.8,821.4" stroke="#cf8c56" stroke-width="2.1"/>
<path d="M638.5,557.1L646.6,558.0" stroke="#7c9fca" stroke-width="2.0"/>
<path d="M646.6,558.0L654.6,558.8" stroke="#80bac2" stroke-width="2.0"/>
<path d="M638.3,606.0L646.2,606.6" stroke="#cdbd44" stroke-width="1.7"/>
<path d="M646.2,606.6L654.2,607.1" stroke="#cf8c56" stroke-width="1.7"/>
<path d="M638.2,653.7L646.3,653.8" stroke="#cdbd44" stroke-width="1.5"/>
<path d="M646.3,653.8L654.3,653.9" stroke="#cf8c56" stroke-width="1.5"/>
<path d="M638.2,701.3L646.3,701.2" stroke="#cdbd44" stroke-width="1.5"/>
<path d="M646.3,701.2L654.3,701.1" stroke="#cf8c56" stroke-width="1.5"/>
<path d="M638.3,749.0L646.2,748.4" stroke="#cdbd44" stroke-width="1.7"/>
<path d="M646.2,748.4L654.2,747.9" stroke="#cf8c56" stroke-width="1.7"/>
<path d="M638.5,797.9L646.6,797.0" stroke="#cdbd44" stroke-width="2.0"/>
<path d="M646.6,797.0L654.6,796.2" stroke="#cf8c56" stroke-width="2.0"/>
<path d="M673.2,529.9L681.2,531.0" stroke="#7c9fca" stroke-width="2.1"/>
<path d="M681.2,531.0L689.1,532.0" stroke="#80bac2" stroke-width="2.1"/>
<path d="M671.6,581.8L679.4,582.3" stroke="#cdbd44" stroke-width="1.9"/>
<path d="M679.4,582.3L687.3,582.8" stroke="#cf8c56" stroke-width="1.9"/>
<path d="M671.3,629.9L679.0,630.2" stroke="#cdbd44" stroke-width="1.7"/>
<path d="M679.0,630.2L686.7,630.6" stroke="#cf8c56" stroke-width="1.7"/>
<path d="M671.3,677.5L679.0,677.5" stroke="#cdbd44" stroke-width="1.6"/>
<path d="M679.0,677.5L686.8,677.5" stroke="#cf8c56" stroke-width="1.6"/>
<path d="M671.3,725.1L679.0,724.8" stroke="#cdbd44" stroke-width="1.7"/>
<path d="M679.0,724.8L686.7,724.4" stroke="#cf8c56" stroke-width="1.7"/>
<path d="M671.6,773.2L679.4,772.7" stroke="#cdbd44" stroke-width="1.9"/>
<path d="M679.4,772.7L687.3,772.2" stroke="#cf8c56" stroke-width="1.9"/>
<path d="M673.2,825.1L681.2,824.0" stroke="#cdbd44" stroke-width="2.1"/>
<path d="M681.2,824.0L689.1,823.0" stroke="#cf8c56" stroke-width="2.1"/>
<path d="M707.1,554.8L714.9,555.5" stroke="#7c9fca" stroke-width="2.1"/>
<path d="M714.9,555.5L722.8,556.3" stroke="#80bac2" stroke-width="2.1"/>
<path d="M705.1,605.5L712.9,605.8" stroke="#cdbd44" stroke-width="1.9"/>
<path d="M712.9,605.8L720.7,606.1" stroke="#cf8c56" stroke-width="1.9"/>
<path d="M704.3,653.7L711.9,653.8" stroke="#cdbd44" stroke-width="1.8"/>
<path d="M711.9,653.8L719.5,654.0" stroke="#cf8c56" stroke-width="1.8"/>
<path d="M704.3,701.3L711.9,701.2" stroke="#cdbd44" stroke-width="1.8"/>
<path d="M711.9,701.2L719.5,701.0" stroke="#cf8c56" stroke-width="1.8"/>
<path d="M705.1,749.5L712.9,749.2" stroke="#cdbd44" stroke-width="1.9"/>
<path d="M712.9,749.2L720.7,748.9" stroke="#cf8c56" stroke-width="1.9"/>
<path d="M707.1,800.2L714.9,799.5" stroke="#cdbd44" stroke-width="2.1"/>
<path d="M714.9,799.5L722.8,798.7" stroke="#cf8c56" stroke-width="2.1"/>
<path d="M468.3,529.6L458.4,540.9" stroke="#7c9fca" stroke-width="2.1"/>
<path d="M458.4,540.9L448.4,552.2" stroke="#80bac2" stroke-width="2.1"/>
<path d="M468.3,578.9L458.4,565.5" stroke="#cdbd44" stroke-width="2.1"/>
<path d="M458.4,565.5L448.4,552.2" stroke="#80bac2" stroke-width="2.1"/>
<path d="M468.3,578.9L458.4,590.6" stroke="#cdbd44" stroke-width="2.1"/>
<path d="M458.4,590.6L448.4,602.3" stroke="#cf8c56" stroke-width="2.1"/>
<path d="M468.9,628.4L458.7,615.4" stroke="#cdbd44" stroke-width="2.1"/>
<path d="M458.7,615.4L448.4,602.3" stroke="#cf8c56" stroke-width="2.1"/>
<path d="M468.9,628.4L458.7,640.4" stroke="#cdbd44" stroke-width="2.1"/>
<path d="M458.7,640.4L448.4,652.4" stroke="#cf8c56" stroke-width="2.1"/>
<path d="M469.6,677.5L459.0,665.0" stroke="#cdbd44" stroke-width="2.1"/>
<path d="M459.0,665.0L448.4,652.4" stroke="#cf8c56" stroke-width="2.1"/>
<path d="M469.6,677.5L459.0,690.0" stroke="#cdbd44" stroke-width="2.1"/>
<path d="M459.0,690.0L448.4,702.6" stroke="#cf8c56" stroke-width="2.1"/>
<path d="M468.9,726.6L458.7,714.6" stroke="#cdbd44" stroke-width="2.1"/>
<path d="M458.7,714.6L448.4,702.6" stroke="#cf8c56" stroke-width="2.1"/>
<path d="M468.9,726.6L458.7,739.6" stroke="#cdbd44" stroke-width="2.1"/>
<path d="M458.7,739.6L448.4,752.7" stroke="#cf8c56" stroke-width="2.1"/>
<path d="M468.3,776.1L458.4,764.4" stroke="#cdbd44" stroke-width="2.1"/>
<path d="M458.4,764.4L448.4,752.7" stroke="#cf8c56" stroke-width="2.1"/>
<path d="M468.3,776.1L458.4,789.5" stroke="#cdbd44" stroke-width="2.1"/>
<path d="M458.4,789.5L448.4,802.8" stroke="#cf8c56" stroke-width="2.1"/>
<path d="M468.3,825.4L458.4,814.1" stroke="#cdbd44" stroke-width="2.1"/>
<path d="M458.4,814.1L448.4,802.8" stroke="#cf8c56" stroke-width="2.1"/>
<path d="M468.3,825.4L458.4,839.2" stroke="#cdbd44" stroke-width="2.1"/>
<path d="M458.4,839.2L448.4,852.9" stroke="#cf8c56" stroke-width="2.1"/>
<path d="M502.4,554.3L492.8,540.7" stroke="#7c9fca" stroke-width="2.1"/>
<path d="M492.8,540.7L483.2,527.1" stroke="#80bac2" stroke-width="2.1"/>
<path d="M502.4,554.3L492.8,565.8" stroke="#7c9fca" stroke-width="2.1"/>
<path d="M492.8,565.8L483.2,577.3" stroke="#cf8c56" stroke-width="2.1"/>
<path d="M504.3,604.8L493.8,591.0" stroke="#cdbd44" stroke-width="2.0"/>
<path d="M493.8,591.0L483.2,577.3" stroke="#cf8c56" stroke-width="2.0"/>
<path d="M504.3,604.8L494.6,616.4" stroke="#cdbd44" stroke-width="2.0"/>
<path d="M494.6,616.4L484.9,628.0" stroke="#cf8c56" stroke-width="2.0"/>
<path d="M505.6,653.6L495.3,640.8" stroke="#cdbd44" stroke-width="1.9"/>
<path d="M495.3,640.8L484.9,628.0" stroke="#cf8c56" stroke-width="1.9"/>
<path d="M505.6,653.6L495.6,665.5" stroke="#cdbd44" stroke-width="1.9"/>
<path d="M495.6,665.5L485.6,677.5" stroke="#cf8c56" stroke-width="1.9"/>
<path d="M505.6,701.4L495.6,689.5" stroke="#cdbd44" stroke-width="1.9"/>
<path d="M495.6,689.5L485.6,677.5" stroke="#cf8c56" stroke-width="1.9"/>
<path d="M505.6,701.4L495.3,714.2" stroke="#cdbd44" stroke-width="1.9"/>
<path d="M495.3,714.2L484.9,727.0" stroke="#cf8c56" stroke-width="1.9"/>
<path d="M504.3,750.2L494.6,738.6" stroke="#cdbd44" stroke-width="2.0"/>
<path d="M494.6,738.6L484.9,727.0" stroke="#cf8c56" stroke-width="2.0"/>
<path d="M504.3,750.2L493.8,764.0" stroke="#cdbd44" stroke-width="2.0"/>
<path d="M493.8,764.0L483.2,777.7" stroke="#cf8c56" stroke-width="2.0"/>
<path d="M502.4,800.7L492.8,789.2" stroke="#cdbd44" stroke-width="2.1"/>
<path d="M492.8,789.2L483.2,777.7" stroke="#cf8c56" stroke-width="2.1"/>
<path d="M502.4,800.7L492.8,814.3" stroke="#cdbd44" stroke-width="2.1"/>
<path d="M492.8,814.3L483.2,827.9" stroke="#cf8c56" stroke-width="2.1"/>
<path d="M502.4,850.0L492.8,839.0" stroke="#cdbd44" stroke-width="2.1"/>
<path d="M492.8,839.0L483.2,827.9" stroke="#cf8c56" stroke-width="2.1"/>
<path d="M536.6,529.6L527.4,541.1" stroke="#7c9fca" stroke-width="2.1"/>
<path d="M527.4,541.1L518.2,552.5" stroke="#80bac2" stroke-width="2.1"/>
<path d="M538.4,581.2L528.3,566.8" stroke="#cdbd44" stroke-width="2.0"/>
<path d="M528.3,566.8L518.2,552.5" stroke="#80bac2" stroke-width="2.0"/>
<path d="M538.4,581.2L529.3,592.7" stroke="#cdbd44" stroke-width="2.0"/>
<path d="M529.3,592.7L520.3,604.2" stroke="#cf8c56" stroke-width="2.0"/>
<path d="M539.2,629.9L529.7,617.0" stroke="#cdbd44" stroke-width="1.8"/>
<path d="M529.7,617.0L520.3,604.2" stroke="#cf8c56" stroke-width="1.8"/>
<path d="M539.2,629.9L530.2,641.6" stroke="#cdbd44" stroke-width="1.8"/>
<path d="M530.2,641.6L521.2,653.3" stroke="#cf8c56" stroke-width="1.8"/>
<path d="M539.2,677.5L530.2,665.4" stroke="#cdbd44" stroke-width="1.7"/>
<path d="M530.2,665.4L521.2,653.3" stroke="#cf8c56" stroke-width="1.7"/>
<path d="M539.2,677.5L530.2,689.6" stroke="#cdbd44" stroke-width="1.7"/>
<path d="M530.2,689.6L521.2,701.7" stroke="#cf8c56" stroke-width="1.7"/>
<path d="M539.2,725.1L530.2,713.4" stroke="#cdbd44" stroke-width="1.8"/>
<path d="M530.2,713.4L521.2,701.7" stroke="#cf8c56" stroke-width="1.8"/>
<path d="M539.2,725.1L529.7,738.0" stroke="#cdbd44" stroke-width="1.8"/>
<path d="M529.7,738.0L520.3,750.8" stroke="#cf8c56" stroke-width="1.8"/>
<path d="M538.4,773.8L529.3,762.3" stroke="#cdbd44" stroke-width="2.0"/>
<path d="M529.3,762.3L520.3,750.8" stroke="#cf8c56" stroke-width="2.0"/>
<path d="M538.4,773.8L528.3,788.2" stroke="#cdbd44" stroke-width="2.0"/>
<path d="M528.3,788.2L518.2,802.5" stroke="#cf8c56" stroke-width="2.0"/>
<path d="M536.6,825.4L527.4,813.9" stroke="#cdbd44" stroke-width="2.1"/>
<path d="M527.4,813.9L518.2,802.5" stroke="#cf8c56" stroke-width="2.1"/>
<path d="M536.6,825.4L527.3,839.2" stroke="#cdbd44" stroke-width="2.1"/>
<path d="M527.3,839.2L517.9,852.9" stroke="#cf8c56" stroke-width="2.1"/>
<path d="M571.6,556.7L562.2,541.9" stroke="#7c9fca" stroke-width="2.0"/>
<path d="M562.2,541.9L552.7,527.2" stroke="#80bac2" stroke-width="2.0"/>
<path d="M571.6,556.7L563.0,568.4" stroke="#7c9fca" stroke-width="2.0"/>
<path d="M563.0,568.4L554.4,580.0" stroke="#cf8c56" stroke-width="2.0"/>
<path d="M572.2,606.0L563.3,593.0" stroke="#cdbd44" stroke-width="1.7"/>
<path d="M563.3,593.0L554.4,580.0" stroke="#cf8c56" stroke-width="1.7"/>
<path d="M572.2,606.0L563.6,617.6" stroke="#cdbd44" stroke-width="1.7"/>
<path d="M563.6,617.6L554.9,629.2" stroke="#cf8c56" stroke-width="1.7"/>
<path d="M572.3,653.7L563.6,641.5" stroke="#cdbd44" stroke-width="1.5"/>
<path d="M563.6,641.5L554.9,629.2" stroke="#cf8c56" stroke-width="1.5"/>
<path d="M572.3,653.7L563.7,665.6" stroke="#cdbd44" stroke-width="1.5"/>
<path d="M563.7,665.6L555.1,677.5" stroke="#cf8c56" stroke-width="1.5"/>
<path d="M572.3,701.3L563.7,689.4" stroke="#cdbd44" stroke-width="1.5"/>
<path d="M563.7,689.4L555.1,677.5" stroke="#cf8c56" stroke-width="1.5"/>
<path d="M572.3,701.3L563.6,713.5" stroke="#cdbd44" stroke-width="1.5"/>
<path d="M563.6,713.5L554.9,725.8" stroke="#cf8c56" stroke-width="1.5"/>
<path d="M572.2,749.0L563.6,737.4" stroke="#cdbd44" stroke-width="1.7"/>
<path d="M563.6,737.4L554.9,725.8" stroke="#cf8c56" stroke-width="1.7"/>
<path d="M572.2,749.0L563.3,762.0" stroke="#cdbd44" stroke-width="1.7"/>
<path d="M563.3,762.0L554.4,775.0" stroke="#cf8c56" stroke-width="1.7"/>
<path d="M571.6,798.3L563.0,786.6" stroke="#cdbd44" stroke-width="2.0"/>
<path d="M563.0,786.6L554.4,775.0" stroke="#cf8c56" stroke-width="2.0"/>
<path d="M571.6,798.3L562.2,813.1" stroke="#cdbd44" stroke-width="2.0"/>
<path d="M562.2,813.1L552.7,827.8" stroke="#cf8c56" stroke-width="2.0"/>
<path d="M570.8,850.0L561.7,838.9" stroke="#cdbd44" stroke-width="2.1"/>
<path d="M561.7,838.9L552.7,827.8" stroke="#cf8c56" stroke-width="2.1"/>
<path d="M605.0,531.0L596.5,542.9" stroke="#7c9fca" stroke-width="2.1"/>
<path d="M596.5,542.9L588.0,554.9" stroke="#80bac2" stroke-width="2.1"/>
<path d="M605.2,582.2L596.6,568.6" stroke="#cdbd44" stroke-width="1.8"/>
<path d="M596.6,568.6L588.0,554.9" stroke="#80bac2" stroke-width="1.8"/>
<path d="M605.2,582.2L596.8,593.7" stroke="#cdbd44" stroke-width="1.8"/>
<path d="M596.8,593.7L588.4,605.1" stroke="#cf8c56" stroke-width="1.8"/>
<path d="M605.3,629.9L596.8,617.5" stroke="#cdbd44" stroke-width="1.5"/>
<path d="M596.8,617.5L588.4,605.1" stroke="#cf8c56" stroke-width="1.5"/>
<path d="M605.3,629.9L596.9,641.7" stroke="#cdbd44" stroke-width="1.5"/>
<path d="M596.9,641.7L588.6,653.5" stroke="#cf8c56" stroke-width="1.5"/>
<path d="M605.3,677.5L596.9,665.5" stroke="#cdbd44" stroke-width="1.3"/>
<path d="M596.9,665.5L588.6,653.5" stroke="#cf8c56" stroke-width="1.3"/>
<path d="M605.3,677.5L596.9,689.5" stroke="#cdbd44" stroke-width="1.3"/>
<path d="M596.9,689.5L588.6,701.5" stroke="#cf8c56" stroke-width="1.3"/>
<path d="M605.3,725.1L596.9,713.3" stroke="#cdbd44" stroke-width="1.5"/>
<path d="M596.9,713.3L588.6,701.5" stroke="#cf8c56" stroke-width="1.5"/>
<path d="M605.3,725.1L596.8,737.5" stroke="#cdbd44" stroke-width="1.5"/>
<path d="M596.8,737.5L588.4,749.9" stroke="#cf8c56" stroke-width="1.5"/>
<path d="M605.2,772.8L596.8,761.3" stroke="#cdbd44" stroke-width="1.8"/>
<path d="M596.8,761.3L588.4,749.9" stroke="#cf8c56" stroke-width="1.8"/>
<path d="M605.2,772.8L596.6,786.4" stroke="#cdbd44" stroke-width="1.8"/>
<path d="M596.6,786.4L588.0,800.1" stroke="#cf8c56" stroke-width="1.8"/>
<path d="M605.0,824.0L596.5,812.1" stroke="#cdbd44" stroke-width="2.1"/>
<path d="M596.5,812.1L588.0,800.1" stroke="#cf8c56" stroke-width="2.1"/>
<path d="M605.0,824.0L596.2,838.5" stroke="#cdbd44" stroke-width="2.1"/>
<path d="M596.2,838.5L587.4,852.9" stroke="#cf8c56" stroke-width="2.1"/>
<path d="M638.5,557.1L630.3,542.7" stroke="#7c9fca" stroke-width="2.0"/>
<path d="M630.3,542.7L622.1,528.3" stroke="#80bac2" stroke-width="2.0"/>
<path d="M638.5,557.1L630.2,568.9" stroke="#7c9fca" stroke-width="2.0"/>
<path d="M630.2,568.9L621.9,580.6" stroke="#cf8c56" stroke-width="2.0"/>
<path d="M638.3,606.0L630.1,593.3" stroke="#cdbd44" stroke-width="1.7"/>
<path d="M630.1,593.3L621.9,580.6" stroke="#cf8c56" stroke-width="1.7"/>
<path d="M638.3,606.0L630.0,617.7" stroke="#cdbd44" stroke-width="1.7"/>
<path d="M630.0,617.7L621.8,629.4" stroke="#cf8c56" stroke-width="1.7"/>
<path d="M638.2,653.7L630.0,641.6" stroke="#cdbd44" stroke-width="1.5"/>
<path d="M630.0,641.6L621.8,629.4" stroke="#cf8c56" stroke-width="1.5"/>
<path d="M638.2,653.7L630.0,665.6" stroke="#cdbd44" stroke-width="1.5"/>
<path d="M630.0,665.6L621.8,677.5" stroke="#cf8c56" stroke-width="1.5"/>
<path d="M638.2,701.3L630.0,689.4" stroke="#cdbd44" stroke-width="1.5"/>
<path d="M630.0,689.4L621.8,677.5" stroke="#cf8c56" stroke-width="1.5"/>
<path d="M638.2,701.3L630.0,713.4" stroke="#cdbd44" stroke-width="1.5"/>
<path d="M630.0,713.4L621.8,725.6" stroke="#cf8c56" stroke-width="1.5"/>
<path d="M638.3,749.0L630.0,737.3" stroke="#cdbd44" stroke-width="1.7"/>
<path d="M630.0,737.3L621.8,725.6" stroke="#cf8c56" stroke-width="1.7"/>
<path d="M638.3,749.0L630.1,761.7" stroke="#cdbd44" stroke-width="1.7"/>
<path d="M630.1,761.7L621.9,774.4" stroke="#cf8c56" stroke-width="1.7"/>
<path d="M638.5,797.9L630.2,786.1" stroke="#cdbd44" stroke-width="2.0"/>
<path d="M630.2,786.1L621.9,774.4" stroke="#cf8c56" stroke-width="2.0"/>
<path d="M638.5,797.9L630.3,812.3" stroke="#cdbd44" stroke-width="2.0"/>
<path d="M630.3,812.3L622.1,826.7" stroke="#cf8c56" stroke-width="2.0"/>
<path d="M639.1,850.0L630.6,838.4" stroke="#cdbd44" stroke-width="2.1"/>
<path d="M630.6,838.4L622.1,826.7" stroke="#cf8c56" stroke-width="2.1"/>
<path d="M673.2,529.9L664.7,542.2" stroke="#7c9fca" stroke-width="2.1"/>
<path d="M664.7,542.2L656.1,554.5" stroke="#80bac2" stroke-width="2.1"/>
<path d="M671.6,581.8L663.9,568.1" stroke="#cdbd44" stroke-width="1.9"/>
<path d="M663.9,568.1L656.1,554.5" stroke="#80bac2" stroke-width="1.9"/>
<path d="M671.6,581.8L663.5,593.4" stroke="#cdbd44" stroke-width="1.9"/>
<path d="M663.5,593.4L655.4,605.0" stroke="#cf8c56" stroke-width="1.9"/>
<path d="M671.3,629.9L663.3,617.4" stroke="#cdbd44" stroke-width="1.7"/>
<path d="M663.3,617.4L655.4,605.0" stroke="#cf8c56" stroke-width="1.7"/>
<path d="M671.3,629.9L663.2,641.7" stroke="#cdbd44" stroke-width="1.7"/>
<path d="M663.2,641.7L655.2,653.5" stroke="#cf8c56" stroke-width="1.7"/>
<path d="M671.3,677.5L663.2,665.5" stroke="#cdbd44" stroke-width="1.6"/>
<path d="M663.2,665.5L655.2,653.5" stroke="#cf8c56" stroke-width="1.6"/>
<path d="M671.3,677.5L663.2,689.5" stroke="#cdbd44" stroke-width="1.6"/>
<path d="M663.2,689.5L655.2,701.5" stroke="#cf8c56" stroke-width="1.6"/>
<path d="M671.3,725.1L663.2,713.3" stroke="#cdbd44" stroke-width="1.7"/>
<path d="M663.2,713.3L655.2,701.5" stroke="#cf8c56" stroke-width="1.7"/>
<path d="M671.3,725.1L663.3,737.6" stroke="#cdbd44" stroke-width="1.7"/>
<path d="M663.3,737.6L655.4,750.0" stroke="#cf8c56" stroke-width="1.7"/>
<path d="M671.6,773.2L663.5,761.6" stroke="#cdbd44" stroke-width="1.9"/>
<path d="M663.5,761.6L655.4,750.0" stroke="#cf8c56" stroke-width="1.9"/>
<path d="M671.6,773.2L663.9,786.9" stroke="#cdbd44" stroke-width="1.9"/>
<path d="M663.9,786.9L656.1,800.5" stroke="#cf8c56" stroke-width="1.9"/>
<path d="M673.2,825.1L664.7,812.8" stroke="#cdbd44" stroke-width="2.1"/>
<path d="M664.7,812.8L656.1,800.5" stroke="#cf8c56" stroke-width="2.1"/>
<path d="M673.2,825.1L665.1,839.0" stroke="#cdbd44" stroke-width="2.1"/>
<path d="M665.1,839.0L656.9,852.9" stroke="#cf8c56" stroke-width="2.1"/>
<path d="M707.1,554.8L699.4,541.0" stroke="#7c9fca" stroke-width="2.1"/>
<path d="M699.4,541.0L691.7,527.1" stroke="#80bac2" stroke-width="2.1"/>
<path d="M707.1,554.8L698.5,567.1" stroke="#7c9fca" stroke-width="2.1"/>
<path d="M698.5,567.1L690.0,579.4" stroke="#cf8c56" stroke-width="2.1"/>
<path d="M705.1,605.5L697.5,592.4" stroke="#cdbd44" stroke-width="1.9"/>
<path d="M697.5,592.4L690.0,579.4" stroke="#cf8c56" stroke-width="1.9"/>
<path d="M705.1,605.5L697.0,617.3" stroke="#cdbd44" stroke-width="1.9"/>
<path d="M697.0,617.3L689.0,629.1" stroke="#cf8c56" stroke-width="1.9"/>
<path d="M704.3,653.7L696.6,641.4" stroke="#cdbd44" stroke-width="1.8"/>
<path d="M696.6,641.4L689.0,629.1" stroke="#cf8c56" stroke-width="1.8"/>
<path d="M704.3,653.7L696.6,665.6" stroke="#cdbd44" stroke-width="1.8"/>
<path d="M696.6,665.6L688.8,677.5" stroke="#cf8c56" stroke-width="1.8"/>
<path d="M704.3,701.3L696.6,689.4" stroke="#cdbd44" stroke-width="1.8"/>
<path d="M696.6,689.4L688.8,677.5" stroke="#cf8c56" stroke-width="1.8"/>
<path d="M704.3,701.3L696.6,713.6" stroke="#cdbd44" stroke-width="1.8"/>
<path d="M696.6,713.6L689.0,725.9" stroke="#cf8c56" stroke-width="1.8"/>
<path d="M705.1,749.5L697.0,737.7" stroke="#cdbd44" stroke-width="1.9"/>
<path d="M697.0,737.7L689.0,725.9" stroke="#cf8c56" stroke-width="1.9"/>
<path d="M705.1,749.5L697.5,762.6" stroke="#cdbd44" stroke-width="1.9"/>
<path d="M697.5,762.6L690.0,775.6" stroke="#cf8c56" stroke-width="1.9"/>
<path d="M707.1,800.2L698.5,787.9" stroke="#cdbd44" stroke-width="2.1"/>
<path d="M698.5,787.9L690.0,775.6" stroke="#cf8c56" stroke-width="2.1"/>
<path d="M707.1,800.2L699.4,814.0" stroke="#cdbd44" stroke-width="2.1"/>
<path d="M699.4,814.0L691.7,827.9" stroke="#cf8c56" stroke-width="2.1"/>
<path d="M707.5,850.0L699.6,839.0" stroke="#cdbd44" stroke-width="2.1"/>
<path d="M699.6,839.0L691.7,827.9" stroke="#cf8c56" stroke-width="2.1"/>
<path d="M741.7,529.6L734.0,540.9" stroke="#7c9fca" stroke-width="2.1"/>
<path d="M734.0,540.9L726.4,552.2" stroke="#80bac2" stroke-width="2.1"/>
<path d="M741.7,578.9L734.0,565.5" stroke="#cdbd44" stroke-width="2.1"/>
<path d="M734.0,565.5L726.4,552.2" stroke="#80bac2" stroke-width="2.1"/>
<path d="M741.7,578.9L733.2,591.2" stroke="#cdbd44" stroke-width="2.1"/>
<path d="M733.2,591.2L724.7,603.5" stroke="#cf8c56" stroke-width="2.1"/>
<path d="M739.8,628.9L732.2,616.2" stroke="#cdbd44" stroke-width="2.1"/>
<path d="M732.2,616.2L724.7,603.5" stroke="#cf8c56" stroke-width="2.1"/>
<path d="M739.8,628.9L731.6,641.0" stroke="#cdbd44" stroke-width="2.1"/>
<path d="M731.6,641.0L723.3,653.1" stroke="#cf8c56" stroke-width="2.1"/>
<path d="M739.1,677.5L731.2,665.3" stroke="#cdbd44" stroke-width="2.0"/>
<path d="M731.2,665.3L723.3,653.1" stroke="#cf8c56" stroke-width="2.0"/>
<path d="M739.1,677.5L731.2,689.7" stroke="#cdbd44" stroke-width="2.0"/>
<path d="M731.2,689.7L723.3,701.9" stroke="#cf8c56" stroke-width="2.0"/>
<path d="M739.8,726.1L731.6,714.0" stroke="#cdbd44" stroke-width="2.1"/>
<path d="M731.6,714.0L723.3,701.9" stroke="#cf8c56" stroke-width="2.1"/>
<path d="M739.8,726.1L732.2,738.8" stroke="#cdbd44" stroke-width="2.1"/>
<path d="M732.2,738.8L724.7,751.5" stroke="#cf8c56" stroke-width="2.1"/>
<path d="M741.7,776.1L733.2,763.8" stroke="#cdbd44" stroke-width="2.1"/>
<path d="M733.2,763.8L724.7,751.5" stroke="#cf8c56" stroke-width="2.1"/>
<path d="M741.7,776.1L734.0,789.5" stroke="#cdbd44" stroke-width="2.1"/>
<path d="M734.0,789.5L726.4,802.8" stroke="#cf8c56" stroke-width="2.1"/>
<path d="M741.7,825.4L734.0,814.1" stroke="#cdbd44" stroke-width="2.1"/>
<path d="M734.0,814.1L726.4,802.8" stroke="#cf8c56" stroke-width="2.1"/>
<path d="M741.7,825.4L734.0,839.2" stroke="#cdbd44" stroke-width="2.1"/>
<path d="M734.0,839.2L726.4,852.9" stroke="#cf8c56" stroke-width="2.1"/>
<circle cx="468.3" cy="529.6" r="6.4" fill="url(#ab5)"/>
<circle cx="468.3" cy="578.9" r="6.2" fill="url(#ay5)"/>
<circle cx="468.9" cy="628.4" r="6.2" fill="url(#ay5)"/>
<circle cx="469.6" cy="677.5" r="6.2" fill="url(#ay5)"/>
<circle cx="468.9" cy="726.6" r="6.2" fill="url(#ay5)"/>
<circle cx="468.3" cy="776.1" r="6.2" fill="url(#ay5)"/>
<circle cx="468.3" cy="825.4" r="6.2" fill="url(#ay5)"/>
<circle cx="502.4" cy="554.3" r="6.4" fill="url(#ab5)"/>
<circle cx="504.3" cy="604.8" r="6.1" fill="url(#ay5)"/>
<circle cx="505.6" cy="653.6" r="6.1" fill="url(#ay5)"/>
<circle cx="505.6" cy="701.4" r="6.1" fill="url(#ay5)"/>
<circle cx="504.3" cy="750.2" r="6.1" fill="url(#ay5)"/>
<circle cx="502.4" cy="800.7" r="6.2" fill="url(#ay5)"/>
<circle cx="536.6" cy="529.6" r="6.4" fill="url(#ab5)"/>
<circle cx="538.4" cy="581.2" r="6.1" fill="url(#ay5)"/>
<circle cx="539.2" cy="629.9" r="6.0" fill="url(#ay5)"/>
<circle cx="539.2" cy="677.5" r="6.0" fill="url(#ay5)"/>
<circle cx="539.2" cy="725.1" r="6.0" fill="url(#ay5)"/>
<circle cx="538.4" cy="773.8" r="6.1" fill="url(#ay5)"/>
<circle cx="536.6" cy="825.4" r="6.2" fill="url(#ay5)"/>
<circle cx="571.6" cy="556.7" r="6.3" fill="url(#ab5)"/>
<circle cx="572.2" cy="606.0" r="6.0" fill="url(#ay5)"/>
<circle cx="572.3" cy="653.7" r="6.0" fill="url(#ay5)"/>
<circle cx="572.3" cy="701.3" r="6.0" fill="url(#ay5)"/>
<circle cx="572.2" cy="749.0" r="6.0" fill="url(#ay5)"/>
<circle cx="571.6" cy="798.3" r="6.1" fill="url(#ay5)"/>
<circle cx="605.0" cy="531.0" r="6.4" fill="url(#ab5)"/>
<circle cx="605.2" cy="582.2" r="6.0" fill="url(#ay5)"/>
<circle cx="605.3" cy="629.9" r="6.0" fill="url(#ay5)"/>
<circle cx="605.3" cy="677.5" r="6.0" fill="url(#ay5)"/>
<circle cx="605.3" cy="725.1" r="6.0" fill="url(#ay5)"/>
<circle cx="605.2" cy="772.8" r="6.0" fill="url(#ay5)"/>
<circle cx="605.0" cy="824.0" r="6.2" fill="url(#ay5)"/>
<circle cx="638.5" cy="557.1" r="6.3" fill="url(#ab5)"/>
<circle cx="638.3" cy="606.0" r="6.0" fill="url(#ay5)"/>
<circle cx="638.2" cy="653.7" r="6.0" fill="url(#ay5)"/>
<circle cx="638.2" cy="701.3" r="6.0" fill="url(#ay5)"/>
<circle cx="638.3" cy="749.0" r="6.0" fill="url(#ay5)"/>
<circle cx="638.5" cy="797.9" r="6.1" fill="url(#ay5)"/>
<circle cx="673.2" cy="529.9" r="6.4" fill="url(#ab5)"/>
<circle cx="671.6" cy="581.8" r="6.1" fill="url(#ay5)"/>
<circle cx="671.3" cy="629.9" r="6.0" fill="url(#ay5)"/>
<circle cx="671.3" cy="677.5" r="6.0" fill="url(#ay5)"/>
<circle cx="671.3" cy="725.1" r="6.0" fill="url(#ay5)"/>
<circle cx="671.6" cy="773.2" r="6.1" fill="url(#ay5)"/>
<circle cx="673.2" cy="825.1" r="6.2" fill="url(#ay5)"/>
<circle cx="707.1" cy="554.8" r="6.4" fill="url(#ab5)"/>
<circle cx="705.1" cy="605.5" r="6.1" fill="url(#ay5)"/>
<circle cx="704.3" cy="653.7" r="6.0" fill="url(#ay5)"/>
<circle cx="704.3" cy="701.3" r="6.0" fill="url(#ay5)"/>
<circle cx="705.1" cy="749.5" r="6.1" fill="url(#ay5)"/>
<circle cx="707.1" cy="800.2" r="6.2" fill="url(#ay5)"/>
<path d="M434.1,554.3L441.3,553.2" stroke="#7c9fca" stroke-width="2.1"/>
<path d="M441.3,553.2L448.4,552.2" stroke="#80bac2" stroke-width="2.1"/>
<path d="M434.1,603.6L441.3,602.9" stroke="#cdbd44" stroke-width="2.1"/>
<path d="M441.3,602.9L448.4,602.3" stroke="#cf8c56" stroke-width="2.1"/>
<path d="M434.1,652.9L441.3,652.6" stroke="#cdbd44" stroke-width="2.1"/>
<path d="M441.3,652.6L448.4,652.4" stroke="#cf8c56" stroke-width="2.1"/>
<path d="M434.1,702.1L441.3,702.4" stroke="#cdbd44" stroke-width="2.1"/>
<path d="M441.3,702.4L448.4,702.6" stroke="#cf8c56" stroke-width="2.1"/>
<path d="M434.1,751.4L441.3,752.1" stroke="#cdbd44" stroke-width="2.1"/>
<path d="M441.3,752.1L448.4,752.7" stroke="#cf8c56" stroke-width="2.1"/>
<path d="M434.1,800.7L441.3,801.8" stroke="#cdbd44" stroke-width="2.1"/>
<path d="M441.3,801.8L448.4,802.8" stroke="#cf8c56" stroke-width="2.1"/>
<path d="M468.3,529.6L475.7,528.4" stroke="#7c9fca" stroke-width="2.1"/>
<path d="M475.7,528.4L483.2,527.1" stroke="#80bac2" stroke-width="2.1"/>
<path d="M468.3,578.9L475.7,578.1" stroke="#cdbd44" stroke-width="2.1"/>
<path d="M475.7,578.1L483.2,577.3" stroke="#cf8c56" stroke-width="2.1"/>
<path d="M468.9,628.4L476.9,628.2" stroke="#cdbd44" stroke-width="2.1"/>
<path d="M476.9,628.2L484.9,628.0" stroke="#cf8c56" stroke-width="2.1"/>
<path d="M469.6,677.5L477.6,677.5" stroke="#cdbd44" stroke-width="2.1"/>
<path d="M477.6,677.5L485.6,677.5" stroke="#cf8c56" stroke-width="2.1"/>
<path d="M468.9,726.6L476.9,726.8" stroke="#cdbd44" stroke-width="2.1"/>
<path d="M476.9,726.8L484.9,727.0" stroke="#cf8c56" stroke-width="2.1"/>
<path d="M468.3,776.1L475.7,776.9" stroke="#cdbd44" stroke-width="2.1"/>
<path d="M475.7,776.9L483.2,777.7" stroke="#cf8c56" stroke-width="2.1"/>
<path d="M468.3,825.4L475.7,826.6" stroke="#cdbd44" stroke-width="2.1"/>
<path d="M475.7,826.6L483.2,827.9" stroke="#cf8c56" stroke-width="2.1"/>
<path d="M502.4,554.3L510.3,553.4" stroke="#7c9fca" stroke-width="2.1"/>
<path d="M510.3,553.4L518.2,552.5" stroke="#80bac2" stroke-width="2.1"/>
<path d="M504.3,604.8L512.3,604.5" stroke="#cdbd44" stroke-width="2.0"/>
<path d="M512.3,604.5L520.3,604.2" stroke="#cf8c56" stroke-width="2.0"/>
<path d="M505.6,653.6L513.4,653.4" stroke="#cdbd44" stroke-width="1.9"/>
<path d="M513.4,653.4L521.2,653.3" stroke="#cf8c56" stroke-width="1.9"/>
<path d="M505.6,701.4L513.4,701.6" stroke="#cdbd44" stroke-width="1.9"/>
<path d="M513.4,701.6L521.2,701.7" stroke="#cf8c56" stroke-width="1.9"/>
<path d="M504.3,750.2L512.3,750.5" stroke="#cdbd44" stroke-width="2.0"/>
<path d="M512.3,750.5L520.3,750.8" stroke="#cf8c56" stroke-width="2.0"/>
<path d="M502.4,800.7L510.3,801.6" stroke="#cdbd44" stroke-width="2.1"/>
<path d="M510.3,801.6L518.2,802.5" stroke="#cf8c56" stroke-width="2.1"/>
<path d="M536.6,529.6L544.7,528.4" stroke="#7c9fca" stroke-width="2.1"/>
<path d="M544.7,528.4L552.7,527.2" stroke="#80bac2" stroke-width="2.1"/>
<path d="M538.4,581.2L546.4,580.6" stroke="#cdbd44" stroke-width="2.0"/>
<path d="M546.4,580.6L554.4,580.0" stroke="#cf8c56" stroke-width="2.0"/>
<path d="M539.2,629.9L547.1,629.5" stroke="#cdbd44" stroke-width="1.8"/>
<path d="M547.1,629.5L554.9,629.2" stroke="#cf8c56" stroke-width="1.8"/>
<path d="M539.2,677.5L547.1,677.5" stroke="#cdbd44" stroke-width="1.7"/>
<path d="M547.1,677.5L555.1,677.5" stroke="#cf8c56" stroke-width="1.7"/>
<path d="M539.2,725.1L547.1,725.5" stroke="#cdbd44" stroke-width="1.8"/>
<path d="M547.1,725.5L554.9,725.8" stroke="#cf8c56" stroke-width="1.8"/>
<path d="M538.4,773.8L546.4,774.4" stroke="#cdbd44" stroke-width="2.0"/>
<path d="M546.4,774.4L554.4,775.0" stroke="#cf8c56" stroke-width="2.0"/>
<path d="M536.6,825.4L544.7,826.6" stroke="#cdbd44" stroke-width="2.1"/>
<path d="M544.7,826.6L552.7,827.8" stroke="#cf8c56" stroke-width="2.1"/>
<path d="M571.6,556.7L579.8,555.8" stroke="#7c9fca" stroke-width="2.0"/>
<path d="M579.8,555.8L588.0,554.9" stroke="#80bac2" stroke-width="2.0"/>
<path d="M572.2,606.0L580.3,605.6" stroke="#cdbd44" stroke-width="1.7"/>
<path d="M580.3,605.6L588.4,605.1" stroke="#cf8c56" stroke-width="1.7"/>
<path d="M572.3,653.7L580.4,653.6" stroke="#cdbd44" stroke-width="1.5"/>
<path d="M580.4,653.6L588.6,653.5" stroke="#cf8c56" stroke-width="1.5"/>
<path d="M572.3,701.3L580.4,701.4" stroke="#cdbd44" stroke-width="1.5"/>
<path d="M580.4,701.4L588.6,701.5" stroke="#cf8c56" stroke-width="1.5"/>
<path d="M572.2,749.0L580.3,749.4" stroke="#cdbd44" stroke-width="1.7"/>
<path d="M580.3,749.4L588.4,749.9" stroke="#cf8c56" stroke-width="1.7"/>
<path d="M571.6,798.3L579.8,799.2" stroke="#cdbd44" stroke-width="2.0"/>
<path d="M579.8,799.2L588.0,800.1" stroke="#cf8c56" stroke-width="2.0"/>
<path d="M605.0,531.0L613.6,529.6" stroke="#7c9fca" stroke-width="2.1"/>
<path d="M613.6,529.6L622.1,528.3" stroke="#80bac2" stroke-width="2.1"/>
<path d="M605.2,582.2L613.6,581.4" stroke="#cdbd44" stroke-width="1.8"/>
<path d="M613.6,581.4L621.9,580.6" stroke="#cf8c56" stroke-width="1.8"/>
<path d="M605.3,629.9L613.5,629.7" stroke="#cdbd44" stroke-width="1.5"/>
<path d="M613.5,629.7L621.8,629.4" stroke="#cf8c56" stroke-width="1.5"/>
<path d="M605.3,677.5L613.5,677.5" stroke="#cdbd44" stroke-width="1.3"/>
<path d="M613.5,677.5L621.8,677.5" stroke="#cf8c56" stroke-width="1.3"/>
<path d="M605.3,725.1L613.5,725.3" stroke="#cdbd44" stroke-width="1.5"/>
<path d="M613.5,725.3L621.8,725.6" stroke="#cf8c56" stroke-width="1.5"/>
<path d="M605.2,772.8L613.6,773.6" stroke="#cdbd44" stroke-width="1.8"/>
<path d="M613.6,773.6L621.9,774.4" stroke="#cf8c56" stroke-width="1.8"/>
<path d="M605.0,824.0L613.6,825.4" stroke="#cdbd44" stroke-width="2.1"/>
<path d="M613.6,825.4L622.1,826.7" stroke="#cf8c56" stroke-width="2.1"/>
<path d="M638.5,557.1L647.3,555.8" stroke="#7c9fca" stroke-width="2.0"/>
<path d="M647.3,555.8L656.1,554.5" stroke="#80bac2" stroke-width="2.0"/>
<path d="M638.3,606.0L646.8,605.5" stroke="#cdbd44" stroke-width="1.7"/>
<path d="M646.8,605.5L655.4,605.0" stroke="#cf8c56" stroke-width="1.7"/>
<path d="M638.2,653.7L646.7,653.6" stroke="#cdbd44" stroke-width="1.5"/>
<path d="M646.7,653.6L655.2,653.5" stroke="#cf8c56" stroke-width="1.5"/>
<path d="M638.2,701.3L646.7,701.4" stroke="#cdbd44" stroke-width="1.5"/>
<path d="M646.7,701.4L655.2,701.5" stroke="#cf8c56" stroke-width="1.5"/>
<path d="M638.3,749.0L646.8,749.5" stroke="#cdbd44" stroke-width="1.7"/>
<path d="M646.8,749.5L655.4,750.0" stroke="#cf8c56" stroke-width="1.7"/>
<path d="M638.5,797.9L647.3,799.2" stroke="#cdbd44" stroke-width="2.0"/>
<path d="M647.3,799.2L656.1,800.5" stroke="#cf8c56" stroke-width="2.0"/>
<path d="M673.2,529.9L682.4,528.5" stroke="#7c9fca" stroke-width="2.1"/>
<path d="M682.4,528.5L691.7,527.1" stroke="#80bac2" stroke-width="2.1"/>
<path d="M671.6,581.8L680.8,580.6" stroke="#cdbd44" stroke-width="1.9"/>
<path d="M680.8,580.6L690.0,579.4" stroke="#cf8c56" stroke-width="1.9"/>
<path d="M671.3,629.9L680.1,629.5" stroke="#cdbd44" stroke-width="1.7"/>
<path d="M680.1,629.5L689.0,629.1" stroke="#cf8c56" stroke-width="1.7"/>
<path d="M671.3,677.5L680.0,677.5" stroke="#cdbd44" stroke-width="1.6"/>
<path d="M680.0,677.5L688.8,677.5" stroke="#cf8c56" stroke-width="1.6"/>
<path d="M671.3,725.1L680.1,725.5" stroke="#cdbd44" stroke-width="1.7"/>
<path d="M680.1,725.5L689.0,725.9" stroke="#cf8c56" stroke-width="1.7"/>
<path d="M671.6,773.2L680.8,774.4" stroke="#cdbd44" stroke-width="1.9"/>
<path d="M680.8,774.4L690.0,775.6" stroke="#cf8c56" stroke-width="1.9"/>
<path d="M673.2,825.1L682.4,826.5" stroke="#cdbd44" stroke-width="2.1"/>
<path d="M682.4,826.5L691.7,827.9" stroke="#cf8c56" stroke-width="2.1"/>
<path d="M707.1,554.8L716.8,553.5" stroke="#7c9fca" stroke-width="2.1"/>
<path d="M716.8,553.5L726.4,552.2" stroke="#80bac2" stroke-width="2.1"/>
<path d="M705.1,605.5L714.9,604.5" stroke="#cdbd44" stroke-width="1.9"/>
<path d="M714.9,604.5L724.7,603.5" stroke="#cf8c56" stroke-width="1.9"/>
<path d="M704.3,653.7L713.8,653.4" stroke="#cdbd44" stroke-width="1.8"/>
<path d="M713.8,653.4L723.3,653.1" stroke="#cf8c56" stroke-width="1.8"/>
<path d="M704.3,701.3L713.8,701.6" stroke="#cdbd44" stroke-width="1.8"/>
<path d="M713.8,701.6L723.3,701.9" stroke="#cf8c56" stroke-width="1.8"/>
<path d="M705.1,749.5L714.9,750.5" stroke="#cdbd44" stroke-width="1.9"/>
<path d="M714.9,750.5L724.7,751.5" stroke="#cf8c56" stroke-width="1.9"/>
<path d="M707.1,800.2L716.8,801.5" stroke="#cdbd44" stroke-width="2.1"/>
<path d="M716.8,801.5L726.4,802.8" stroke="#cf8c56" stroke-width="2.1"/>
<circle cx="448.4" cy="552.2" r="5.6" fill="url(#ac4)"/>
<circle cx="448.4" cy="602.3" r="5.7" fill="url(#ao4)"/>
<circle cx="448.4" cy="652.4" r="5.7" fill="url(#ao4)"/>
<circle cx="448.4" cy="702.6" r="5.7" fill="url(#ao4)"/>
<circle cx="448.4" cy="752.7" r="5.7" fill="url(#ao4)"/>
<circle cx="448.4" cy="802.8" r="5.7" fill="url(#ao4)"/>
<circle cx="483.2" cy="527.1" r="5.6" fill="url(#ac4)"/>
<circle cx="483.2" cy="577.3" r="5.7" fill="url(#ao4)"/>
<circle cx="484.9" cy="628.0" r="5.6" fill="url(#ao4)"/>
<circle cx="485.6" cy="677.5" r="5.6" fill="url(#ao4)"/>
<circle cx="484.9" cy="727.0" r="5.6" fill="url(#ao4)"/>
<circle cx="483.2" cy="777.7" r="5.7" fill="url(#ao4)"/>
<circle cx="483.2" cy="827.9" r="5.7" fill="url(#ao4)"/>
<circle cx="518.2" cy="552.5" r="5.6" fill="url(#ac4)"/>
<circle cx="520.3" cy="604.2" r="5.6" fill="url(#ao4)"/>
<circle cx="521.2" cy="653.3" r="5.5" fill="url(#ao4)"/>
<circle cx="521.2" cy="701.7" r="5.5" fill="url(#ao4)"/>
<circle cx="520.3" cy="750.8" r="5.6" fill="url(#ao4)"/>
<circle cx="518.2" cy="802.5" r="5.7" fill="url(#ao4)"/>
<circle cx="552.7" cy="527.2" r="5.6" fill="url(#ac4)"/>
<circle cx="554.4" cy="580.0" r="5.5" fill="url(#ao4)"/>
<circle cx="554.9" cy="629.2" r="5.5" fill="url(#ao4)"/>
<circle cx="555.1" cy="677.5" r="5.5" fill="url(#ao4)"/>
<circle cx="554.9" cy="725.8" r="5.5" fill="url(#ao4)"/>
<circle cx="554.4" cy="775.0" r="5.5" fill="url(#ao4)"/>
<circle cx="552.7" cy="827.8" r="5.7" fill="url(#ao4)"/>
<circle cx="588.0" cy="554.9" r="5.5" fill="url(#ac4)"/>
<circle cx="588.4" cy="605.1" r="5.5" fill="url(#ao4)"/>
<circle cx="588.6" cy="653.5" r="5.4" fill="url(#ao4)"/>
<circle cx="588.6" cy="701.5" r="5.4" fill="url(#ao4)"/>
<circle cx="588.4" cy="749.9" r="5.5" fill="url(#ao4)"/>
<circle cx="588.0" cy="800.1" r="5.6" fill="url(#ao4)"/>
<circle cx="622.1" cy="528.3" r="5.6" fill="url(#ac4)"/>
<circle cx="621.9" cy="580.6" r="5.5" fill="url(#ao4)"/>
<circle cx="621.8" cy="629.4" r="5.5" fill="url(#ao4)"/>
<circle cx="621.8" cy="677.5" r="5.4" fill="url(#ao4)"/>
<circle cx="621.8" cy="725.6" r="5.5" fill="url(#ao4)"/>
<circle cx="621.9" cy="774.4" r="5.5" fill="url(#ao4)"/>
<circle cx="622.1" cy="826.7" r="5.6" fill="url(#ao4)"/>
<circle cx="656.1" cy="554.5" r="5.5" fill="url(#ac4)"/>
<circle cx="655.4" cy="605.0" r="5.5" fill="url(#ao4)"/>
<circle cx="655.2" cy="653.5" r="5.5" fill="url(#ao4)"/>
<circle cx="655.2" cy="701.5" r="5.5" fill="url(#ao4)"/>
<circle cx="655.4" cy="750.0" r="5.5" fill="url(#ao4)"/>
<circle cx="656.1" cy="800.5" r="5.6" fill="url(#ao4)"/>
<circle cx="691.7" cy="527.1" r="5.6" fill="url(#ac4)"/>
<circle cx="690.0" cy="579.4" r="5.6" fill="url(#ao4)"/>
<circle cx="689.0" cy="629.1" r="5.5" fill="url(#ao4)"/>
<circle cx="688.8" cy="677.5" r="5.5" fill="url(#ao4)"/>
<circle cx="689.0" cy="725.9" r="5.5" fill="url(#ao4)"/>
<circle cx="690.0" cy="775.6" r="5.6" fill="url(#ao4)"/>
<circle cx="691.7" cy="827.9" r="5.7" fill="url(#ao4)"/>
<circle cx="726.4" cy="552.2" r="5.6" fill="url(#ac4)"/>
<circle cx="724.7" cy="603.5" r="5.6" fill="url(#ao4)"/>
<circle cx="723.3" cy="653.1" r="5.5" fill="url(#ao4)"/>
<circle cx="723.3" cy="701.9" r="5.5" fill="url(#ao4)"/>
<circle cx="724.7" cy="751.5" r="5.6" fill="url(#ao4)"/>
<circle cx="726.4" cy="802.8" r="5.7" fill="url(#ao4)"/>
<path d="M428.0,550.0L438.2,551.1" stroke="#7c9fca" stroke-width="2.2"/>
<path d="M438.2,551.1L448.4,552.2" stroke="#80bac2" stroke-width="2.2"/>
<path d="M428.0,601.0L438.2,601.7" stroke="#cdbd44" stroke-width="2.2"/>
<path d="M438.2,601.7L448.4,602.3" stroke="#cf8c56" stroke-width="2.2"/>
<path d="M428.0,652.0L438.2,652.2" stroke="#cdbd44" stroke-width="2.2"/>
<path d="M438.2,652.2L448.4,652.4" stroke="#cf8c56" stroke-width="2.2"/>
<path d="M428.0,703.0L438.2,702.8" stroke="#cdbd44" stroke-width="2.2"/>
<path d="M438.2,702.8L448.4,702.6" stroke="#cf8c56" stroke-width="2.2"/>
<path d="M428.0,754.0L438.2,753.3" stroke="#cdbd44" stroke-width="2.2"/>
<path d="M438.2,753.3L448.4,752.7" stroke="#cf8c56" stroke-width="2.2"/>
<path d="M428.0,805.0L438.2,803.9" stroke="#cdbd44" stroke-width="2.2"/>
<path d="M438.2,803.9L448.4,802.8" stroke="#cf8c56" stroke-width="2.2"/>
<path d="M463.3,524.6L473.2,525.8" stroke="#7c9fca" stroke-width="2.2"/>
<path d="M473.2,525.8L483.2,527.1" stroke="#80bac2" stroke-width="2.2"/>
<path d="M463.3,575.5L473.2,576.4" stroke="#cdbd44" stroke-width="2.2"/>
<path d="M473.2,576.4L483.2,577.3" stroke="#cf8c56" stroke-width="2.2"/>
<path d="M463.5,626.6L474.2,627.3" stroke="#cdbd44" stroke-width="2.2"/>
<path d="M474.2,627.3L484.9,628.0" stroke="#cf8c56" stroke-width="2.2"/>
<path d="M464.2,677.5L474.9,677.5" stroke="#cdbd44" stroke-width="2.2"/>
<path d="M474.9,677.5L485.6,677.5" stroke="#cf8c56" stroke-width="2.2"/>
<path d="M463.5,728.4L474.2,727.7" stroke="#cdbd44" stroke-width="2.2"/>
<path d="M474.2,727.7L484.9,727.0" stroke="#cf8c56" stroke-width="2.2"/>
<path d="M463.3,779.5L473.2,778.6" stroke="#cdbd44" stroke-width="2.2"/>
<path d="M473.2,778.6L483.2,777.7" stroke="#cf8c56" stroke-width="2.2"/>
<path d="M463.3,830.4L473.2,829.2" stroke="#cdbd44" stroke-width="2.2"/>
<path d="M473.2,829.2L483.2,827.9" stroke="#cf8c56" stroke-width="2.2"/>
<path d="M498.6,550.0L508.4,551.3" stroke="#7c9fca" stroke-width="2.2"/>
<path d="M508.4,551.3L518.2,552.5" stroke="#80bac2" stroke-width="2.2"/>
<path d="M500.3,602.1L510.3,603.1" stroke="#cdbd44" stroke-width="2.1"/>
<path d="M510.3,603.1L520.3,604.2" stroke="#cf8c56" stroke-width="2.1"/>
<path d="M501.7,652.7L511.4,653.0" stroke="#cdbd44" stroke-width="2.0"/>
<path d="M511.4,653.0L521.2,653.3" stroke="#cf8c56" stroke-width="2.0"/>
<path d="M501.7,702.3L511.4,702.0" stroke="#cdbd44" stroke-width="2.0"/>
<path d="M511.4,702.0L521.2,701.7" stroke="#cf8c56" stroke-width="2.0"/>
<path d="M500.3,752.9L510.3,751.9" stroke="#cdbd44" stroke-width="2.1"/>
<path d="M510.3,751.9L520.3,750.8" stroke="#cf8c56" stroke-width="2.1"/>
<path d="M498.6,805.0L508.4,803.7" stroke="#cdbd44" stroke-width="2.2"/>
<path d="M508.4,803.7L518.2,802.5" stroke="#cf8c56" stroke-width="2.2"/>
<path d="M534.0,524.6L543.3,525.9" stroke="#7c9fca" stroke-width="2.2"/>
<path d="M543.3,525.9L552.7,527.2" stroke="#80bac2" stroke-width="2.2"/>
<path d="M535.6,577.6L545.0,578.8" stroke="#cdbd44" stroke-width="2.1"/>
<path d="M545.0,578.8L554.4,580.0" stroke="#cf8c56" stroke-width="2.1"/>
<path d="M536.8,628.3L545.9,628.8" stroke="#cdbd44" stroke-width="1.8"/>
<path d="M545.9,628.8L554.9,629.2" stroke="#cf8c56" stroke-width="1.8"/>
<path d="M537.1,677.5L546.1,677.5" stroke="#cdbd44" stroke-width="1.7"/>
<path d="M546.1,677.5L555.1,677.5" stroke="#cf8c56" stroke-width="1.7"/>
<path d="M536.8,726.7L545.9,726.2" stroke="#cdbd44" stroke-width="1.8"/>
<path d="M545.9,726.2L554.9,725.8" stroke="#cf8c56" stroke-width="1.8"/>
<path d="M535.6,777.4L545.0,776.2" stroke="#cdbd44" stroke-width="2.1"/>
<path d="M545.0,776.2L554.4,775.0" stroke="#cf8c56" stroke-width="2.1"/>
<path d="M534.0,830.4L543.3,829.1" stroke="#cdbd44" stroke-width="2.2"/>
<path d="M543.3,829.1L552.7,827.8" stroke="#cf8c56" stroke-width="2.2"/>
<path d="M570.1,552.2L579.0,553.6" stroke="#7c9fca" stroke-width="2.1"/>
<path d="M579.0,553.6L588.0,554.9" stroke="#80bac2" stroke-width="2.1"/>
<path d="M571.0,603.9L579.7,604.5" stroke="#cdbd44" stroke-width="1.8"/>
<path d="M579.7,604.5L588.4,605.1" stroke="#cf8c56" stroke-width="1.8"/>
<path d="M571.4,653.2L580.0,653.4" stroke="#cdbd44" stroke-width="1.6"/>
<path d="M580.0,653.4L588.6,653.5" stroke="#cf8c56" stroke-width="1.6"/>
<path d="M571.4,701.8L580.0,701.6" stroke="#cdbd44" stroke-width="1.6"/>
<path d="M580.0,701.6L588.6,701.5" stroke="#cf8c56" stroke-width="1.6"/>
<path d="M571.0,751.1L579.7,750.5" stroke="#cdbd44" stroke-width="1.8"/>
<path d="M579.7,750.5L588.4,749.9" stroke="#cf8c56" stroke-width="1.8"/>
<path d="M570.1,802.8L579.0,801.4" stroke="#cdbd44" stroke-width="2.1"/>
<path d="M579.0,801.4L588.0,800.1" stroke="#cf8c56" stroke-width="2.1"/>
<path d="M604.7,525.5L613.4,526.9" stroke="#7c9fca" stroke-width="2.2"/>
<path d="M613.4,526.9L622.1,528.3" stroke="#80bac2" stroke-width="2.2"/>
<path d="M605.0,579.0L613.4,579.8" stroke="#cdbd44" stroke-width="1.9"/>
<path d="M613.4,579.8L621.9,580.6" stroke="#cf8c56" stroke-width="1.9"/>
<path d="M605.1,628.9L613.5,629.2" stroke="#cdbd44" stroke-width="1.6"/>
<path d="M613.5,629.2L621.8,629.4" stroke="#cf8c56" stroke-width="1.6"/>
<path d="M605.2,677.5L613.5,677.5" stroke="#cdbd44" stroke-width="1.3"/>
<path d="M613.5,677.5L621.8,677.5" stroke="#cf8c56" stroke-width="1.3"/>
<path d="M605.1,726.1L613.5,725.8" stroke="#cdbd44" stroke-width="1.6"/>
<path d="M613.5,725.8L621.8,725.6" stroke="#cf8c56" stroke-width="1.6"/>
<path d="M605.0,776.0L613.4,775.2" stroke="#cdbd44" stroke-width="1.9"/>
<path d="M613.4,775.2L621.9,774.4" stroke="#cf8c56" stroke-width="1.9"/>
<path d="M604.7,829.5L613.4,828.1" stroke="#cdbd44" stroke-width="2.2"/>
<path d="M613.4,828.1L622.1,826.7" stroke="#cf8c56" stroke-width="2.2"/>
<path d="M639.5,552.6L647.8,553.6" stroke="#7c9fca" stroke-width="2.1"/>
<path d="M647.8,553.6L656.1,554.5" stroke="#80bac2" stroke-width="2.1"/>
<path d="M639.0,604.0L647.2,604.5" stroke="#cdbd44" stroke-width="1.7"/>
<path d="M647.2,604.5L655.4,605.0" stroke="#cf8c56" stroke-width="1.7"/>
<path d="M638.6,653.3L646.9,653.4" stroke="#cdbd44" stroke-width="1.5"/>
<path d="M646.9,653.4L655.2,653.5" stroke="#cf8c56" stroke-width="1.5"/>
<path d="M638.6,701.7L646.9,701.6" stroke="#cdbd44" stroke-width="1.5"/>
<path d="M646.9,701.6L655.2,701.5" stroke="#cf8c56" stroke-width="1.5"/>
<path d="M639.0,751.0L647.2,750.5" stroke="#cdbd44" stroke-width="1.7"/>
<path d="M647.2,750.5L655.4,750.0" stroke="#cf8c56" stroke-width="1.7"/>
<path d="M639.5,802.4L647.8,801.4" stroke="#cdbd44" stroke-width="2.1"/>
<path d="M647.8,801.4L656.1,800.5" stroke="#cf8c56" stroke-width="2.1"/>
<path d="M675.3,524.6L683.5,525.8" stroke="#7c9fca" stroke-width="2.2"/>
<path d="M683.5,525.8L691.7,527.1" stroke="#80bac2" stroke-width="2.2"/>
<path d="M673.7,578.2L681.9,578.8" stroke="#cdbd44" stroke-width="2.0"/>
<path d="M681.9,578.8L690.0,579.4" stroke="#cf8c56" stroke-width="2.0"/>
<path d="M672.9,628.5L680.9,628.8" stroke="#cdbd44" stroke-width="1.7"/>
<path d="M680.9,628.8L689.0,629.1" stroke="#cf8c56" stroke-width="1.7"/>
<path d="M672.6,677.5L680.7,677.5" stroke="#cdbd44" stroke-width="1.6"/>
<path d="M680.7,677.5L688.8,677.5" stroke="#cf8c56" stroke-width="1.6"/>
<path d="M672.9,726.5L680.9,726.2" stroke="#cdbd44" stroke-width="1.7"/>
<path d="M680.9,726.2L689.0,725.9" stroke="#cf8c56" stroke-width="1.7"/>
<path d="M673.7,776.8L681.9,776.2" stroke="#cdbd44" stroke-width="2.0"/>
<path d="M681.9,776.2L690.0,775.6" stroke="#cf8c56" stroke-width="2.0"/>
<path d="M675.3,830.4L683.5,829.2" stroke="#cdbd44" stroke-width="2.2"/>
<path d="M683.5,829.2L691.7,827.9" stroke="#cf8c56" stroke-width="2.2"/>
<path d="M710.6,550.2L718.5,551.2" stroke="#7c9fca" stroke-width="2.2"/>
<path d="M718.5,551.2L726.4,552.2" stroke="#80bac2" stroke-width="2.2"/>
<path d="M708.4,602.8L716.5,603.2" stroke="#cdbd44" stroke-width="2.0"/>
<path d="M716.5,603.2L724.7,603.5" stroke="#cf8c56" stroke-width="2.0"/>
<path d="M707.4,652.9L715.3,653.0" stroke="#cdbd44" stroke-width="1.9"/>
<path d="M715.3,653.0L723.3,653.1" stroke="#cf8c56" stroke-width="1.9"/>
<path d="M707.4,702.1L715.3,702.0" stroke="#cdbd44" stroke-width="1.9"/>
<path d="M715.3,702.0L723.3,701.9" stroke="#cf8c56" stroke-width="1.9"/>
<path d="M708.4,752.2L716.5,751.8" stroke="#cdbd44" stroke-width="2.0"/>
<path d="M716.5,751.8L724.7,751.5" stroke="#cf8c56" stroke-width="2.0"/>
<path d="M710.6,804.8L718.5,803.8" stroke="#cdbd44" stroke-width="2.2"/>
<path d="M718.5,803.8L726.4,802.8" stroke="#cf8c56" stroke-width="2.2"/>
<path d="M463.3,524.6L453.0,536.2" stroke="#7c9fca" stroke-width="2.2"/>
<path d="M453.0,536.2L442.7,547.8" stroke="#80bac2" stroke-width="2.2"/>
<path d="M463.3,575.5L453.0,561.7" stroke="#cdbd44" stroke-width="2.2"/>
<path d="M453.0,561.7L442.7,547.8" stroke="#80bac2" stroke-width="2.2"/>
<path d="M463.3,575.5L453.0,587.6" stroke="#cdbd44" stroke-width="2.2"/>
<path d="M453.0,587.6L442.7,599.7" stroke="#cf8c56" stroke-width="2.2"/>
<path d="M463.5,626.6L453.1,613.1" stroke="#cdbd44" stroke-width="2.2"/>
<path d="M453.1,613.1L442.7,599.7" stroke="#cf8c56" stroke-width="2.2"/>
<path d="M463.5,626.6L453.1,639.1" stroke="#cdbd44" stroke-width="2.2"/>
<path d="M453.1,639.1L442.7,651.6" stroke="#cf8c56" stroke-width="2.2"/>
<path d="M464.2,677.5L453.5,664.5" stroke="#cdbd44" stroke-width="2.2"/>
<path d="M453.5,664.5L442.7,651.6" stroke="#cf8c56" stroke-width="2.2"/>
<path d="M464.2,677.5L453.5,690.5" stroke="#cdbd44" stroke-width="2.2"/>
<path d="M453.5,690.5L442.7,703.4" stroke="#cf8c56" stroke-width="2.2"/>
<path d="M463.5,728.4L453.1,715.9" stroke="#cdbd44" stroke-width="2.2"/>
<path d="M453.1,715.9L442.7,703.4" stroke="#cf8c56" stroke-width="2.2"/>
<path d="M463.5,728.4L453.1,741.9" stroke="#cdbd44" stroke-width="2.2"/>
<path d="M453.1,741.9L442.7,755.3" stroke="#cf8c56" stroke-width="2.2"/>
<path d="M463.3,779.5L453.0,767.4" stroke="#cdbd44" stroke-width="2.2"/>
<path d="M453.0,767.4L442.7,755.3" stroke="#cf8c56" stroke-width="2.2"/>
<path d="M463.3,779.5L453.0,793.3" stroke="#cdbd44" stroke-width="2.2"/>
<path d="M453.0,793.3L442.7,807.2" stroke="#cf8c56" stroke-width="2.2"/>
<path d="M463.3,830.4L453.0,818.8" stroke="#cdbd44" stroke-width="2.2"/>
<path d="M453.0,818.8L442.7,807.2" stroke="#cf8c56" stroke-width="2.2"/>
<path d="M463.3,830.4L453.0,844.7" stroke="#cdbd44" stroke-width="2.2"/>
<path d="M453.0,844.7L442.7,859.0" stroke="#cf8c56" stroke-width="2.2"/>
<path d="M498.6,550.0L488.7,536.0" stroke="#7c9fca" stroke-width="2.2"/>
<path d="M488.7,536.0L478.7,521.9" stroke="#80bac2" stroke-width="2.2"/>
<path d="M498.6,550.0L488.7,561.9" stroke="#7c9fca" stroke-width="2.2"/>
<path d="M488.7,561.9L478.7,573.8" stroke="#cf8c56" stroke-width="2.2"/>
<path d="M500.3,602.1L489.5,587.9" stroke="#cdbd44" stroke-width="2.1"/>
<path d="M489.5,587.9L478.7,573.8" stroke="#cf8c56" stroke-width="2.1"/>
<path d="M500.3,602.1L490.1,614.1" stroke="#cdbd44" stroke-width="2.1"/>
<path d="M490.1,614.1L480.0,626.1" stroke="#cf8c56" stroke-width="2.1"/>
<path d="M501.7,652.7L490.8,639.4" stroke="#cdbd44" stroke-width="2.0"/>
<path d="M490.8,639.4L480.0,626.1" stroke="#cf8c56" stroke-width="2.0"/>
<path d="M501.7,652.7L491.2,665.1" stroke="#cdbd44" stroke-width="2.0"/>
<path d="M491.2,665.1L480.8,677.5" stroke="#cf8c56" stroke-width="2.0"/>
<path d="M501.7,702.3L491.2,689.9" stroke="#cdbd44" stroke-width="2.0"/>
<path d="M491.2,689.9L480.8,677.5" stroke="#cf8c56" stroke-width="2.0"/>
<path d="M501.7,702.3L490.8,715.6" stroke="#cdbd44" stroke-width="2.0"/>
<path d="M490.8,715.6L480.0,728.9" stroke="#cf8c56" stroke-width="2.0"/>
<path d="M500.3,752.9L490.1,740.9" stroke="#cdbd44" stroke-width="2.1"/>
<path d="M490.1,740.9L480.0,728.9" stroke="#cf8c56" stroke-width="2.1"/>
<path d="M500.3,752.9L489.5,767.1" stroke="#cdbd44" stroke-width="2.1"/>
<path d="M489.5,767.1L478.7,781.2" stroke="#cf8c56" stroke-width="2.1"/>
<path d="M498.6,805.0L488.7,793.1" stroke="#cdbd44" stroke-width="2.2"/>
<path d="M488.7,793.1L478.7,781.2" stroke="#cf8c56" stroke-width="2.2"/>
<path d="M498.6,805.0L488.7,819.0" stroke="#cdbd44" stroke-width="2.2"/>
<path d="M488.7,819.0L478.7,833.1" stroke="#cf8c56" stroke-width="2.2"/>
<path d="M498.6,855.9L488.7,844.5" stroke="#cdbd44" stroke-width="2.2"/>
<path d="M488.7,844.5L478.7,833.1" stroke="#cf8c56" stroke-width="2.2"/>
<path d="M534.0,524.6L524.3,536.2" stroke="#7c9fca" stroke-width="2.2"/>
<path d="M524.3,536.2L514.6,547.8" stroke="#80bac2" stroke-width="2.2"/>
<path d="M535.6,577.6L525.1,562.7" stroke="#cdbd44" stroke-width="2.1"/>
<path d="M525.1,562.7L514.6,547.8" stroke="#80bac2" stroke-width="2.1"/>
<path d="M535.6,577.6L526.2,589.5" stroke="#cdbd44" stroke-width="2.1"/>
<path d="M526.2,589.5L516.8,601.4" stroke="#cf8c56" stroke-width="2.1"/>
<path d="M536.8,628.3L526.8,614.9" stroke="#cdbd44" stroke-width="1.8"/>
<path d="M526.8,614.9L516.8,601.4" stroke="#cf8c56" stroke-width="1.8"/>
<path d="M536.8,628.3L527.4,640.4" stroke="#cdbd44" stroke-width="1.8"/>
<path d="M527.4,640.4L518.0,652.4" stroke="#cf8c56" stroke-width="1.8"/>
<path d="M537.1,677.5L527.5,665.0" stroke="#cdbd44" stroke-width="1.7"/>
<path d="M527.5,665.0L518.0,652.4" stroke="#cf8c56" stroke-width="1.7"/>
<path d="M537.1,677.5L527.5,690.0" stroke="#cdbd44" stroke-width="1.7"/>
<path d="M527.5,690.0L518.0,702.6" stroke="#cf8c56" stroke-width="1.7"/>
<path d="M536.8,726.7L527.4,714.6" stroke="#cdbd44" stroke-width="1.8"/>
<path d="M527.4,714.6L518.0,702.6" stroke="#cf8c56" stroke-width="1.8"/>
<path d="M536.8,726.7L526.8,740.1" stroke="#cdbd44" stroke-width="1.8"/>
<path d="M526.8,740.1L516.8,753.6" stroke="#cf8c56" stroke-width="1.8"/>
<path d="M535.6,777.4L526.2,765.5" stroke="#cdbd44" stroke-width="2.1"/>
<path d="M526.2,765.5L516.8,753.6" stroke="#cf8c56" stroke-width="2.1"/>
<path d="M535.6,777.4L525.1,792.3" stroke="#cdbd44" stroke-width="2.1"/>
<path d="M525.1,792.3L514.6,807.2" stroke="#cf8c56" stroke-width="2.1"/>
<path d="M534.0,830.4L524.3,818.8" stroke="#cdbd44" stroke-width="2.2"/>
<path d="M524.3,818.8L514.6,807.2" stroke="#cf8c56" stroke-width="2.2"/>
<path d="M534.0,830.4L524.3,844.7" stroke="#cdbd44" stroke-width="2.2"/>
<path d="M524.3,844.7L514.6,859.0" stroke="#cf8c56" stroke-width="2.2"/>
<path d="M570.1,552.2L560.3,537.1" stroke="#7c9fca" stroke-width="2.1"/>
<path d="M560.3,537.1L550.6,521.9" stroke="#80bac2" stroke-width="2.1"/>
<path d="M570.1,552.2L561.1,564.3" stroke="#7c9fca" stroke-width="2.1"/>
<path d="M561.1,564.3L552.2,576.4" stroke="#cf8c56" stroke-width="2.1"/>
<path d="M571.0,603.9L561.6,590.1" stroke="#cdbd44" stroke-width="1.8"/>
<path d="M561.6,590.1L552.2,576.4" stroke="#cf8c56" stroke-width="1.8"/>
<path d="M571.0,603.9L562.1,615.9" stroke="#cdbd44" stroke-width="1.8"/>
<path d="M562.1,615.9L553.2,627.8" stroke="#cf8c56" stroke-width="1.8"/>
<path d="M571.4,653.2L562.3,640.5" stroke="#cdbd44" stroke-width="1.6"/>
<path d="M562.3,640.5L553.2,627.8" stroke="#cf8c56" stroke-width="1.6"/>
<path d="M571.4,653.2L562.5,665.4" stroke="#cdbd44" stroke-width="1.6"/>
<path d="M562.5,665.4L553.7,677.5" stroke="#cf8c56" stroke-width="1.6"/>
<path d="M571.4,701.8L562.5,689.6" stroke="#cdbd44" stroke-width="1.6"/>
<path d="M562.5,689.6L553.7,677.5" stroke="#cf8c56" stroke-width="1.6"/>
<path d="M571.4,701.8L562.3,714.5" stroke="#cdbd44" stroke-width="1.6"/>
<path d="M562.3,714.5L553.2,727.2" stroke="#cf8c56" stroke-width="1.6"/>
<path d="M571.0,751.1L562.1,739.1" stroke="#cdbd44" stroke-width="1.8"/>
<path d="M562.1,739.1L553.2,727.2" stroke="#cf8c56" stroke-width="1.8"/>
<path d="M571.0,751.1L561.6,764.9" stroke="#cdbd44" stroke-width="1.8"/>
<path d="M561.6,764.9L552.2,778.6" stroke="#cf8c56" stroke-width="1.8"/>
<path d="M570.1,802.8L561.1,790.7" stroke="#cdbd44" stroke-width="2.1"/>
<path d="M561.1,790.7L552.2,778.6" stroke="#cf8c56" stroke-width="2.1"/>
<path d="M570.1,802.8L560.3,817.9" stroke="#cdbd44" stroke-width="2.1"/>
<path d="M560.3,817.9L550.6,833.1" stroke="#cf8c56" stroke-width="2.1"/>
<path d="M569.3,855.9L560.0,844.5" stroke="#cdbd44" stroke-width="2.2"/>
<path d="M560.0,844.5L550.6,833.1" stroke="#cf8c56" stroke-width="2.2"/>
<path d="M604.7,525.5L595.9,537.9" stroke="#7c9fca" stroke-width="2.2"/>
<path d="M595.9,537.9L587.0,550.3" stroke="#80bac2" stroke-width="2.2"/>
<path d="M605.0,579.0L596.0,564.6" stroke="#cdbd44" stroke-width="1.9"/>
<path d="M596.0,564.6L587.0,550.3" stroke="#80bac2" stroke-width="1.9"/>
<path d="M605.0,579.0L596.3,591.0" stroke="#cdbd44" stroke-width="1.9"/>
<path d="M596.3,591.0L587.7,603.0" stroke="#cf8c56" stroke-width="1.9"/>
<path d="M605.1,628.9L596.4,616.0" stroke="#cdbd44" stroke-width="1.6"/>
<path d="M596.4,616.0L587.7,603.0" stroke="#cf8c56" stroke-width="1.6"/>
<path d="M605.1,628.9L596.6,641.0" stroke="#cdbd44" stroke-width="1.6"/>
<path d="M596.6,641.0L588.1,653.1" stroke="#cf8c56" stroke-width="1.6"/>
<path d="M605.2,677.5L596.7,665.3" stroke="#cdbd44" stroke-width="1.3"/>
<path d="M596.7,665.3L588.1,653.1" stroke="#cf8c56" stroke-width="1.3"/>
<path d="M605.2,677.5L596.7,689.7" stroke="#cdbd44" stroke-width="1.3"/>
<path d="M596.7,689.7L588.1,701.9" stroke="#cf8c56" stroke-width="1.3"/>
<path d="M605.1,726.1L596.6,714.0" stroke="#cdbd44" stroke-width="1.6"/>
<path d="M596.6,714.0L588.1,701.9" stroke="#cf8c56" stroke-width="1.6"/>
<path d="M605.1,726.1L596.4,739.0" stroke="#cdbd44" stroke-width="1.6"/>
<path d="M596.4,739.0L587.7,752.0" stroke="#cf8c56" stroke-width="1.6"/>
<path d="M605.0,776.0L596.3,764.0" stroke="#cdbd44" stroke-width="1.9"/>
<path d="M596.3,764.0L587.7,752.0" stroke="#cf8c56" stroke-width="1.9"/>
<path d="M605.0,776.0L596.0,790.4" stroke="#cdbd44" stroke-width="1.9"/>
<path d="M596.0,790.4L587.0,804.7" stroke="#cf8c56" stroke-width="1.9"/>
<path d="M604.7,829.5L595.9,817.1" stroke="#cdbd44" stroke-width="2.2"/>
<path d="M595.9,817.1L587.0,804.7" stroke="#cf8c56" stroke-width="2.2"/>
<path d="M604.7,829.5L595.6,844.3" stroke="#cdbd44" stroke-width="2.2"/>
<path d="M595.6,844.3L586.5,859.0" stroke="#cf8c56" stroke-width="2.2"/>
<path d="M639.5,552.6L631.0,537.6" stroke="#7c9fca" stroke-width="2.1"/>
<path d="M631.0,537.6L622.4,522.6" stroke="#80bac2" stroke-width="2.1"/>
<path d="M639.5,552.6L630.8,565.0" stroke="#7c9fca" stroke-width="2.1"/>
<path d="M630.8,565.0L622.2,577.3" stroke="#cf8c56" stroke-width="2.1"/>
<path d="M639.0,604.0L630.6,590.7" stroke="#cdbd44" stroke-width="1.7"/>
<path d="M630.6,590.7L622.2,577.3" stroke="#cf8c56" stroke-width="1.7"/>
<path d="M639.0,604.0L630.5,616.2" stroke="#cdbd44" stroke-width="1.7"/>
<path d="M630.5,616.2L622.0,628.4" stroke="#cf8c56" stroke-width="1.7"/>
<path d="M638.6,653.3L630.3,640.9" stroke="#cdbd44" stroke-width="1.5"/>
<path d="M630.3,640.9L622.0,628.4" stroke="#cf8c56" stroke-width="1.5"/>
<path d="M638.6,653.3L630.2,665.4" stroke="#cdbd44" stroke-width="1.5"/>
<path d="M630.2,665.4L621.8,677.5" stroke="#cf8c56" stroke-width="1.5"/>
<path d="M638.6,701.7L630.2,689.6" stroke="#cdbd44" stroke-width="1.5"/>
<path d="M630.2,689.6L621.8,677.5" stroke="#cf8c56" stroke-width="1.5"/>
<path d="M638.6,701.7L630.3,714.1" stroke="#cdbd44" stroke-width="1.5"/>
<path d="M630.3,714.1L622.0,726.6" stroke="#cf8c56" stroke-width="1.5"/>
<path d="M639.0,751.0L630.5,738.8" stroke="#cdbd44" stroke-width="1.7"/>
<path d="M630.5,738.8L622.0,726.6" stroke="#cf8c56" stroke-width="1.7"/>
<path d="M639.0,751.0L630.6,764.3" stroke="#cdbd44" stroke-width="1.7"/>
<path d="M630.6,764.3L622.2,777.7" stroke="#cf8c56" stroke-width="1.7"/>
<path d="M639.5,802.4L630.8,790.0" stroke="#cdbd44" stroke-width="2.1"/>
<path d="M630.8,790.0L622.2,777.7" stroke="#cf8c56" stroke-width="2.1"/>
<path d="M639.5,802.4L631.0,817.4" stroke="#cdbd44" stroke-width="2.1"/>
<path d="M631.0,817.4L622.4,832.4" stroke="#cf8c56" stroke-width="2.1"/>
<path d="M640.0,855.9L631.2,844.2" stroke="#cdbd44" stroke-width="2.2"/>
<path d="M631.2,844.2L622.4,832.4" stroke="#cf8c56" stroke-width="2.2"/>
<path d="M675.3,524.6L666.5,537.2" stroke="#7c9fca" stroke-width="2.2"/>
<path d="M666.5,537.2L657.7,549.9" stroke="#80bac2" stroke-width="2.2"/>
<path d="M673.7,578.2L665.7,564.1" stroke="#cdbd44" stroke-width="2.0"/>
<path d="M665.7,564.1L657.7,549.9" stroke="#80bac2" stroke-width="2.0"/>
<path d="M673.7,578.2L665.2,590.5" stroke="#cdbd44" stroke-width="2.0"/>
<path d="M665.2,590.5L656.7,602.7" stroke="#cf8c56" stroke-width="2.0"/>
<path d="M672.9,628.5L664.8,615.6" stroke="#cdbd44" stroke-width="1.7"/>
<path d="M664.8,615.6L656.7,602.7" stroke="#cf8c56" stroke-width="1.7"/>
<path d="M672.9,628.5L664.5,640.7" stroke="#cdbd44" stroke-width="1.7"/>
<path d="M664.5,640.7L656.0,653.0" stroke="#cf8c56" stroke-width="1.7"/>
<path d="M672.6,677.5L664.3,665.2" stroke="#cdbd44" stroke-width="1.6"/>
<path d="M664.3,665.2L656.0,653.0" stroke="#cf8c56" stroke-width="1.6"/>
<path d="M672.6,677.5L664.3,689.8" stroke="#cdbd44" stroke-width="1.6"/>
<path d="M664.3,689.8L656.0,702.0" stroke="#cf8c56" stroke-width="1.6"/>
<path d="M672.9,726.5L664.5,714.3" stroke="#cdbd44" stroke-width="1.7"/>
<path d="M664.5,714.3L656.0,702.0" stroke="#cf8c56" stroke-width="1.7"/>
<path d="M672.9,726.5L664.8,739.4" stroke="#cdbd44" stroke-width="1.7"/>
<path d="M664.8,739.4L656.7,752.3" stroke="#cf8c56" stroke-width="1.7"/>
<path d="M673.7,776.8L665.2,764.5" stroke="#cdbd44" stroke-width="2.0"/>
<path d="M665.2,764.5L656.7,752.3" stroke="#cf8c56" stroke-width="2.0"/>
<path d="M673.7,776.8L665.7,790.9" stroke="#cdbd44" stroke-width="2.0"/>
<path d="M665.7,790.9L657.7,805.1" stroke="#cf8c56" stroke-width="2.0"/>
<path d="M675.3,830.4L666.5,817.8" stroke="#cdbd44" stroke-width="2.2"/>
<path d="M666.5,817.8L657.7,805.1" stroke="#cf8c56" stroke-width="2.2"/>
<path d="M675.3,830.4L666.9,844.7" stroke="#cdbd44" stroke-width="2.2"/>
<path d="M666.9,844.7L658.4,859.0" stroke="#cf8c56" stroke-width="2.2"/>
<path d="M710.6,550.2L702.5,536.0" stroke="#7c9fca" stroke-width="2.2"/>
<path d="M702.5,536.0L694.4,521.9" stroke="#80bac2" stroke-width="2.2"/>
<path d="M710.6,550.2L701.7,563.0" stroke="#7c9fca" stroke-width="2.2"/>
<path d="M701.7,563.0L692.9,575.7" stroke="#cf8c56" stroke-width="2.2"/>
<path d="M708.4,602.8L700.7,589.3" stroke="#cdbd44" stroke-width="2.0"/>
<path d="M700.7,589.3L692.9,575.7" stroke="#cf8c56" stroke-width="2.0"/>
<path d="M708.4,602.8L699.9,615.2" stroke="#cdbd44" stroke-width="2.0"/>
<path d="M699.9,615.2L691.5,627.5" stroke="#cf8c56" stroke-width="2.0"/>
<path d="M707.4,652.9L699.4,640.2" stroke="#cdbd44" stroke-width="1.9"/>
<path d="M699.4,640.2L691.5,627.5" stroke="#cf8c56" stroke-width="1.9"/>
<path d="M707.4,652.9L699.2,665.2" stroke="#cdbd44" stroke-width="1.9"/>
<path d="M699.2,665.2L691.0,677.5" stroke="#cf8c56" stroke-width="1.9"/>
<path d="M707.4,702.1L699.2,689.8" stroke="#cdbd44" stroke-width="1.9"/>
<path d="M699.2,689.8L691.0,677.5" stroke="#cf8c56" stroke-width="1.9"/>
<path d="M707.4,702.1L699.4,714.8" stroke="#cdbd44" stroke-width="1.9"/>
<path d="M699.4,714.8L691.5,727.5" stroke="#cf8c56" stroke-width="1.9"/>
<path d="M708.4,752.2L699.9,739.8" stroke="#cdbd44" stroke-width="2.0"/>
<path d="M699.9,739.8L691.5,727.5" stroke="#cf8c56" stroke-width="2.0"/>
<path d="M708.4,752.2L700.7,765.7" stroke="#cdbd44" stroke-width="2.0"/>
<path d="M700.7,765.7L692.9,779.3" stroke="#cf8c56" stroke-width="2.0"/>
<path d="M710.6,804.8L701.7,792.0" stroke="#cdbd44" stroke-width="2.2"/>
<path d="M701.7,792.0L692.9,779.3" stroke="#cf8c56" stroke-width="2.2"/>
<path d="M710.6,804.8L702.5,819.0" stroke="#cdbd44" stroke-width="2.2"/>
<path d="M702.5,819.0L694.4,833.1" stroke="#cf8c56" stroke-width="2.2"/>
<path d="M710.7,855.9L702.5,844.5" stroke="#cdbd44" stroke-width="2.2"/>
<path d="M702.5,844.5L694.4,833.1" stroke="#cf8c56" stroke-width="2.2"/>
<path d="M746.0,524.6L738.2,536.2" stroke="#7c9fca" stroke-width="2.2"/>
<path d="M738.2,536.2L730.4,547.8" stroke="#80bac2" stroke-width="2.2"/>
<path d="M746.0,575.5L738.2,561.7" stroke="#cdbd44" stroke-width="2.2"/>
<path d="M738.2,561.7L730.4,547.8" stroke="#80bac2" stroke-width="2.2"/>
<path d="M746.0,575.5L737.4,588.1" stroke="#cdbd44" stroke-width="2.2"/>
<path d="M737.4,588.1L728.9,600.7" stroke="#cf8c56" stroke-width="2.2"/>
<path d="M744.5,627.1L736.7,613.9" stroke="#cdbd44" stroke-width="2.2"/>
<path d="M736.7,613.9L728.9,600.7" stroke="#cf8c56" stroke-width="2.2"/>
<path d="M744.5,627.1L736.0,639.7" stroke="#cdbd44" stroke-width="2.2"/>
<path d="M736.0,639.7L727.4,652.2" stroke="#cf8c56" stroke-width="2.2"/>
<path d="M743.8,677.5L735.6,664.9" stroke="#cdbd44" stroke-width="2.1"/>
<path d="M735.6,664.9L727.4,652.2" stroke="#cf8c56" stroke-width="2.1"/>
<path d="M743.8,677.5L735.6,690.1" stroke="#cdbd44" stroke-width="2.1"/>
<path d="M735.6,690.1L727.4,702.8" stroke="#cf8c56" stroke-width="2.1"/>
<path d="M744.5,727.9L736.0,715.3" stroke="#cdbd44" stroke-width="2.2"/>
<path d="M736.0,715.3L727.4,702.8" stroke="#cf8c56" stroke-width="2.2"/>
<path d="M744.5,727.9L736.7,741.1" stroke="#cdbd44" stroke-width="2.2"/>
<path d="M736.7,741.1L728.9,754.3" stroke="#cf8c56" stroke-width="2.2"/>
<path d="M746.0,779.5L737.4,766.9" stroke="#cdbd44" stroke-width="2.2"/>
<path d="M737.4,766.9L728.9,754.3" stroke="#cf8c56" stroke-width="2.2"/>
<path d="M746.0,779.5L738.2,793.3" stroke="#cdbd44" stroke-width="2.2"/>
<path d="M738.2,793.3L730.4,807.2" stroke="#cf8c56" stroke-width="2.2"/>
<path d="M746.0,830.4L738.2,818.8" stroke="#cdbd44" stroke-width="2.2"/>
<path d="M738.2,818.8L730.4,807.2" stroke="#cf8c56" stroke-width="2.2"/>
<path d="M746.0,830.4L738.2,844.7" stroke="#cdbd44" stroke-width="2.2"/>
<path d="M738.2,844.7L730.4,859.0" stroke="#cf8c56" stroke-width="2.2"/>
<circle cx="463.3" cy="524.6" r="6.6" fill="url(#ab3)"/>
<circle cx="463.3" cy="575.5" r="6.5" fill="url(#ay3)"/>
<circle cx="463.5" cy="626.6" r="6.4" fill="url(#ay3)"/>
<circle cx="464.2" cy="677.5" r="6.4" fill="url(#ay3)"/>
<circle cx="463.5" cy="728.4" r="6.4" fill="url(#ay3)"/>
<circle cx="463.3" cy="779.5" r="6.5" fill="url(#ay3)"/>
<circle cx="463.3" cy="830.4" r="6.5" fill="url(#ay3)"/>
<circle cx="498.6" cy="550.0" r="6.6" fill="url(#ab3)"/>
<circle cx="500.3" cy="602.1" r="6.4" fill="url(#ay3)"/>
<circle cx="501.7" cy="652.7" r="6.3" fill="url(#ay3)"/>
<circle cx="501.7" cy="702.3" r="6.3" fill="url(#ay3)"/>
<circle cx="500.3" cy="752.9" r="6.4" fill="url(#ay3)"/>
<circle cx="498.6" cy="805.0" r="6.5" fill="url(#ay3)"/>
<circle cx="534.0" cy="524.6" r="6.6" fill="url(#ab3)"/>
<circle cx="535.6" cy="577.6" r="6.3" fill="url(#ay3)"/>
<circle cx="536.8" cy="628.3" r="6.2" fill="url(#ay3)"/>
<circle cx="537.1" cy="677.5" r="6.2" fill="url(#ay3)"/>
<circle cx="536.8" cy="726.7" r="6.2" fill="url(#ay3)"/>
<circle cx="535.6" cy="777.4" r="6.3" fill="url(#ay3)"/>
<circle cx="534.0" cy="830.4" r="6.5" fill="url(#ay3)"/>
<circle cx="570.1" cy="552.2" r="6.5" fill="url(#ab3)"/>
<circle cx="571.0" cy="603.9" r="6.2" fill="url(#ay3)"/>
<circle cx="571.4" cy="653.2" r="6.1" fill="url(#ay3)"/>
<circle cx="571.4" cy="701.8" r="6.1" fill="url(#ay3)"/>
<circle cx="571.0" cy="751.1" r="6.2" fill="url(#ay3)"/>
<circle cx="570.1" cy="802.8" r="6.3" fill="url(#ay3)"/>
<circle cx="604.7" cy="525.5" r="6.6" fill="url(#ab3)"/>
<circle cx="605.0" cy="579.0" r="6.2" fill="url(#ay3)"/>
<circle cx="605.1" cy="628.9" r="6.1" fill="url(#ay3)"/>
<circle cx="605.2" cy="677.5" r="6.1" fill="url(#ay3)"/>
<circle cx="605.1" cy="726.1" r="6.1" fill="url(#ay3)"/>
<circle cx="605.0" cy="776.0" r="6.2" fill="url(#ay3)"/>
<circle cx="604.7" cy="829.5" r="6.4" fill="url(#ay3)"/>
<circle cx="639.5" cy="552.6" r="6.5" fill="url(#ab3)"/>
<circle cx="639.0" cy="604.0" r="6.2" fill="url(#ay3)"/>
<circle cx="638.6" cy="653.3" r="6.1" fill="url(#ay3)"/>
<circle cx="638.6" cy="701.7" r="6.1" fill="url(#ay3)"/>
<circle cx="639.0" cy="751.0" r="6.2" fill="url(#ay3)"/>
<circle cx="639.5" cy="802.4" r="6.3" fill="url(#ay3)"/>
<circle cx="675.3" cy="524.6" r="6.6" fill="url(#ab3)"/>
<circle cx="673.7" cy="578.2" r="6.3" fill="url(#ay3)"/>
<circle cx="672.9" cy="628.5" r="6.2" fill="url(#ay3)"/>
<circle cx="672.6" cy="677.5" r="6.2" fill="url(#ay3)"/>
<circle cx="672.9" cy="726.5" r="6.2" fill="url(#ay3)"/>
<circle cx="673.7" cy="776.8" r="6.3" fill="url(#ay3)"/>
<circle cx="675.3" cy="830.4" r="6.5" fill="url(#ay3)"/>
<circle cx="710.6" cy="550.2" r="6.6" fill="url(#ab3)"/>
<circle cx="708.4" cy="602.8" r="6.3" fill="url(#ay3)"/>
<circle cx="707.4" cy="652.9" r="6.2" fill="url(#ay3)"/>
<circle cx="707.4" cy="702.1" r="6.2" fill="url(#ay3)"/>
<circle cx="708.4" cy="752.2" r="6.3" fill="url(#ay3)"/>
<circle cx="710.6" cy="804.8" r="6.4" fill="url(#ay3)"/>
<path d="M428.0,550.0L435.3,548.9" stroke="#7c9fca" stroke-width="2.2"/>
<path d="M435.3,548.9L442.7,547.8" stroke="#80bac2" stroke-width="2.2"/>
<path d="M428.0,601.0L435.3,600.4" stroke="#cdbd44" stroke-width="2.2"/>
<path d="M435.3,600.4L442.7,599.7" stroke="#cf8c56" stroke-width="2.2"/>
<path d="M428.0,652.0L435.3,651.8" stroke="#cdbd44" stroke-width="2.2"/>
<path d="M435.3,651.8L442.7,651.6" stroke="#cf8c56" stroke-width="2.2"/>
<path d="M428.0,703.0L435.3,703.2" stroke="#cdbd44" stroke-width="2.2"/>
<path d="M435.3,703.2L442.7,703.4" stroke="#cf8c56" stroke-width="2.2"/>
<path d="M428.0,754.0L435.3,754.6" stroke="#cdbd44" stroke-width="2.2"/>
<path d="M435.3,754.6L442.7,755.3" stroke="#cf8c56" stroke-width="2.2"/>
<path d="M428.0,805.0L435.3,806.1" stroke="#cdbd44" stroke-width="2.2"/>
<path d="M435.3,806.1L442.7,807.2" stroke="#cf8c56" stroke-width="2.2"/>
<path d="M463.3,524.6L471.0,523.2" stroke="#7c9fca" stroke-width="2.2"/>
<path d="M471.0,523.2L478.7,521.9" stroke="#80bac2" stroke-width="2.2"/>
<path d="M463.3,575.5L471.0,574.7" stroke="#cdbd44" stroke-width="2.2"/>
<path d="M471.0,574.7L478.7,573.8" stroke="#cf8c56" stroke-width="2.2"/>
<path d="M463.5,626.6L471.7,626.4" stroke="#cdbd44" stroke-width="2.2"/>
<path d="M471.7,626.4L480.0,626.1" stroke="#cf8c56" stroke-width="2.2"/>
<path d="M464.2,677.5L472.5,677.5" stroke="#cdbd44" stroke-width="2.2"/>
<path d="M472.5,677.5L480.8,677.5" stroke="#cf8c56" stroke-width="2.2"/>
<path d="M463.5,728.4L471.7,728.6" stroke="#cdbd44" stroke-width="2.2"/>
<path d="M471.7,728.6L480.0,728.9" stroke="#cf8c56" stroke-width="2.2"/>
<path d="M463.3,779.5L471.0,780.3" stroke="#cdbd44" stroke-width="2.2"/>
<path d="M471.0,780.3L478.7,781.2" stroke="#cf8c56" stroke-width="2.2"/>
<path d="M463.3,830.4L471.0,831.8" stroke="#cdbd44" stroke-width="2.2"/>
<path d="M471.0,831.8L478.7,833.1" stroke="#cf8c56" stroke-width="2.2"/>
<path d="M498.6,550.0L506.6,548.9" stroke="#7c9fca" stroke-width="2.2"/>
<path d="M506.6,548.9L514.6,547.8" stroke="#80bac2" stroke-width="2.2"/>
<path d="M500.3,602.1L508.5,601.8" stroke="#cdbd44" stroke-width="2.1"/>
<path d="M508.5,601.8L516.8,601.4" stroke="#cf8c56" stroke-width="2.1"/>
<path d="M501.7,652.7L509.8,652.6" stroke="#cdbd44" stroke-width="2.0"/>
<path d="M509.8,652.6L518.0,652.4" stroke="#cf8c56" stroke-width="2.0"/>
<path d="M501.7,702.3L509.8,702.4" stroke="#cdbd44" stroke-width="2.0"/>
<path d="M509.8,702.4L518.0,702.6" stroke="#cf8c56" stroke-width="2.0"/>
<path d="M500.3,752.9L508.5,753.2" stroke="#cdbd44" stroke-width="2.1"/>
<path d="M508.5,753.2L516.8,753.6" stroke="#cf8c56" stroke-width="2.1"/>
<path d="M498.6,805.0L506.6,806.1" stroke="#cdbd44" stroke-width="2.2"/>
<path d="M506.6,806.1L514.6,807.2" stroke="#cf8c56" stroke-width="2.2"/>
<path d="M534.0,524.6L542.3,523.2" stroke="#7c9fca" stroke-width="2.2"/>
<path d="M542.3,523.2L550.6,521.9" stroke="#80bac2" stroke-width="2.2"/>
<path d="M535.6,577.6L543.9,577.0" stroke="#cdbd44" stroke-width="2.1"/>
<path d="M543.9,577.0L552.2,576.4" stroke="#cf8c56" stroke-width="2.1"/>
<path d="M536.8,628.3L545.0,628.1" stroke="#cdbd44" stroke-width="1.8"/>
<path d="M545.0,628.1L553.2,627.8" stroke="#cf8c56" stroke-width="1.8"/>
<path d="M537.1,677.5L545.4,677.5" stroke="#cdbd44" stroke-width="1.7"/>
<path d="M545.4,677.5L553.7,677.5" stroke="#cf8c56" stroke-width="1.7"/>
<path d="M536.8,726.7L545.0,726.9" stroke="#cdbd44" stroke-width="1.8"/>
<path d="M545.0,726.9L553.2,727.2" stroke="#cf8c56" stroke-width="1.8"/>
<path d="M535.6,777.4L543.9,778.0" stroke="#cdbd44" stroke-width="2.1"/>
<path d="M543.9,778.0L552.2,778.6" stroke="#cf8c56" stroke-width="2.1"/>
<path d="M534.0,830.4L542.3,831.8" stroke="#cdbd44" stroke-width="2.2"/>
<path d="M542.3,831.8L550.6,833.1" stroke="#cf8c56" stroke-width="2.2"/>
<path d="M570.1,552.2L578.6,551.3" stroke="#7c9fca" stroke-width="2.1"/>
<path d="M578.6,551.3L587.0,550.3" stroke="#80bac2" stroke-width="2.1"/>
<path d="M571.0,603.9L579.3,603.4" stroke="#cdbd44" stroke-width="1.8"/>
<path d="M579.3,603.4L587.7,603.0" stroke="#cf8c56" stroke-width="1.8"/>
<path d="M571.4,653.2L579.8,653.2" stroke="#cdbd44" stroke-width="1.6"/>
<path d="M579.8,653.2L588.1,653.1" stroke="#cf8c56" stroke-width="1.6"/>
<path d="M571.4,701.8L579.8,701.8" stroke="#cdbd44" stroke-width="1.6"/>
<path d="M579.8,701.8L588.1,701.9" stroke="#cf8c56" stroke-width="1.6"/>
<path d="M571.0,751.1L579.3,751.6" stroke="#cdbd44" stroke-width="1.8"/>
<path d="M579.3,751.6L587.7,752.0" stroke="#cf8c56" stroke-width="1.8"/>
<path d="M570.1,802.8L578.6,803.7" stroke="#cdbd44" stroke-width="2.1"/>
<path d="M578.6,803.7L587.0,804.7" stroke="#cf8c56" stroke-width="2.1"/>
<path d="M604.7,525.5L613.6,524.0" stroke="#7c9fca" stroke-width="2.2"/>
<path d="M613.6,524.0L622.4,522.6" stroke="#80bac2" stroke-width="2.2"/>
<path d="M605.0,579.0L613.6,578.1" stroke="#cdbd44" stroke-width="1.9"/>
<path d="M613.6,578.1L622.2,577.3" stroke="#cf8c56" stroke-width="1.9"/>
<path d="M605.1,628.9L613.5,628.7" stroke="#cdbd44" stroke-width="1.6"/>
<path d="M613.5,628.7L622.0,628.4" stroke="#cf8c56" stroke-width="1.6"/>
<path d="M605.2,677.5L613.5,677.5" stroke="#cdbd44" stroke-width="1.3"/>
<path d="M613.5,677.5L621.8,677.5" stroke="#cf8c56" stroke-width="1.3"/>
<path d="M605.1,726.1L613.5,726.3" stroke="#cdbd44" stroke-width="1.6"/>
<path d="M613.5,726.3L622.0,726.6" stroke="#cf8c56" stroke-width="1.6"/>
<path d="M605.0,776.0L613.6,776.9" stroke="#cdbd44" stroke-width="1.9"/>
<path d="M613.6,776.9L622.2,777.7" stroke="#cf8c56" stroke-width="1.9"/>
<path d="M604.7,829.5L613.6,831.0" stroke="#cdbd44" stroke-width="2.2"/>
<path d="M613.6,831.0L622.4,832.4" stroke="#cf8c56" stroke-width="2.2"/>
<path d="M639.5,552.6L648.6,551.2" stroke="#7c9fca" stroke-width="2.1"/>
<path d="M648.6,551.2L657.7,549.9" stroke="#80bac2" stroke-width="2.1"/>
<path d="M639.0,604.0L647.8,603.4" stroke="#cdbd44" stroke-width="1.7"/>
<path d="M647.8,603.4L656.7,602.7" stroke="#cf8c56" stroke-width="1.7"/>
<path d="M638.6,653.3L647.3,653.1" stroke="#cdbd44" stroke-width="1.5"/>
<path d="M647.3,653.1L656.0,653.0" stroke="#cf8c56" stroke-width="1.5"/>
<path d="M638.6,701.7L647.3,701.9" stroke="#cdbd44" stroke-width="1.5"/>
<path d="M647.3,701.9L656.0,702.0" stroke="#cf8c56" stroke-width="1.5"/>
<path d="M639.0,751.0L647.8,751.6" stroke="#cdbd44" stroke-width="1.7"/>
<path d="M647.8,751.6L656.7,752.3" stroke="#cf8c56" stroke-width="1.7"/>
<path d="M639.5,802.4L648.6,803.8" stroke="#cdbd44" stroke-width="2.1"/>
<path d="M648.6,803.8L657.7,805.1" stroke="#cf8c56" stroke-width="2.1"/>
<path d="M675.3,524.6L684.9,523.2" stroke="#7c9fca" stroke-width="2.2"/>
<path d="M684.9,523.2L694.4,521.9" stroke="#80bac2" stroke-width="2.2"/>
<path d="M673.7,578.2L683.3,577.0" stroke="#cdbd44" stroke-width="2.0"/>
<path d="M683.3,577.0L692.9,575.7" stroke="#cf8c56" stroke-width="2.0"/>
<path d="M672.9,628.5L682.2,628.0" stroke="#cdbd44" stroke-width="1.7"/>
<path d="M682.2,628.0L691.5,627.5" stroke="#cf8c56" stroke-width="1.7"/>
<path d="M672.6,677.5L681.8,677.5" stroke="#cdbd44" stroke-width="1.6"/>
<path d="M681.8,677.5L691.0,677.5" stroke="#cf8c56" stroke-width="1.6"/>
<path d="M672.9,726.5L682.2,727.0" stroke="#cdbd44" stroke-width="1.7"/>
<path d="M682.2,727.0L691.5,727.5" stroke="#cf8c56" stroke-width="1.7"/>
<path d="M673.7,776.8L683.3,778.0" stroke="#cdbd44" stroke-width="2.0"/>
<path d="M683.3,778.0L692.9,779.3" stroke="#cf8c56" stroke-width="2.0"/>
<path d="M675.3,830.4L684.9,831.8" stroke="#cdbd44" stroke-width="2.2"/>
<path d="M684.9,831.8L694.4,833.1" stroke="#cf8c56" stroke-width="2.2"/>
<path d="M710.6,550.2L720.5,549.0" stroke="#7c9fca" stroke-width="2.2"/>
<path d="M720.5,549.0L730.4,547.8" stroke="#80bac2" stroke-width="2.2"/>
<path d="M708.4,602.8L718.6,601.8" stroke="#cdbd44" stroke-width="2.0"/>
<path d="M718.6,601.8L728.9,600.7" stroke="#cf8c56" stroke-width="2.0"/>
<path d="M707.4,652.9L717.4,652.5" stroke="#cdbd44" stroke-width="1.9"/>
<path d="M717.4,652.5L727.4,652.2" stroke="#cf8c56" stroke-width="1.9"/>
<path d="M707.4,702.1L717.4,702.5" stroke="#cdbd44" stroke-width="1.9"/>
<path d="M717.4,702.5L727.4,702.8" stroke="#cf8c56" stroke-width="1.9"/>
<path d="M708.4,752.2L718.6,753.2" stroke="#cdbd44" stroke-width="2.0"/>
<path d="M718.6,753.2L728.9,754.3" stroke="#cf8c56" stroke-width="2.0"/>
<path d="M710.6,804.8L720.5,806.0" stroke="#cdbd44" stroke-width="2.2"/>
<path d="M720.5,806.0L730.4,807.2" stroke="#cf8c56" stroke-width="2.2"/>
<circle cx="442.7" cy="547.8" r="5.8" fill="url(#ac2)"/>
<circle cx="442.7" cy="599.7" r="5.9" fill="url(#ao2)"/>
<circle cx="442.7" cy="651.6" r="5.9" fill="url(#ao2)"/>
<circle cx="442.7" cy="703.4" r="5.9" fill="url(#ao2)"/>
<circle cx="442.7" cy="755.3" r="5.9" fill="url(#ao2)"/>
<circle cx="442.7" cy="807.2" r="5.9" fill="url(#ao2)"/>
<circle cx="478.7" cy="521.9" r="5.8" fill="url(#ac2)"/>
<circle cx="478.7" cy="573.8" r="5.9" fill="url(#ao2)"/>
<circle cx="480.0" cy="626.1" r="5.8" fill="url(#ao2)"/>
<circle cx="480.8" cy="677.5" r="5.8" fill="url(#ao2)"/>
<circle cx="480.0" cy="728.9" r="5.8" fill="url(#ao2)"/>
<circle cx="478.7" cy="781.2" r="5.9" fill="url(#ao2)"/>
<circle cx="478.7" cy="833.1" r="5.9" fill="url(#ao2)"/>
<circle cx="514.6" cy="547.8" r="5.8" fill="url(#ac2)"/>
<circle cx="516.8" cy="601.4" r="5.8" fill="url(#ao2)"/>
<circle cx="518.0" cy="652.4" r="5.7" fill="url(#ao2)"/>
<circle cx="518.0" cy="702.6" r="5.7" fill="url(#ao2)"/>
<circle cx="516.8" cy="753.6" r="5.8" fill="url(#ao2)"/>
<circle cx="514.6" cy="807.2" r="5.9" fill="url(#ao2)"/>
<circle cx="550.6" cy="521.9" r="5.8" fill="url(#ac2)"/>
<circle cx="552.2" cy="576.4" r="5.7" fill="url(#ao2)"/>
<circle cx="553.2" cy="627.8" r="5.6" fill="url(#ao2)"/>
<circle cx="553.7" cy="677.5" r="5.6" fill="url(#ao2)"/>
<circle cx="553.2" cy="727.2" r="5.6" fill="url(#ao2)"/>
<circle cx="552.2" cy="778.6" r="5.7" fill="url(#ao2)"/>
<circle cx="550.6" cy="833.1" r="5.9" fill="url(#ao2)"/>
<circle cx="587.0" cy="550.3" r="5.7" fill="url(#ac2)"/>
<circle cx="587.7" cy="603.0" r="5.6" fill="url(#ao2)"/>
<circle cx="588.1" cy="653.1" r="5.5" fill="url(#ao2)"/>
<circle cx="588.1" cy="701.9" r="5.5" fill="url(#ao2)"/>
<circle cx="587.7" cy="752.0" r="5.6" fill="url(#ao2)"/>
<circle cx="587.0" cy="804.7" r="5.8" fill="url(#ao2)"/>
<circle cx="622.4" cy="522.6" r="5.8" fill="url(#ac2)"/>
<circle cx="622.2" cy="577.3" r="5.7" fill="url(#ao2)"/>
<circle cx="622.0" cy="628.4" r="5.6" fill="url(#ao2)"/>
<circle cx="621.8" cy="677.5" r="5.5" fill="url(#ao2)"/>
<circle cx="622.0" cy="726.6" r="5.6" fill="url(#ao2)"/>
<circle cx="622.2" cy="777.7" r="5.7" fill="url(#ao2)"/>
<circle cx="622.4" cy="832.4" r="5.9" fill="url(#ao2)"/>
<circle cx="657.7" cy="549.9" r="5.7" fill="url(#ac2)"/>
<circle cx="656.7" cy="602.7" r="5.7" fill="url(#ao2)"/>
<circle cx="656.0" cy="653.0" r="5.6" fill="url(#ao2)"/>
<circle cx="656.0" cy="702.0" r="5.6" fill="url(#ao2)"/>
<circle cx="656.7" cy="752.3" r="5.7" fill="url(#ao2)"/>
<circle cx="657.7" cy="805.1" r="5.8" fill="url(#ao2)"/>
<circle cx="694.4" cy="521.9" r="5.8" fill="url(#ac2)"/>
<circle cx="692.9" cy="575.7" r="5.8" fill="url(#ao2)"/>
<circle cx="691.5" cy="627.5" r="5.7" fill="url(#ao2)"/>
<circle cx="691.0" cy="677.5" r="5.6" fill="url(#ao2)"/>
<circle cx="691.5" cy="727.5" r="5.7" fill="url(#ao2)"/>
<circle cx="692.9" cy="779.3" r="5.8" fill="url(#ao2)"/>
<circle cx="694.4" cy="833.1" r="5.9" fill="url(#ao2)"/>
<circle cx="730.4" cy="547.8" r="5.8" fill="url(#ac2)"/>
<circle cx="728.9" cy="600.7" r="5.8" fill="url(#ao2)"/>
<circle cx="727.4" cy="652.2" r="5.7" fill="url(#ao2)"/>
<circle cx="727.4" cy="702.8" r="5.7" fill="url(#ao2)"/>
<circle cx="728.9" cy="754.3" r="5.8" fill="url(#ao2)"/>
<circle cx="730.4" cy="807.2" r="5.9" fill="url(#ao2)"/>
<path d="M421.4,545.5L432.1,546.7" stroke="#7c9fca" stroke-width="2.3"/>
<path d="M432.1,546.7L442.7,547.8" stroke="#80bac2" stroke-width="2.3"/>
<path d="M421.4,598.3L432.1,599.0" stroke="#cdbd44" stroke-width="2.3"/>
<path d="M432.1,599.0L442.7,599.7" stroke="#cf8c56" stroke-width="2.3"/>
<path d="M421.4,651.1L432.1,651.3" stroke="#cdbd44" stroke-width="2.3"/>
<path d="M432.1,651.3L442.7,651.6" stroke="#cf8c56" stroke-width="2.3"/>
<path d="M421.4,703.9L432.1,703.7" stroke="#cdbd44" stroke-width="2.3"/>
<path d="M432.1,703.7L442.7,703.4" stroke="#cf8c56" stroke-width="2.3"/>
<path d="M421.4,756.7L432.1,756.0" stroke="#cdbd44" stroke-width="2.3"/>
<path d="M432.1,756.0L442.7,755.3" stroke="#cf8c56" stroke-width="2.3"/>
<path d="M421.4,809.5L432.1,808.3" stroke="#cdbd44" stroke-width="2.3"/>
<path d="M432.1,808.3L442.7,807.2" stroke="#cf8c56" stroke-width="2.3"/>
<path d="M458.0,519.2L468.3,520.5" stroke="#7c9fca" stroke-width="2.3"/>
<path d="M468.3,520.5L478.7,521.9" stroke="#80bac2" stroke-width="2.3"/>
<path d="M458.0,571.9L468.3,572.9" stroke="#cdbd44" stroke-width="2.3"/>
<path d="M468.3,572.9L478.7,573.8" stroke="#cf8c56" stroke-width="2.3"/>
<path d="M458.0,624.7L469.0,625.4" stroke="#cdbd44" stroke-width="2.3"/>
<path d="M469.0,625.4L480.0,626.1" stroke="#cf8c56" stroke-width="2.3"/>
<path d="M458.4,677.5L469.6,677.5" stroke="#cdbd44" stroke-width="2.3"/>
<path d="M469.6,677.5L480.8,677.5" stroke="#cf8c56" stroke-width="2.3"/>
<path d="M458.0,730.3L469.0,729.6" stroke="#cdbd44" stroke-width="2.3"/>
<path d="M469.0,729.6L480.0,728.9" stroke="#cf8c56" stroke-width="2.3"/>
<path d="M458.0,783.1L468.3,782.1" stroke="#cdbd44" stroke-width="2.3"/>
<path d="M468.3,782.1L478.7,781.2" stroke="#cf8c56" stroke-width="2.3"/>
<path d="M458.0,835.8L468.3,834.5" stroke="#cdbd44" stroke-width="2.3"/>
<path d="M468.3,834.5L478.7,833.1" stroke="#cf8c56" stroke-width="2.3"/>
<path d="M494.6,545.5L504.6,546.7" stroke="#7c9fca" stroke-width="2.3"/>
<path d="M504.6,546.7L514.6,547.8" stroke="#80bac2" stroke-width="2.3"/>
<path d="M495.9,599.2L506.4,600.3" stroke="#cdbd44" stroke-width="2.2"/>
<path d="M506.4,600.3L516.8,601.4" stroke="#cf8c56" stroke-width="2.2"/>
<path d="M497.4,651.7L507.7,652.1" stroke="#cdbd44" stroke-width="2.1"/>
<path d="M507.7,652.1L518.0,652.4" stroke="#cf8c56" stroke-width="2.1"/>
<path d="M497.4,703.3L507.7,702.9" stroke="#cdbd44" stroke-width="2.1"/>
<path d="M507.7,702.9L518.0,702.6" stroke="#cf8c56" stroke-width="2.1"/>
<path d="M495.9,755.8L506.4,754.7" stroke="#cdbd44" stroke-width="2.2"/>
<path d="M506.4,754.7L516.8,753.6" stroke="#cf8c56" stroke-width="2.2"/>
<path d="M494.6,809.5L504.6,808.3" stroke="#cdbd44" stroke-width="2.3"/>
<path d="M504.6,808.3L514.6,807.2" stroke="#cf8c56" stroke-width="2.3"/>
<path d="M531.2,519.2L540.9,520.5" stroke="#7c9fca" stroke-width="2.3"/>
<path d="M540.9,520.5L550.6,521.9" stroke="#80bac2" stroke-width="2.3"/>
<path d="M532.6,573.8L542.4,575.1" stroke="#cdbd44" stroke-width="2.2"/>
<path d="M542.4,575.1L552.2,576.4" stroke="#cf8c56" stroke-width="2.2"/>
<path d="M534.2,626.7L543.7,627.3" stroke="#cdbd44" stroke-width="1.9"/>
<path d="M543.7,627.3L553.2,627.8" stroke="#cf8c56" stroke-width="1.9"/>
<path d="M534.9,677.5L544.3,677.5" stroke="#cdbd44" stroke-width="1.8"/>
<path d="M544.3,677.5L553.7,677.5" stroke="#cf8c56" stroke-width="1.8"/>
<path d="M534.2,728.3L543.7,727.7" stroke="#cdbd44" stroke-width="1.9"/>
<path d="M543.7,727.7L553.2,727.2" stroke="#cf8c56" stroke-width="1.9"/>
<path d="M532.6,781.2L542.4,779.9" stroke="#cdbd44" stroke-width="2.2"/>
<path d="M542.4,779.9L552.2,778.6" stroke="#cf8c56" stroke-width="2.2"/>
<path d="M531.2,835.8L540.9,834.5" stroke="#cdbd44" stroke-width="2.3"/>
<path d="M540.9,834.5L550.6,833.1" stroke="#cf8c56" stroke-width="2.3"/>
<path d="M568.4,547.4L577.7,548.8" stroke="#7c9fca" stroke-width="2.2"/>
<path d="M577.7,548.8L587.0,550.3" stroke="#80bac2" stroke-width="2.2"/>
<path d="M569.6,601.6L578.7,602.3" stroke="#cdbd44" stroke-width="1.9"/>
<path d="M578.7,602.3L587.7,603.0" stroke="#cf8c56" stroke-width="1.9"/>
<path d="M570.5,652.7L579.3,652.9" stroke="#cdbd44" stroke-width="1.6"/>
<path d="M579.3,652.9L588.1,653.1" stroke="#cf8c56" stroke-width="1.6"/>
<path d="M570.5,702.3L579.3,702.1" stroke="#cdbd44" stroke-width="1.6"/>
<path d="M579.3,702.1L588.1,701.9" stroke="#cf8c56" stroke-width="1.6"/>
<path d="M569.6,753.4L578.7,752.7" stroke="#cdbd44" stroke-width="1.9"/>
<path d="M578.7,752.7L587.7,752.0" stroke="#cf8c56" stroke-width="1.9"/>
<path d="M568.4,807.6L577.7,806.2" stroke="#cdbd44" stroke-width="2.2"/>
<path d="M577.7,806.2L587.0,804.7" stroke="#cf8c56" stroke-width="2.2"/>
<path d="M604.4,519.6L613.4,521.1" stroke="#7c9fca" stroke-width="2.3"/>
<path d="M613.4,521.1L622.4,522.6" stroke="#80bac2" stroke-width="2.3"/>
<path d="M604.7,575.5L613.4,576.4" stroke="#cdbd44" stroke-width="2.0"/>
<path d="M613.4,576.4L622.2,577.3" stroke="#cf8c56" stroke-width="2.0"/>
<path d="M604.9,627.9L613.5,628.2" stroke="#cdbd44" stroke-width="1.6"/>
<path d="M613.5,628.2L622.0,628.4" stroke="#cf8c56" stroke-width="1.6"/>
<path d="M605.1,677.5L613.5,677.5" stroke="#cdbd44" stroke-width="1.3"/>
<path d="M613.5,677.5L621.8,677.5" stroke="#cf8c56" stroke-width="1.3"/>
<path d="M604.9,727.1L613.5,726.8" stroke="#cdbd44" stroke-width="1.6"/>
<path d="M613.5,726.8L622.0,726.6" stroke="#cf8c56" stroke-width="1.6"/>
<path d="M604.7,779.5L613.4,778.6" stroke="#cdbd44" stroke-width="2.0"/>
<path d="M613.4,778.6L622.2,777.7" stroke="#cf8c56" stroke-width="2.0"/>
<path d="M604.4,835.4L613.4,833.9" stroke="#cdbd44" stroke-width="2.3"/>
<path d="M613.4,833.9L622.4,832.4" stroke="#cf8c56" stroke-width="2.3"/>
<path d="M640.5,547.8L649.1,548.9" stroke="#7c9fca" stroke-width="2.2"/>
<path d="M649.1,548.9L657.7,549.9" stroke="#80bac2" stroke-width="2.2"/>
<path d="M639.7,601.9L648.2,602.3" stroke="#cdbd44" stroke-width="1.8"/>
<path d="M648.2,602.3L656.7,602.7" stroke="#cf8c56" stroke-width="1.8"/>
<path d="M639.1,652.9L647.6,652.9" stroke="#cdbd44" stroke-width="1.5"/>
<path d="M647.6,652.9L656.0,653.0" stroke="#cf8c56" stroke-width="1.5"/>
<path d="M639.1,702.1L647.6,702.1" stroke="#cdbd44" stroke-width="1.5"/>
<path d="M647.6,702.1L656.0,702.0" stroke="#cf8c56" stroke-width="1.5"/>
<path d="M639.7,753.1L648.2,752.7" stroke="#cdbd44" stroke-width="1.8"/>
<path d="M648.2,752.7L656.7,752.3" stroke="#cf8c56" stroke-width="1.8"/>
<path d="M640.5,807.2L649.1,806.1" stroke="#cdbd44" stroke-width="2.2"/>
<path d="M649.1,806.1L657.7,805.1" stroke="#cf8c56" stroke-width="2.2"/>
<path d="M677.5,519.2L686.0,520.5" stroke="#7c9fca" stroke-width="2.3"/>
<path d="M686.0,520.5L694.4,521.9" stroke="#80bac2" stroke-width="2.3"/>
<path d="M676.0,574.5L684.4,575.1" stroke="#cdbd44" stroke-width="2.1"/>
<path d="M684.4,575.1L692.9,575.7" stroke="#cf8c56" stroke-width="2.1"/>
<path d="M674.7,627.1L683.1,627.3" stroke="#cdbd44" stroke-width="1.8"/>
<path d="M683.1,627.3L691.5,627.5" stroke="#cf8c56" stroke-width="1.8"/>
<path d="M674.1,677.5L682.5,677.5" stroke="#cdbd44" stroke-width="1.7"/>
<path d="M682.5,677.5L691.0,677.5" stroke="#cf8c56" stroke-width="1.7"/>
<path d="M674.7,727.9L683.1,727.7" stroke="#cdbd44" stroke-width="1.8"/>
<path d="M683.1,727.7L691.5,727.5" stroke="#cf8c56" stroke-width="1.8"/>
<path d="M676.0,780.5L684.4,779.9" stroke="#cdbd44" stroke-width="2.1"/>
<path d="M684.4,779.9L692.9,779.3" stroke="#cf8c56" stroke-width="2.1"/>
<path d="M677.5,835.8L686.0,834.5" stroke="#cdbd44" stroke-width="2.3"/>
<path d="M686.0,834.5L694.4,833.1" stroke="#cf8c56" stroke-width="2.3"/>
<path d="M714.1,545.5L722.2,546.7" stroke="#7c9fca" stroke-width="2.3"/>
<path d="M722.2,546.7L730.4,547.8" stroke="#80bac2" stroke-width="2.3"/>
<path d="M712.1,600.0L720.5,600.3" stroke="#cdbd44" stroke-width="2.1"/>
<path d="M720.5,600.3L728.9,600.7" stroke="#cf8c56" stroke-width="2.1"/>
<path d="M710.7,652.0L719.1,652.1" stroke="#cdbd44" stroke-width="1.9"/>
<path d="M719.1,652.1L727.4,652.2" stroke="#cf8c56" stroke-width="1.9"/>
<path d="M710.7,703.0L719.1,702.9" stroke="#cdbd44" stroke-width="1.9"/>
<path d="M719.1,702.9L727.4,702.8" stroke="#cf8c56" stroke-width="1.9"/>
<path d="M712.1,755.0L720.5,754.7" stroke="#cdbd44" stroke-width="2.1"/>
<path d="M720.5,754.7L728.9,754.3" stroke="#cf8c56" stroke-width="2.1"/>
<path d="M714.1,809.5L722.2,808.3" stroke="#cdbd44" stroke-width="2.3"/>
<path d="M722.2,808.3L730.4,807.2" stroke="#cf8c56" stroke-width="2.3"/>
<path d="M458.0,519.2L447.3,531.2" stroke="#7c9fca" stroke-width="2.3"/>
<path d="M447.3,531.2L436.6,543.2" stroke="#80bac2" stroke-width="2.3"/>
<path d="M458.0,571.9L447.3,557.6" stroke="#cdbd44" stroke-width="2.3"/>
<path d="M447.3,557.6L436.6,543.2" stroke="#80bac2" stroke-width="2.3"/>
<path d="M458.0,571.9L447.3,584.4" stroke="#cdbd44" stroke-width="2.3"/>
<path d="M447.3,584.4L436.6,596.9" stroke="#cf8c56" stroke-width="2.3"/>
<path d="M458.0,624.7L447.3,610.8" stroke="#cdbd44" stroke-width="2.3"/>
<path d="M447.3,610.8L436.6,596.9" stroke="#cf8c56" stroke-width="2.3"/>
<path d="M458.0,624.7L447.3,637.7" stroke="#cdbd44" stroke-width="2.3"/>
<path d="M447.3,637.7L436.6,650.6" stroke="#cf8c56" stroke-width="2.3"/>
<path d="M458.4,677.5L447.5,664.1" stroke="#cdbd44" stroke-width="2.3"/>
<path d="M447.5,664.1L436.6,650.6" stroke="#cf8c56" stroke-width="2.3"/>
<path d="M458.4,677.5L447.5,690.9" stroke="#cdbd44" stroke-width="2.3"/>
<path d="M447.5,690.9L436.6,704.4" stroke="#cf8c56" stroke-width="2.3"/>
<path d="M458.0,730.3L447.3,717.3" stroke="#cdbd44" stroke-width="2.3"/>
<path d="M447.3,717.3L436.6,704.4" stroke="#cf8c56" stroke-width="2.3"/>
<path d="M458.0,730.3L447.3,744.2" stroke="#cdbd44" stroke-width="2.3"/>
<path d="M447.3,744.2L436.6,758.1" stroke="#cf8c56" stroke-width="2.3"/>
<path d="M458.0,783.1L447.3,770.6" stroke="#cdbd44" stroke-width="2.3"/>
<path d="M447.3,770.6L436.6,758.1" stroke="#cf8c56" stroke-width="2.3"/>
<path d="M458.0,783.1L447.3,797.4" stroke="#cdbd44" stroke-width="2.3"/>
<path d="M447.3,797.4L436.6,811.8" stroke="#cf8c56" stroke-width="2.3"/>
<path d="M458.0,835.8L447.3,823.8" stroke="#cdbd44" stroke-width="2.3"/>
<path d="M447.3,823.8L436.6,811.8" stroke="#cf8c56" stroke-width="2.3"/>
<path d="M458.0,835.8L447.3,850.7" stroke="#cdbd44" stroke-width="2.3"/>
<path d="M447.3,850.7L436.6,865.6" stroke="#cf8c56" stroke-width="2.3"/>
<path d="M494.6,545.5L484.2,530.9" stroke="#7c9fca" stroke-width="2.3"/>
<path d="M484.2,530.9L473.8,516.3" stroke="#80bac2" stroke-width="2.3"/>
<path d="M494.6,545.5L484.2,557.8" stroke="#7c9fca" stroke-width="2.3"/>
<path d="M484.2,557.8L473.8,570.0" stroke="#cf8c56" stroke-width="2.3"/>
<path d="M495.9,599.2L484.9,584.6" stroke="#cdbd44" stroke-width="2.2"/>
<path d="M484.9,584.6L473.8,570.0" stroke="#cf8c56" stroke-width="2.2"/>
<path d="M495.9,599.2L485.3,611.7" stroke="#cdbd44" stroke-width="2.2"/>
<path d="M485.3,611.7L474.7,624.1" stroke="#cf8c56" stroke-width="2.2"/>
<path d="M497.4,651.7L486.1,637.9" stroke="#cdbd44" stroke-width="2.1"/>
<path d="M486.1,637.9L474.7,624.1" stroke="#cf8c56" stroke-width="2.1"/>
<path d="M497.4,651.7L486.5,664.6" stroke="#cdbd44" stroke-width="2.1"/>
<path d="M486.5,664.6L475.6,677.5" stroke="#cf8c56" stroke-width="2.1"/>
<path d="M497.4,703.3L486.5,690.4" stroke="#cdbd44" stroke-width="2.1"/>
<path d="M486.5,690.4L475.6,677.5" stroke="#cf8c56" stroke-width="2.1"/>
<path d="M497.4,703.3L486.1,717.1" stroke="#cdbd44" stroke-width="2.1"/>
<path d="M486.1,717.1L474.7,730.9" stroke="#cf8c56" stroke-width="2.1"/>
<path d="M495.9,755.8L485.3,743.3" stroke="#cdbd44" stroke-width="2.2"/>
<path d="M485.3,743.3L474.7,730.9" stroke="#cf8c56" stroke-width="2.2"/>
<path d="M495.9,755.8L484.9,770.4" stroke="#cdbd44" stroke-width="2.2"/>
<path d="M484.9,770.4L473.8,785.0" stroke="#cf8c56" stroke-width="2.2"/>
<path d="M494.6,809.5L484.2,797.2" stroke="#cdbd44" stroke-width="2.3"/>
<path d="M484.2,797.2L473.8,785.0" stroke="#cf8c56" stroke-width="2.3"/>
<path d="M494.6,809.5L484.2,824.1" stroke="#cdbd44" stroke-width="2.3"/>
<path d="M484.2,824.1L473.8,838.7" stroke="#cf8c56" stroke-width="2.3"/>
<path d="M494.6,862.2L484.2,850.5" stroke="#cdbd44" stroke-width="2.3"/>
<path d="M484.2,850.5L473.8,838.7" stroke="#cf8c56" stroke-width="2.3"/>
<path d="M531.2,519.2L521.1,531.2" stroke="#7c9fca" stroke-width="2.3"/>
<path d="M521.1,531.2L511.1,543.2" stroke="#80bac2" stroke-width="2.3"/>
<path d="M532.6,573.8L521.8,558.5" stroke="#cdbd44" stroke-width="2.2"/>
<path d="M521.8,558.5L511.1,543.2" stroke="#80bac2" stroke-width="2.2"/>
<path d="M532.6,573.8L522.8,586.1" stroke="#cdbd44" stroke-width="2.2"/>
<path d="M522.8,586.1L513.0,598.4" stroke="#cf8c56" stroke-width="2.2"/>
<path d="M534.2,626.7L523.6,612.6" stroke="#cdbd44" stroke-width="1.9"/>
<path d="M523.6,612.6L513.0,598.4" stroke="#cf8c56" stroke-width="1.9"/>
<path d="M534.2,626.7L524.4,639.1" stroke="#cdbd44" stroke-width="1.9"/>
<path d="M524.4,639.1L514.5,651.5" stroke="#cf8c56" stroke-width="1.9"/>
<path d="M534.9,677.5L524.7,664.5" stroke="#cdbd44" stroke-width="1.8"/>
<path d="M524.7,664.5L514.5,651.5" stroke="#cf8c56" stroke-width="1.8"/>
<path d="M534.9,677.5L524.7,690.5" stroke="#cdbd44" stroke-width="1.8"/>
<path d="M524.7,690.5L514.5,703.5" stroke="#cf8c56" stroke-width="1.8"/>
<path d="M534.2,728.3L524.4,715.9" stroke="#cdbd44" stroke-width="1.9"/>
<path d="M524.4,715.9L514.5,703.5" stroke="#cf8c56" stroke-width="1.9"/>
<path d="M534.2,728.3L523.6,742.4" stroke="#cdbd44" stroke-width="1.9"/>
<path d="M523.6,742.4L513.0,756.6" stroke="#cf8c56" stroke-width="1.9"/>
<path d="M532.6,781.2L522.8,768.9" stroke="#cdbd44" stroke-width="2.2"/>
<path d="M522.8,768.9L513.0,756.6" stroke="#cf8c56" stroke-width="2.2"/>
<path d="M532.6,781.2L521.8,796.5" stroke="#cdbd44" stroke-width="2.2"/>
<path d="M521.8,796.5L511.1,811.8" stroke="#cf8c56" stroke-width="2.2"/>
<path d="M531.2,835.8L521.1,823.8" stroke="#cdbd44" stroke-width="2.3"/>
<path d="M521.1,823.8L511.1,811.8" stroke="#cf8c56" stroke-width="2.3"/>
<path d="M531.2,835.8L521.1,850.7" stroke="#cdbd44" stroke-width="2.3"/>
<path d="M521.1,850.7L511.1,865.6" stroke="#cf8c56" stroke-width="2.3"/>
<path d="M568.4,547.4L558.4,531.9" stroke="#7c9fca" stroke-width="2.2"/>
<path d="M558.4,531.9L548.3,516.3" stroke="#80bac2" stroke-width="2.2"/>
<path d="M568.4,547.4L559.1,559.9" stroke="#7c9fca" stroke-width="2.2"/>
<path d="M559.1,559.9L549.8,572.5" stroke="#cf8c56" stroke-width="2.2"/>
<path d="M569.6,601.6L559.7,587.0" stroke="#cdbd44" stroke-width="1.9"/>
<path d="M559.7,587.0L549.8,572.5" stroke="#cf8c56" stroke-width="1.9"/>
<path d="M569.6,601.6L560.5,613.9" stroke="#cdbd44" stroke-width="1.9"/>
<path d="M560.5,613.9L551.4,626.3" stroke="#cf8c56" stroke-width="1.9"/>
<path d="M570.5,652.7L561.0,639.5" stroke="#cdbd44" stroke-width="1.6"/>
<path d="M561.0,639.5L551.4,626.3" stroke="#cf8c56" stroke-width="1.6"/>
<path d="M570.5,652.7L561.3,665.1" stroke="#cdbd44" stroke-width="1.6"/>
<path d="M561.3,665.1L552.2,677.5" stroke="#cf8c56" stroke-width="1.6"/>
<path d="M570.5,702.3L561.3,689.9" stroke="#cdbd44" stroke-width="1.6"/>
<path d="M561.3,689.9L552.2,677.5" stroke="#cf8c56" stroke-width="1.6"/>
<path d="M570.5,702.3L561.0,715.5" stroke="#cdbd44" stroke-width="1.6"/>
<path d="M561.0,715.5L551.4,728.7" stroke="#cf8c56" stroke-width="1.6"/>
<path d="M569.6,753.4L560.5,741.1" stroke="#cdbd44" stroke-width="1.9"/>
<path d="M560.5,741.1L551.4,728.7" stroke="#cf8c56" stroke-width="1.9"/>
<path d="M569.6,753.4L559.7,768.0" stroke="#cdbd44" stroke-width="1.9"/>
<path d="M559.7,768.0L549.8,782.5" stroke="#cf8c56" stroke-width="1.9"/>
<path d="M568.4,807.6L559.1,795.1" stroke="#cdbd44" stroke-width="2.2"/>
<path d="M559.1,795.1L549.8,782.5" stroke="#cf8c56" stroke-width="2.2"/>
<path d="M568.4,807.6L558.4,823.1" stroke="#cdbd44" stroke-width="2.2"/>
<path d="M558.4,823.1L548.3,838.7" stroke="#cf8c56" stroke-width="2.2"/>
<path d="M567.8,862.2L558.0,850.5" stroke="#cdbd44" stroke-width="2.3"/>
<path d="M558.0,850.5L548.3,838.7" stroke="#cf8c56" stroke-width="2.3"/>
<path d="M604.4,519.6L595.2,532.4" stroke="#7c9fca" stroke-width="2.3"/>
<path d="M595.2,532.4L586.0,545.3" stroke="#80bac2" stroke-width="2.3"/>
<path d="M604.7,575.5L595.3,560.4" stroke="#cdbd44" stroke-width="2.0"/>
<path d="M595.3,560.4L586.0,545.3" stroke="#80bac2" stroke-width="2.0"/>
<path d="M604.7,575.5L595.8,588.1" stroke="#cdbd44" stroke-width="2.0"/>
<path d="M595.8,588.1L586.9,600.7" stroke="#cf8c56" stroke-width="2.0"/>
<path d="M604.9,627.9L595.9,614.3" stroke="#cdbd44" stroke-width="1.6"/>
<path d="M595.9,614.3L586.9,600.7" stroke="#cf8c56" stroke-width="1.6"/>
<path d="M604.9,627.9L596.3,640.3" stroke="#cdbd44" stroke-width="1.6"/>
<path d="M596.3,640.3L587.7,652.7" stroke="#cf8c56" stroke-width="1.6"/>
<path d="M605.1,677.5L596.4,665.1" stroke="#cdbd44" stroke-width="1.3"/>
<path d="M596.4,665.1L587.7,652.7" stroke="#cf8c56" stroke-width="1.3"/>
<path d="M605.1,677.5L596.4,689.9" stroke="#cdbd44" stroke-width="1.3"/>
<path d="M596.4,689.9L587.7,702.3" stroke="#cf8c56" stroke-width="1.3"/>
<path d="M604.9,727.1L596.3,714.7" stroke="#cdbd44" stroke-width="1.6"/>
<path d="M596.3,714.7L587.7,702.3" stroke="#cf8c56" stroke-width="1.6"/>
<path d="M604.9,727.1L595.9,740.7" stroke="#cdbd44" stroke-width="1.6"/>
<path d="M595.9,740.7L586.9,754.3" stroke="#cf8c56" stroke-width="1.6"/>
<path d="M604.7,779.5L595.8,766.9" stroke="#cdbd44" stroke-width="2.0"/>
<path d="M595.8,766.9L586.9,754.3" stroke="#cf8c56" stroke-width="2.0"/>
<path d="M604.7,779.5L595.3,794.6" stroke="#cdbd44" stroke-width="2.0"/>
<path d="M595.3,794.6L586.0,809.7" stroke="#cf8c56" stroke-width="2.0"/>
<path d="M604.4,835.4L595.2,822.6" stroke="#cdbd44" stroke-width="2.3"/>
<path d="M595.2,822.6L586.0,809.7" stroke="#cf8c56" stroke-width="2.3"/>
<path d="M604.4,835.4L595.0,850.5" stroke="#cdbd44" stroke-width="2.3"/>
<path d="M595.0,850.5L585.6,865.6" stroke="#cf8c56" stroke-width="2.3"/>
<path d="M640.5,547.8L631.6,532.2" stroke="#7c9fca" stroke-width="2.2"/>
<path d="M631.6,532.2L622.8,516.5" stroke="#80bac2" stroke-width="2.2"/>
<path d="M640.5,547.8L631.5,560.8" stroke="#7c9fca" stroke-width="2.2"/>
<path d="M631.5,560.8L622.5,573.7" stroke="#cf8c56" stroke-width="2.2"/>
<path d="M639.7,601.9L631.1,587.8" stroke="#cdbd44" stroke-width="1.8"/>
<path d="M631.1,587.8L622.5,573.7" stroke="#cf8c56" stroke-width="1.8"/>
<path d="M639.7,601.9L631.0,614.6" stroke="#cdbd44" stroke-width="1.8"/>
<path d="M631.0,614.6L622.2,627.3" stroke="#cf8c56" stroke-width="1.8"/>
<path d="M639.1,652.9L630.6,640.1" stroke="#cdbd44" stroke-width="1.5"/>
<path d="M630.6,640.1L622.2,627.3" stroke="#cf8c56" stroke-width="1.5"/>
<path d="M639.1,652.9L630.5,665.2" stroke="#cdbd44" stroke-width="1.5"/>
<path d="M630.5,665.2L621.9,677.5" stroke="#cf8c56" stroke-width="1.5"/>
<path d="M639.1,702.1L630.5,689.8" stroke="#cdbd44" stroke-width="1.5"/>
<path d="M630.5,689.8L621.9,677.5" stroke="#cf8c56" stroke-width="1.5"/>
<path d="M639.1,702.1L630.6,714.9" stroke="#cdbd44" stroke-width="1.5"/>
<path d="M630.6,714.9L622.2,727.7" stroke="#cf8c56" stroke-width="1.5"/>
<path d="M639.7,753.1L631.0,740.4" stroke="#cdbd44" stroke-width="1.8"/>
<path d="M631.0,740.4L622.2,727.7" stroke="#cf8c56" stroke-width="1.8"/>
<path d="M639.7,753.1L631.1,767.2" stroke="#cdbd44" stroke-width="1.8"/>
<path d="M631.1,767.2L622.5,781.3" stroke="#cf8c56" stroke-width="1.8"/>
<path d="M640.5,807.2L631.5,794.2" stroke="#cdbd44" stroke-width="2.2"/>
<path d="M631.5,794.2L622.5,781.3" stroke="#cf8c56" stroke-width="2.2"/>
<path d="M640.5,807.2L631.6,822.8" stroke="#cdbd44" stroke-width="2.2"/>
<path d="M631.6,822.8L622.8,838.5" stroke="#cf8c56" stroke-width="2.2"/>
<path d="M640.9,862.2L631.9,850.4" stroke="#cdbd44" stroke-width="2.3"/>
<path d="M631.9,850.4L622.8,838.5" stroke="#cf8c56" stroke-width="2.3"/>
<path d="M677.5,519.2L668.5,532.0" stroke="#7c9fca" stroke-width="2.3"/>
<path d="M668.5,532.0L659.5,544.9" stroke="#80bac2" stroke-width="2.3"/>
<path d="M676.0,574.5L667.7,559.7" stroke="#cdbd44" stroke-width="2.1"/>
<path d="M667.7,559.7L659.5,544.9" stroke="#80bac2" stroke-width="2.1"/>
<path d="M676.0,574.5L667.0,587.4" stroke="#cdbd44" stroke-width="2.1"/>
<path d="M667.0,587.4L658.1,600.3" stroke="#cf8c56" stroke-width="2.1"/>
<path d="M674.7,627.1L666.4,613.7" stroke="#cdbd44" stroke-width="1.8"/>
<path d="M666.4,613.7L658.1,600.3" stroke="#cf8c56" stroke-width="1.8"/>
<path d="M674.7,627.1L665.8,639.8" stroke="#cdbd44" stroke-width="1.8"/>
<path d="M665.8,639.8L657.0,652.4" stroke="#cf8c56" stroke-width="1.8"/>
<path d="M674.1,677.5L665.5,665.0" stroke="#cdbd44" stroke-width="1.7"/>
<path d="M665.5,665.0L657.0,652.4" stroke="#cf8c56" stroke-width="1.7"/>
<path d="M674.1,677.5L665.5,690.0" stroke="#cdbd44" stroke-width="1.7"/>
<path d="M665.5,690.0L657.0,702.6" stroke="#cf8c56" stroke-width="1.7"/>
<path d="M674.7,727.9L665.8,715.2" stroke="#cdbd44" stroke-width="1.8"/>
<path d="M665.8,715.2L657.0,702.6" stroke="#cf8c56" stroke-width="1.8"/>
<path d="M674.7,727.9L666.4,741.3" stroke="#cdbd44" stroke-width="1.8"/>
<path d="M666.4,741.3L658.1,754.7" stroke="#cf8c56" stroke-width="1.8"/>
<path d="M676.0,780.5L667.0,767.6" stroke="#cdbd44" stroke-width="2.1"/>
<path d="M667.0,767.6L658.1,754.7" stroke="#cf8c56" stroke-width="2.1"/>
<path d="M676.0,780.5L667.7,795.3" stroke="#cdbd44" stroke-width="2.1"/>
<path d="M667.7,795.3L659.5,810.1" stroke="#cf8c56" stroke-width="2.1"/>
<path d="M677.5,835.8L668.5,823.0" stroke="#cdbd44" stroke-width="2.3"/>
<path d="M668.5,823.0L659.5,810.1" stroke="#cf8c56" stroke-width="2.3"/>
<path d="M677.5,835.8L668.8,850.7" stroke="#cdbd44" stroke-width="2.3"/>
<path d="M668.8,850.7L660.1,865.6" stroke="#cf8c56" stroke-width="2.3"/>
<path d="M714.1,545.5L705.7,530.9" stroke="#7c9fca" stroke-width="2.3"/>
<path d="M705.7,530.9L697.3,516.3" stroke="#80bac2" stroke-width="2.3"/>
<path d="M714.1,545.5L705.1,558.6" stroke="#7c9fca" stroke-width="2.3"/>
<path d="M705.1,558.6L696.0,571.7" stroke="#cf8c56" stroke-width="2.3"/>
<path d="M712.1,600.0L704.0,585.8" stroke="#cdbd44" stroke-width="2.1"/>
<path d="M704.0,585.8L696.0,571.7" stroke="#cf8c56" stroke-width="2.1"/>
<path d="M712.1,600.0L703.1,612.9" stroke="#cdbd44" stroke-width="2.1"/>
<path d="M703.1,612.9L694.1,625.8" stroke="#cf8c56" stroke-width="2.1"/>
<path d="M710.7,652.0L702.4,638.9" stroke="#cdbd44" stroke-width="1.9"/>
<path d="M702.4,638.9L694.1,625.8" stroke="#cf8c56" stroke-width="1.9"/>
<path d="M710.7,652.0L702.0,664.8" stroke="#cdbd44" stroke-width="1.9"/>
<path d="M702.0,664.8L693.3,677.5" stroke="#cf8c56" stroke-width="1.9"/>
<path d="M710.7,703.0L702.0,690.2" stroke="#cdbd44" stroke-width="1.9"/>
<path d="M702.0,690.2L693.3,677.5" stroke="#cf8c56" stroke-width="1.9"/>
<path d="M710.7,703.0L702.4,716.1" stroke="#cdbd44" stroke-width="1.9"/>
<path d="M702.4,716.1L694.1,729.2" stroke="#cf8c56" stroke-width="1.9"/>
<path d="M712.1,755.0L703.1,742.1" stroke="#cdbd44" stroke-width="2.1"/>
<path d="M703.1,742.1L694.1,729.2" stroke="#cf8c56" stroke-width="2.1"/>
<path d="M712.1,755.0L704.0,769.2" stroke="#cdbd44" stroke-width="2.1"/>
<path d="M704.0,769.2L696.0,783.3" stroke="#cf8c56" stroke-width="2.1"/>
<path d="M714.1,809.5L705.1,796.4" stroke="#cdbd44" stroke-width="2.3"/>
<path d="M705.1,796.4L696.0,783.3" stroke="#cf8c56" stroke-width="2.3"/>
<path d="M714.1,809.5L705.7,824.1" stroke="#cdbd44" stroke-width="2.3"/>
<path d="M705.7,824.1L697.3,838.7" stroke="#cf8c56" stroke-width="2.3"/>
<path d="M714.1,862.2L705.7,850.5" stroke="#cdbd44" stroke-width="2.3"/>
<path d="M705.7,850.5L697.3,838.7" stroke="#cf8c56" stroke-width="2.3"/>
<path d="M750.7,571.9L742.1,584.8" stroke="#cdbd44" stroke-width="2.3"/>
<path d="M742.1,584.8L733.4,597.7" stroke="#cf8c56" stroke-width="2.3"/>
<path d="M749.6,625.2L741.5,611.4" stroke="#cdbd44" stroke-width="2.2"/>
<path d="M741.5,611.4L733.4,597.7" stroke="#cf8c56" stroke-width="2.2"/>
<path d="M749.6,625.2L740.7,638.2" stroke="#cdbd44" stroke-width="2.2"/>
<path d="M740.7,638.2L731.8,651.2" stroke="#cf8c56" stroke-width="2.2"/>
<path d="M748.8,677.5L740.3,664.4" stroke="#cdbd44" stroke-width="2.2"/>
<path d="M740.3,664.4L731.8,651.2" stroke="#cf8c56" stroke-width="2.2"/>
<path d="M748.8,677.5L740.3,690.6" stroke="#cdbd44" stroke-width="2.2"/>
<path d="M740.3,690.6L731.8,703.8" stroke="#cf8c56" stroke-width="2.2"/>
<path d="M749.6,729.8L740.7,716.8" stroke="#cdbd44" stroke-width="2.2"/>
<path d="M740.7,716.8L731.8,703.8" stroke="#cf8c56" stroke-width="2.2"/>
<path d="M749.6,729.8L741.5,743.6" stroke="#cdbd44" stroke-width="2.2"/>
<path d="M741.5,743.6L733.4,757.3" stroke="#cf8c56" stroke-width="2.2"/>
<path d="M750.7,783.1L742.1,770.2" stroke="#cdbd44" stroke-width="2.3"/>
<path d="M742.1,770.2L733.4,757.3" stroke="#cf8c56" stroke-width="2.3"/>
<circle cx="458.0" cy="519.2" r="6.9" fill="url(#ab1)"/>
<circle cx="458.0" cy="571.9" r="6.7" fill="url(#ay1)"/>
<circle cx="458.0" cy="624.7" r="6.7" fill="url(#ay1)"/>
<circle cx="458.4" cy="677.5" r="6.7" fill="url(#ay1)"/>
<circle cx="458.0" cy="730.3" r="6.7" fill="url(#ay1)"/>
<circle cx="458.0" cy="783.1" r="6.7" fill="url(#ay1)"/>
<circle cx="458.0" cy="835.8" r="6.7" fill="url(#ay1)"/>
<circle cx="494.6" cy="545.5" r="6.9" fill="url(#ab1)"/>
<circle cx="495.9" cy="599.2" r="6.6" fill="url(#ay1)"/>
<circle cx="497.4" cy="651.7" r="6.5" fill="url(#ay1)"/>
<circle cx="497.4" cy="703.3" r="6.5" fill="url(#ay1)"/>
<circle cx="495.9" cy="755.8" r="6.6" fill="url(#ay1)"/>
<circle cx="494.6" cy="809.5" r="6.7" fill="url(#ay1)"/>
<circle cx="531.2" cy="519.2" r="6.9" fill="url(#ab1)"/>
<circle cx="532.6" cy="573.8" r="6.6" fill="url(#ay1)"/>
<circle cx="534.2" cy="626.7" r="6.4" fill="url(#ay1)"/>
<circle cx="534.9" cy="677.5" r="6.4" fill="url(#ay1)"/>
<circle cx="534.2" cy="728.3" r="6.4" fill="url(#ay1)"/>
<circle cx="532.6" cy="781.2" r="6.6" fill="url(#ay1)"/>
<circle cx="531.2" cy="835.8" r="6.7" fill="url(#ay1)"/>
<circle cx="568.4" cy="547.4" r="6.8" fill="url(#ab1)"/>
<circle cx="569.6" cy="601.6" r="6.4" fill="url(#ay1)"/>
<circle cx="570.5" cy="652.7" r="6.3" fill="url(#ay1)"/>
<circle cx="570.5" cy="702.3" r="6.3" fill="url(#ay1)"/>
<circle cx="569.6" cy="753.4" r="6.4" fill="url(#ay1)"/>
<circle cx="568.4" cy="807.6" r="6.6" fill="url(#ay1)"/>
<circle cx="604.4" cy="519.6" r="6.9" fill="url(#ab1)"/>
<circle cx="604.7" cy="575.5" r="6.5" fill="url(#ay1)"/>
<circle cx="604.9" cy="627.9" r="6.3" fill="url(#ay1)"/>
<circle cx="605.1" cy="677.5" r="6.1" fill="url(#ay1)"/>
<circle cx="604.9" cy="727.1" r="6.3" fill="url(#ay1)"/>
<circle cx="604.7" cy="779.5" r="6.5" fill="url(#ay1)"/>
<circle cx="604.4" cy="835.4" r="6.7" fill="url(#ay1)"/>
<circle cx="640.5" cy="547.8" r="6.8" fill="url(#ab1)"/>
<circle cx="639.7" cy="601.9" r="6.4" fill="url(#ay1)"/>
<circle cx="639.1" cy="652.9" r="6.2" fill="url(#ay1)"/>
<circle cx="639.1" cy="702.1" r="6.2" fill="url(#ay1)"/>
<circle cx="639.7" cy="753.1" r="6.4" fill="url(#ay1)"/>
<circle cx="640.5" cy="807.2" r="6.6" fill="url(#ay1)"/>
<circle cx="677.5" cy="519.2" r="6.9" fill="url(#ab1)"/>
<circle cx="676.0" cy="574.5" r="6.5" fill="url(#ay1)"/>
<circle cx="674.7" cy="627.1" r="6.4" fill="url(#ay1)"/>
<circle cx="674.1" cy="677.5" r="6.3" fill="url(#ay1)"/>
<circle cx="674.7" cy="727.9" r="6.4" fill="url(#ay1)"/>
<circle cx="676.0" cy="780.5" r="6.5" fill="url(#ay1)"/>
<circle cx="677.5" cy="835.8" r="6.7" fill="url(#ay1)"/>
<circle cx="714.1" cy="545.5" r="6.9" fill="url(#ab1)"/>
<circle cx="712.1" cy="600.0" r="6.5" fill="url(#ay1)"/>
<circle cx="710.7" cy="652.0" r="6.5" fill="url(#ay1)"/>
<circle cx="710.7" cy="703.0" r="6.5" fill="url(#ay1)"/>
<circle cx="712.1" cy="755.0" r="6.5" fill="url(#ay1)"/>
<circle cx="714.1" cy="809.5" r="6.7" fill="url(#ay1)"/>
<path d="M421.4,545.5L429.0,544.4" stroke="#7c9fca" stroke-width="2.3"/>
<path d="M429.0,544.4L436.6,543.2" stroke="#80bac2" stroke-width="2.3"/>
<path d="M421.4,598.3L429.0,597.6" stroke="#cdbd44" stroke-width="2.3"/>
<path d="M429.0,597.6L436.6,596.9" stroke="#cf8c56" stroke-width="2.3"/>
<path d="M421.4,651.1L429.0,650.9" stroke="#cdbd44" stroke-width="2.3"/>
<path d="M429.0,650.9L436.6,650.6" stroke="#cf8c56" stroke-width="2.3"/>
<path d="M421.4,703.9L429.0,704.1" stroke="#cdbd44" stroke-width="2.3"/>
<path d="M429.0,704.1L436.6,704.4" stroke="#cf8c56" stroke-width="2.3"/>
<path d="M421.4,756.7L429.0,757.4" stroke="#cdbd44" stroke-width="2.3"/>
<path d="M429.0,757.4L436.6,758.1" stroke="#cf8c56" stroke-width="2.3"/>
<path d="M421.4,809.5L429.0,810.6" stroke="#cdbd44" stroke-width="2.3"/>
<path d="M429.0,810.6L436.6,811.8" stroke="#cf8c56" stroke-width="2.3"/>
<path d="M458.0,519.2L465.9,517.7" stroke="#7c9fca" stroke-width="2.3"/>
<path d="M465.9,517.7L473.8,516.3" stroke="#80bac2" stroke-width="2.3"/>
<path d="M458.0,571.9L465.9,571.0" stroke="#cdbd44" stroke-width="2.3"/>
<path d="M465.9,571.0L473.8,570.0" stroke="#cf8c56" stroke-width="2.3"/>
<path d="M458.0,624.7L466.4,624.4" stroke="#cdbd44" stroke-width="2.3"/>
<path d="M466.4,624.4L474.7,624.1" stroke="#cf8c56" stroke-width="2.3"/>
<path d="M458.4,677.5L467.0,677.5" stroke="#cdbd44" stroke-width="2.3"/>
<path d="M467.0,677.5L475.6,677.5" stroke="#cf8c56" stroke-width="2.3"/>
<path d="M458.0,730.3L466.4,730.6" stroke="#cdbd44" stroke-width="2.3"/>
<path d="M466.4,730.6L474.7,730.9" stroke="#cf8c56" stroke-width="2.3"/>
<path d="M458.0,783.1L465.9,784.0" stroke="#cdbd44" stroke-width="2.3"/>
<path d="M465.9,784.0L473.8,785.0" stroke="#cf8c56" stroke-width="2.3"/>
<path d="M458.0,835.8L465.9,837.3" stroke="#cdbd44" stroke-width="2.3"/>
<path d="M465.9,837.3L473.8,838.7" stroke="#cf8c56" stroke-width="2.3"/>
<path d="M494.6,545.5L502.8,544.4" stroke="#7c9fca" stroke-width="2.3"/>
<path d="M502.8,544.4L511.1,543.2" stroke="#80bac2" stroke-width="2.3"/>
<path d="M495.9,599.2L504.5,598.8" stroke="#cdbd44" stroke-width="2.2"/>
<path d="M504.5,598.8L513.0,598.4" stroke="#cf8c56" stroke-width="2.2"/>
<path d="M497.4,651.7L506.0,651.6" stroke="#cdbd44" stroke-width="2.1"/>
<path d="M506.0,651.6L514.5,651.5" stroke="#cf8c56" stroke-width="2.1"/>
<path d="M497.4,703.3L506.0,703.4" stroke="#cdbd44" stroke-width="2.1"/>
<path d="M506.0,703.4L514.5,703.5" stroke="#cf8c56" stroke-width="2.1"/>
<path d="M495.9,755.8L504.5,756.2" stroke="#cdbd44" stroke-width="2.2"/>
<path d="M504.5,756.2L513.0,756.6" stroke="#cf8c56" stroke-width="2.2"/>
<path d="M494.6,809.5L502.8,810.6" stroke="#cdbd44" stroke-width="2.3"/>
<path d="M502.8,810.6L511.1,811.8" stroke="#cf8c56" stroke-width="2.3"/>
<path d="M531.2,519.2L539.7,517.7" stroke="#7c9fca" stroke-width="2.3"/>
<path d="M539.7,517.7L548.3,516.3" stroke="#80bac2" stroke-width="2.3"/>
<path d="M532.6,573.8L541.2,573.1" stroke="#cdbd44" stroke-width="2.2"/>
<path d="M541.2,573.1L549.8,572.5" stroke="#cf8c56" stroke-width="2.2"/>
<path d="M534.2,626.7L542.8,626.5" stroke="#cdbd44" stroke-width="1.9"/>
<path d="M542.8,626.5L551.4,626.3" stroke="#cf8c56" stroke-width="1.9"/>
<path d="M534.9,677.5L543.5,677.5" stroke="#cdbd44" stroke-width="1.8"/>
<path d="M543.5,677.5L552.2,677.5" stroke="#cf8c56" stroke-width="1.8"/>
<path d="M534.2,728.3L542.8,728.5" stroke="#cdbd44" stroke-width="1.9"/>
<path d="M542.8,728.5L551.4,728.7" stroke="#cf8c56" stroke-width="1.9"/>
<path d="M532.6,781.2L541.2,781.9" stroke="#cdbd44" stroke-width="2.2"/>
<path d="M541.2,781.9L549.8,782.5" stroke="#cf8c56" stroke-width="2.2"/>
<path d="M531.2,835.8L539.7,837.3" stroke="#cdbd44" stroke-width="2.3"/>
<path d="M539.7,837.3L548.3,838.7" stroke="#cf8c56" stroke-width="2.3"/>
<path d="M568.4,547.4L577.2,546.4" stroke="#7c9fca" stroke-width="2.2"/>
<path d="M577.2,546.4L586.0,545.3" stroke="#80bac2" stroke-width="2.2"/>
<path d="M569.6,601.6L578.3,601.2" stroke="#cdbd44" stroke-width="1.9"/>
<path d="M578.3,601.2L586.9,600.7" stroke="#cf8c56" stroke-width="1.9"/>
<path d="M570.5,652.7L579.1,652.7" stroke="#cdbd44" stroke-width="1.6"/>
<path d="M579.1,652.7L587.7,652.7" stroke="#cf8c56" stroke-width="1.6"/>
<path d="M570.5,702.3L579.1,702.3" stroke="#cdbd44" stroke-width="1.6"/>
<path d="M579.1,702.3L587.7,702.3" stroke="#cf8c56" stroke-width="1.6"/>
<path d="M569.6,753.4L578.3,753.8" stroke="#cdbd44" stroke-width="1.9"/>
<path d="M578.3,753.8L586.9,754.3" stroke="#cf8c56" stroke-width="1.9"/>
<path d="M568.4,807.6L577.2,808.6" stroke="#cdbd44" stroke-width="2.2"/>
<path d="M577.2,808.6L586.0,809.7" stroke="#cf8c56" stroke-width="2.2"/>
<path d="M604.4,519.6L613.6,518.0" stroke="#7c9fca" stroke-width="2.3"/>
<path d="M613.6,518.0L622.8,516.5" stroke="#80bac2" stroke-width="2.3"/>
<path d="M604.7,575.5L613.6,574.6" stroke="#cdbd44" stroke-width="2.0"/>
<path d="M613.6,574.6L622.5,573.7" stroke="#cf8c56" stroke-width="2.0"/>
<path d="M604.9,627.9L613.5,627.6" stroke="#cdbd44" stroke-width="1.6"/>
<path d="M613.5,627.6L622.2,627.3" stroke="#cf8c56" stroke-width="1.6"/>
<path d="M605.1,677.5L613.5,677.5" stroke="#cdbd44" stroke-width="1.3"/>
<path d="M613.5,677.5L621.9,677.5" stroke="#cf8c56" stroke-width="1.3"/>
<path d="M604.9,727.1L613.5,727.4" stroke="#cdbd44" stroke-width="1.6"/>
<path d="M613.5,727.4L622.2,727.7" stroke="#cf8c56" stroke-width="1.6"/>
<path d="M604.7,779.5L613.6,780.4" stroke="#cdbd44" stroke-width="2.0"/>
<path d="M613.6,780.4L622.5,781.3" stroke="#cf8c56" stroke-width="2.0"/>
<path d="M604.4,835.4L613.6,837.0" stroke="#cdbd44" stroke-width="2.3"/>
<path d="M613.6,837.0L622.8,838.5" stroke="#cf8c56" stroke-width="2.3"/>
<path d="M640.5,547.8L650.0,546.4" stroke="#7c9fca" stroke-width="2.2"/>
<path d="M650.0,546.4L659.5,544.9" stroke="#80bac2" stroke-width="2.2"/>
<path d="M639.7,601.9L648.9,601.1" stroke="#cdbd44" stroke-width="1.8"/>
<path d="M648.9,601.1L658.1,600.3" stroke="#cf8c56" stroke-width="1.8"/>
<path d="M639.1,652.9L648.0,652.7" stroke="#cdbd44" stroke-width="1.5"/>
<path d="M648.0,652.7L657.0,652.4" stroke="#cf8c56" stroke-width="1.5"/>
<path d="M639.1,702.1L648.0,702.3" stroke="#cdbd44" stroke-width="1.5"/>
<path d="M648.0,702.3L657.0,702.6" stroke="#cf8c56" stroke-width="1.5"/>
<path d="M639.7,753.1L648.9,753.9" stroke="#cdbd44" stroke-width="1.8"/>
<path d="M648.9,753.9L658.1,754.7" stroke="#cf8c56" stroke-width="1.8"/>
<path d="M640.5,807.2L650.0,808.6" stroke="#cdbd44" stroke-width="2.2"/>
<path d="M650.0,808.6L659.5,810.1" stroke="#cf8c56" stroke-width="2.2"/>
<path d="M677.5,519.2L687.4,517.7" stroke="#7c9fca" stroke-width="2.3"/>
<path d="M687.4,517.7L697.3,516.3" stroke="#80bac2" stroke-width="2.3"/>
<path d="M676.0,574.5L686.0,573.1" stroke="#cdbd44" stroke-width="2.1"/>
<path d="M686.0,573.1L696.0,571.7" stroke="#cf8c56" stroke-width="2.1"/>
<path d="M674.7,627.1L684.4,626.5" stroke="#cdbd44" stroke-width="1.8"/>
<path d="M684.4,626.5L694.1,625.8" stroke="#cf8c56" stroke-width="1.8"/>
<path d="M674.1,677.5L683.7,677.5" stroke="#cdbd44" stroke-width="1.7"/>
<path d="M683.7,677.5L693.3,677.5" stroke="#cf8c56" stroke-width="1.7"/>
<path d="M674.7,727.9L684.4,728.5" stroke="#cdbd44" stroke-width="1.8"/>
<path d="M684.4,728.5L694.1,729.2" stroke="#cf8c56" stroke-width="1.8"/>
<path d="M676.0,780.5L686.0,781.9" stroke="#cdbd44" stroke-width="2.1"/>
<path d="M686.0,781.9L696.0,783.3" stroke="#cf8c56" stroke-width="2.1"/>
<path d="M677.5,835.8L687.4,837.3" stroke="#cdbd44" stroke-width="2.3"/>
<path d="M687.4,837.3L697.3,838.7" stroke="#cf8c56" stroke-width="2.3"/>
<path d="M714.1,545.5L724.3,544.4" stroke="#7c9fca" stroke-width="2.3"/>
<path d="M724.3,544.4L734.6,543.2" stroke="#80bac2" stroke-width="2.3"/>
<path d="M712.1,600.0L722.7,598.8" stroke="#cdbd44" stroke-width="2.1"/>
<path d="M722.7,598.8L733.4,597.7" stroke="#cf8c56" stroke-width="2.1"/>
<path d="M710.7,652.0L721.3,651.6" stroke="#cdbd44" stroke-width="1.9"/>
<path d="M721.3,651.6L731.8,651.2" stroke="#cf8c56" stroke-width="1.9"/>
<path d="M710.7,703.0L721.3,703.4" stroke="#cdbd44" stroke-width="1.9"/>
<path d="M721.3,703.4L731.8,703.8" stroke="#cf8c56" stroke-width="1.9"/>
<path d="M712.1,755.0L722.7,756.2" stroke="#cdbd44" stroke-width="2.1"/>
<path d="M722.7,756.2L733.4,757.3" stroke="#cf8c56" stroke-width="2.1"/>
<path d="M714.1,809.5L724.3,810.6" stroke="#cdbd44" stroke-width="2.3"/>
<path d="M724.3,810.6L734.6,811.8" stroke="#cf8c56" stroke-width="2.3"/>
<circle cx="436.6" cy="543.2" r="6.0" fill="url(#ac0)"/>
<circle cx="436.6" cy="596.9" r="6.1" fill="url(#ao0)"/>
<circle cx="436.6" cy="650.6" r="6.1" fill="url(#ao0)"/>
<circle cx="436.6" cy="704.4" r="6.1" fill="url(#ao0)"/>
<circle cx="436.6" cy="758.1" r="6.1" fill="url(#ao0)"/>
<circle cx="436.6" cy="811.8" r="6.1" fill="url(#ao0)"/>
<circle cx="473.8" cy="516.3" r="6.0" fill="url(#ac0)"/>
<circle cx="473.8" cy="570.0" r="6.1" fill="url(#ao0)"/>
<circle cx="474.7" cy="624.1" r="6.1" fill="url(#ao0)"/>
<circle cx="475.6" cy="677.5" r="6.0" fill="url(#ao0)"/>
<circle cx="474.7" cy="730.9" r="6.1" fill="url(#ao0)"/>
<circle cx="473.8" cy="785.0" r="6.1" fill="url(#ao0)"/>
<circle cx="473.8" cy="838.7" r="6.1" fill="url(#ao0)"/>
<circle cx="511.1" cy="543.2" r="6.0" fill="url(#ac0)"/>
<circle cx="513.0" cy="598.4" r="6.0" fill="url(#ao0)"/>
<circle cx="514.5" cy="651.5" r="5.9" fill="url(#ao0)"/>
<circle cx="514.5" cy="703.5" r="5.9" fill="url(#ao0)"/>
<circle cx="513.0" cy="756.6" r="6.0" fill="url(#ao0)"/>
<circle cx="511.1" cy="811.8" r="6.1" fill="url(#ao0)"/>
<circle cx="548.3" cy="516.3" r="6.0" fill="url(#ac0)"/>
<circle cx="549.8" cy="572.5" r="6.0" fill="url(#ao0)"/>
<circle cx="551.4" cy="626.3" r="5.8" fill="url(#ao0)"/>
<circle cx="552.2" cy="677.5" r="5.7" fill="url(#ao0)"/>
<circle cx="551.4" cy="728.7" r="5.8" fill="url(#ao0)"/>
<circle cx="549.8" cy="782.5" r="6.0" fill="url(#ao0)"/>
<circle cx="548.3" cy="838.7" r="6.1" fill="url(#ao0)"/>
<circle cx="586.0" cy="545.3" r="5.9" fill="url(#ac0)"/>
<circle cx="586.9" cy="600.7" r="5.8" fill="url(#ao0)"/>
<circle cx="587.7" cy="652.7" r="5.6" fill="url(#ao0)"/>
<circle cx="587.7" cy="702.3" r="5.6" fill="url(#ao0)"/>
<circle cx="586.9" cy="754.3" r="5.8" fill="url(#ao0)"/>
<circle cx="586.0" cy="809.7" r="6.0" fill="url(#ao0)"/>
<circle cx="622.8" cy="516.5" r="6.0" fill="url(#ac0)"/>
<circle cx="622.5" cy="573.7" r="5.9" fill="url(#ao0)"/>
<circle cx="622.2" cy="627.3" r="5.7" fill="url(#ao0)"/>
<circle cx="621.9" cy="677.5" r="5.5" fill="url(#ao0)"/>
<circle cx="622.2" cy="727.7" r="5.7" fill="url(#ao0)"/>
<circle cx="622.5" cy="781.3" r="5.9" fill="url(#ao0)"/>
<circle cx="622.8" cy="838.5" r="6.1" fill="url(#ao0)"/>
<circle cx="659.5" cy="544.9" r="5.9" fill="url(#ac0)"/>
<circle cx="658.1" cy="600.3" r="5.8" fill="url(#ao0)"/>
<circle cx="657.0" cy="652.4" r="5.7" fill="url(#ao0)"/>
<circle cx="657.0" cy="702.6" r="5.7" fill="url(#ao0)"/>
<circle cx="658.1" cy="754.7" r="5.8" fill="url(#ao0)"/>
<circle cx="659.5" cy="810.1" r="6.0" fill="url(#ao0)"/>
<circle cx="697.3" cy="516.3" r="6.0" fill="url(#ac0)"/>
<circle cx="696.0" cy="571.7" r="6.0" fill="url(#ao0)"/>
<circle cx="694.1" cy="625.8" r="5.9" fill="url(#ao0)"/>
<circle cx="693.3" cy="677.5" r="5.8" fill="url(#ao0)"/>
<circle cx="694.1" cy="729.2" r="5.9" fill="url(#ao0)"/>
<circle cx="696.0" cy="783.3" r="6.0" fill="url(#ao0)"/>
<circle cx="697.3" cy="838.7" r="6.1" fill="url(#ao0)"/>
<circle cx="733.4" cy="597.7" r="6.0" fill="url(#ao0)"/>
<circle cx="731.8" cy="651.2" r="6.0" fill="url(#ao0)"/>
<circle cx="731.8" cy="703.8" r="6.0" fill="url(#ao0)"/>
<circle cx="733.4" cy="757.3" r="6.0" fill="url(#ao0)"/>
</g>
</g></g>
</g>
<text transform="translate(285.9,98.3) scale(1,1.02)" font-family="'Liberation Sans', sans-serif" font-size="43.9" font-weight="bold" fill="#fff" stroke="#fff" stroke-width="0.4" stroke-linejoin="round" paint-order="stroke fill" text-anchor="middle">GaP dot</text>
<text transform="translate(300.7,492.6) scale(1,1.02)" font-family="'Liberation Sans', sans-serif" font-size="43.9" font-weight="bold" fill="#fff" stroke="#fff" stroke-width="0.4" stroke-linejoin="round" paint-order="stroke fill" text-anchor="middle">ZnS/GaP QS</text>
<text transform="translate(853.9,195.1) scale(1.008,1.01)" font-family="'Liberation Sans', sans-serif" font-size="39.5" fill="#fff" stroke="#fff" stroke-width="0.5" stroke-linejoin="round" paint-order="stroke fill" text-anchor="middle">Indirect</text>
<text transform="translate(853.6,242.8) scale(1.008,1.0)" font-family="'Liberation Sans', sans-serif" font-size="39.5" fill="#fff" stroke="#fff" stroke-width="0.5" stroke-linejoin="round" paint-order="stroke fill" text-anchor="middle">bandgap</text>
<text transform="translate(851.4,486.9) scale(1.012,0.99)" font-family="'Liberation Sans', sans-serif" font-size="39.3" fill="#fff" stroke="#fff" stroke-width="0.5" stroke-linejoin="round" paint-order="stroke fill" text-anchor="middle">Direct</text>
<text transform="translate(851.4,535.1) scale(1.014,0.985)" font-family="'Liberation Sans', sans-serif" font-size="39.5" fill="#fff" stroke="#fff" stroke-width="0.5" stroke-linejoin="round" paint-order="stroke fill" text-anchor="middle">bandgap</text>
<text transform="translate(284.3,657.2) scale(1,1.02)" font-family="'Liberation Sans', sans-serif" font-size="38.1" fill="#3a64a2" stroke="#3a64a2" stroke-width="0.5" stroke-linejoin="round" paint-order="stroke fill" text-anchor="middle">ZnS core</text>
<text transform="translate(285.8,769.6) scale(1,1.02)" font-family="'Liberation Sans', sans-serif" font-size="38.1" fill="#f6f1dc" stroke="#f6f1dc" stroke-width="0.4" stroke-linejoin="round" paint-order="stroke fill" text-anchor="middle">GaP shell</text>
</svg>
</body>
</html>
